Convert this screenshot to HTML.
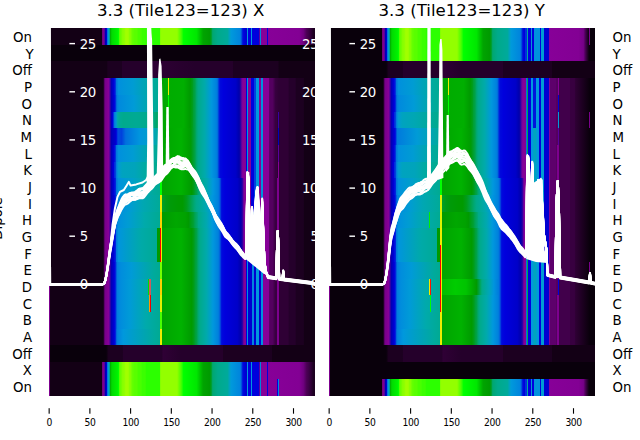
<!DOCTYPE html>
<html><head><meta charset="utf-8"><title>3.3 (Tile123=123)</title>
<style>html,body{margin:0;padding:0;background:#fff;overflow:hidden}svg{display:block}</style></head>
<body><svg width="640" height="440" viewBox="0 0 640 440">
<defs><linearGradient id="a0"><stop offset="0.00%" stop-color="#130015"/><stop offset="19.94%" stop-color="#130015"/><stop offset="19.94%" stop-color="#700080"/><stop offset="20.09%" stop-color="#700080"/><stop offset="20.40%" stop-color="#810092"/><stop offset="20.55%" stop-color="#810092"/><stop offset="20.55%" stop-color="#58009f"/><stop offset="20.86%" stop-color="#58009f"/><stop offset="20.86%" stop-color="#0000b1"/><stop offset="21.01%" stop-color="#0000b1"/><stop offset="21.63%" stop-color="#0000dd"/><stop offset="21.78%" stop-color="#0000dd"/><stop offset="21.78%" stop-color="#0078dd"/><stop offset="22.09%" stop-color="#0078dd"/><stop offset="22.09%" stop-color="#009ecf"/><stop offset="22.39%" stop-color="#009ecf"/><stop offset="22.39%" stop-color="#00aa90"/><stop offset="22.70%" stop-color="#00aa90"/><stop offset="22.70%" stop-color="#00ac00"/><stop offset="22.85%" stop-color="#00ac00"/><stop offset="23.47%" stop-color="#00da00"/><stop offset="25.61%" stop-color="#00f200"/><stop offset="25.92%" stop-color="#00ff00"/><stop offset="26.07%" stop-color="#00ff00"/><stop offset="26.07%" stop-color="#49ff00"/><stop offset="26.23%" stop-color="#49ff00"/><stop offset="26.53%" stop-color="#67ff00"/><stop offset="26.84%" stop-color="#67ff00"/><stop offset="27.45%" stop-color="#84ff00"/><stop offset="28.37%" stop-color="#93ff00"/><stop offset="28.68%" stop-color="#a1ff00"/><stop offset="29.60%" stop-color="#a1ff00"/><stop offset="30.21%" stop-color="#84ff00"/><stop offset="30.52%" stop-color="#84ff00"/><stop offset="31.13%" stop-color="#67ff00"/><stop offset="32.06%" stop-color="#58ff00"/><stop offset="32.98%" stop-color="#58ff00"/><stop offset="33.28%" stop-color="#49ff00"/><stop offset="34.51%" stop-color="#49ff00"/><stop offset="34.82%" stop-color="#3bff00"/><stop offset="36.04%" stop-color="#3bff00"/><stop offset="36.35%" stop-color="#2cff00"/><stop offset="41.72%" stop-color="#2cff00"/><stop offset="41.72%" stop-color="#84ff00"/><stop offset="41.87%" stop-color="#84ff00"/><stop offset="42.18%" stop-color="#93ff00"/><stop offset="48.01%" stop-color="#93ff00"/><stop offset="49.54%" stop-color="#49ff00"/><stop offset="50.46%" stop-color="#00ff00"/><stop offset="55.37%" stop-color="#00e700"/><stop offset="57.82%" stop-color="#00a400"/><stop offset="60.28%" stop-color="#009a00"/><stop offset="60.58%" stop-color="#009b13"/><stop offset="60.89%" stop-color="#009f33"/><stop offset="61.04%" stop-color="#009f33"/><stop offset="61.04%" stop-color="#00a55d"/><stop offset="61.20%" stop-color="#00a55d"/><stop offset="61.50%" stop-color="#00a773"/><stop offset="63.34%" stop-color="#00aa8b"/><stop offset="67.02%" stop-color="#00aa9b"/><stop offset="67.94%" stop-color="#00a0c7"/><stop offset="68.25%" stop-color="#009adb"/><stop offset="71.63%" stop-color="#0085dd"/><stop offset="71.93%" stop-color="#007add"/><stop offset="72.09%" stop-color="#007add"/><stop offset="72.09%" stop-color="#0054dd"/><stop offset="72.39%" stop-color="#0054dd"/><stop offset="72.39%" stop-color="#0025dd"/><stop offset="72.55%" stop-color="#0025dd"/><stop offset="72.85%" stop-color="#0009dd"/><stop offset="73.47%" stop-color="#0000d9"/><stop offset="74.08%" stop-color="#0000cd"/><stop offset="74.23%" stop-color="#0000cd"/><stop offset="74.23%" stop-color="#0098dd"/><stop offset="74.54%" stop-color="#0098dd"/><stop offset="74.54%" stop-color="#0000dd"/><stop offset="75.77%" stop-color="#0000dd"/><stop offset="75.77%" stop-color="#0098dd"/><stop offset="76.38%" stop-color="#0098dd"/><stop offset="76.38%" stop-color="#0000dd"/><stop offset="78.83%" stop-color="#0000dd"/><stop offset="78.83%" stop-color="#58009f"/><stop offset="79.14%" stop-color="#58009f"/><stop offset="79.14%" stop-color="#0085dd"/><stop offset="79.45%" stop-color="#0085dd"/><stop offset="79.45%" stop-color="#870098"/><stop offset="81.90%" stop-color="#870098"/><stop offset="81.90%" stop-color="#0000dd"/><stop offset="82.21%" stop-color="#0000dd"/><stop offset="82.21%" stop-color="#870098"/><stop offset="82.36%" stop-color="#870098"/><stop offset="94.02%" stop-color="#830094"/><stop offset="95.55%" stop-color="#700080"/><stop offset="96.78%" stop-color="#4b0055"/><stop offset="97.39%" stop-color="#41004b"/><stop offset="98.93%" stop-color="#25002b"/><stop offset="99.23%" stop-color="#1c0020"/><stop offset="100.00%" stop-color="#1c0020"/></linearGradient><linearGradient id="a1"><stop offset="0.00%" stop-color="#09000b"/><stop offset="100.00%" stop-color="#09000b"/></linearGradient><linearGradient id="a2"><stop offset="0.00%" stop-color="#130015"/><stop offset="21.63%" stop-color="#130015"/><stop offset="21.93%" stop-color="#1c0020"/><stop offset="27.15%" stop-color="#1c0020"/><stop offset="27.45%" stop-color="#25002b"/><stop offset="37.88%" stop-color="#25002b"/><stop offset="38.50%" stop-color="#2f0035"/><stop offset="54.45%" stop-color="#25002b"/><stop offset="68.87%" stop-color="#25002b"/><stop offset="69.17%" stop-color="#1c0020"/><stop offset="86.04%" stop-color="#1c0020"/><stop offset="86.35%" stop-color="#130015"/><stop offset="100.00%" stop-color="#130015"/></linearGradient><linearGradient id="a3"><stop offset="0.00%" stop-color="#130015"/><stop offset="20.09%" stop-color="#130015"/><stop offset="20.40%" stop-color="#25002b"/><stop offset="20.55%" stop-color="#25002b"/><stop offset="20.55%" stop-color="#5d006b"/><stop offset="20.71%" stop-color="#5d006b"/><stop offset="21.01%" stop-color="#7a008b"/><stop offset="22.24%" stop-color="#870098"/><stop offset="22.39%" stop-color="#870098"/><stop offset="22.39%" stop-color="#63009e"/><stop offset="22.70%" stop-color="#63009e"/><stop offset="22.70%" stop-color="#2d00a4"/><stop offset="23.01%" stop-color="#2d00a4"/><stop offset="23.01%" stop-color="#0000b1"/><stop offset="23.16%" stop-color="#0000b1"/><stop offset="24.08%" stop-color="#0000d5"/><stop offset="24.39%" stop-color="#0009dd"/><stop offset="25.00%" stop-color="#0041dd"/><stop offset="25.15%" stop-color="#0041dd"/><stop offset="25.15%" stop-color="#0078dd"/><stop offset="25.31%" stop-color="#0078dd"/><stop offset="25.92%" stop-color="#0090dd"/><stop offset="31.44%" stop-color="#009cd3"/><stop offset="39.11%" stop-color="#00aa9d"/><stop offset="41.56%" stop-color="#00aa93"/><stop offset="41.72%" stop-color="#00aa93"/><stop offset="41.72%" stop-color="#00bc00"/><stop offset="42.18%" stop-color="#00bc00"/><stop offset="42.48%" stop-color="#00a400"/><stop offset="44.33%" stop-color="#00ac00"/><stop offset="44.48%" stop-color="#00ac00"/><stop offset="44.48%" stop-color="#efed00"/><stop offset="44.79%" stop-color="#efed00"/><stop offset="44.79%" stop-color="#00ac00"/><stop offset="44.94%" stop-color="#00ac00"/><stop offset="50.46%" stop-color="#00af00"/><stop offset="52.91%" stop-color="#009a00"/><stop offset="53.83%" stop-color="#009d1d"/><stop offset="54.14%" stop-color="#009f33"/><stop offset="54.75%" stop-color="#00a248"/><stop offset="55.37%" stop-color="#00a773"/><stop offset="55.98%" stop-color="#00aa8b"/><stop offset="58.44%" stop-color="#00aaab"/><stop offset="60.89%" stop-color="#0098dd"/><stop offset="62.73%" stop-color="#0082dd"/><stop offset="63.04%" stop-color="#007add"/><stop offset="63.34%" stop-color="#0067dd"/><stop offset="63.50%" stop-color="#0067dd"/><stop offset="63.50%" stop-color="#0041dd"/><stop offset="63.80%" stop-color="#0041dd"/><stop offset="63.80%" stop-color="#001cdd"/><stop offset="63.96%" stop-color="#001cdd"/><stop offset="64.26%" stop-color="#0009dd"/><stop offset="65.49%" stop-color="#0000dd"/><stop offset="70.09%" stop-color="#0000c9"/><stop offset="71.32%" stop-color="#0000ad"/><stop offset="71.63%" stop-color="#0d00a8"/><stop offset="71.93%" stop-color="#2d00a4"/><stop offset="72.09%" stop-color="#2d00a4"/><stop offset="72.09%" stop-color="#58009f"/><stop offset="72.24%" stop-color="#58009f"/><stop offset="72.55%" stop-color="#78009b"/><stop offset="72.85%" stop-color="#870098"/><stop offset="73.77%" stop-color="#850096"/><stop offset="73.93%" stop-color="#850096"/><stop offset="73.93%" stop-color="#0000dd"/><stop offset="74.23%" stop-color="#0000dd"/><stop offset="74.23%" stop-color="#0098dd"/><stop offset="74.54%" stop-color="#0098dd"/><stop offset="74.54%" stop-color="#0000dd"/><stop offset="74.85%" stop-color="#0000dd"/><stop offset="74.85%" stop-color="#850096"/><stop offset="75.77%" stop-color="#850096"/><stop offset="75.77%" stop-color="#0000dd"/><stop offset="76.99%" stop-color="#0000dd"/><stop offset="76.99%" stop-color="#0041dd"/><stop offset="77.91%" stop-color="#0041dd"/><stop offset="77.91%" stop-color="#0098dd"/><stop offset="78.83%" stop-color="#0098dd"/><stop offset="78.83%" stop-color="#850096"/><stop offset="79.45%" stop-color="#850096"/><stop offset="79.45%" stop-color="#0092dd"/><stop offset="80.37%" stop-color="#0092dd"/><stop offset="80.37%" stop-color="#870098"/><stop offset="80.52%" stop-color="#870098"/><stop offset="82.36%" stop-color="#860097"/><stop offset="82.52%" stop-color="#860097"/><stop offset="82.52%" stop-color="#5d006b"/><stop offset="82.67%" stop-color="#5d006b"/><stop offset="82.98%" stop-color="#540060"/><stop offset="83.90%" stop-color="#540060"/><stop offset="84.20%" stop-color="#4b0055"/><stop offset="84.51%" stop-color="#4b0055"/><stop offset="84.82%" stop-color="#380040"/><stop offset="86.35%" stop-color="#2f0035"/><stop offset="89.72%" stop-color="#2f0035"/><stop offset="90.34%" stop-color="#25002b"/><stop offset="92.48%" stop-color="#25002b"/><stop offset="92.79%" stop-color="#1c0020"/><stop offset="95.55%" stop-color="#1c0020"/><stop offset="95.86%" stop-color="#130015"/><stop offset="100.00%" stop-color="#130015"/></linearGradient><linearGradient id="a4"><stop offset="0.00%" stop-color="#130015"/><stop offset="20.09%" stop-color="#130015"/><stop offset="20.40%" stop-color="#25002b"/><stop offset="20.55%" stop-color="#25002b"/><stop offset="20.55%" stop-color="#5d006b"/><stop offset="20.71%" stop-color="#5d006b"/><stop offset="21.01%" stop-color="#7a008b"/><stop offset="22.24%" stop-color="#870098"/><stop offset="22.39%" stop-color="#870098"/><stop offset="22.39%" stop-color="#63009e"/><stop offset="22.70%" stop-color="#63009e"/><stop offset="22.70%" stop-color="#2d00a4"/><stop offset="23.01%" stop-color="#2d00a4"/><stop offset="23.01%" stop-color="#0000b1"/><stop offset="23.16%" stop-color="#0000b1"/><stop offset="24.39%" stop-color="#0000dd"/><stop offset="25.00%" stop-color="#0038dd"/><stop offset="25.15%" stop-color="#0038dd"/><stop offset="25.15%" stop-color="#0067dd"/><stop offset="25.31%" stop-color="#0067dd"/><stop offset="25.61%" stop-color="#0082dd"/><stop offset="26.23%" stop-color="#008add"/><stop offset="31.75%" stop-color="#009bd7"/><stop offset="39.11%" stop-color="#00aa9d"/><stop offset="41.56%" stop-color="#00aa93"/><stop offset="41.72%" stop-color="#00aa93"/><stop offset="41.72%" stop-color="#00dc00"/><stop offset="42.33%" stop-color="#00dc00"/><stop offset="42.33%" stop-color="#00a400"/><stop offset="42.48%" stop-color="#00a400"/><stop offset="44.33%" stop-color="#00ac00"/><stop offset="44.48%" stop-color="#00ac00"/><stop offset="44.48%" stop-color="#00ff00"/><stop offset="44.79%" stop-color="#00ff00"/><stop offset="44.79%" stop-color="#00ac00"/><stop offset="44.94%" stop-color="#00ac00"/><stop offset="50.46%" stop-color="#00af00"/><stop offset="52.91%" stop-color="#009a00"/><stop offset="53.83%" stop-color="#009d1d"/><stop offset="54.14%" stop-color="#009f33"/><stop offset="54.75%" stop-color="#00a248"/><stop offset="55.37%" stop-color="#00a773"/><stop offset="55.98%" stop-color="#00aa8b"/><stop offset="58.44%" stop-color="#00aaab"/><stop offset="60.89%" stop-color="#0098dd"/><stop offset="62.73%" stop-color="#0082dd"/><stop offset="63.04%" stop-color="#007add"/><stop offset="63.34%" stop-color="#0067dd"/><stop offset="63.50%" stop-color="#0067dd"/><stop offset="63.50%" stop-color="#0041dd"/><stop offset="63.80%" stop-color="#0041dd"/><stop offset="63.80%" stop-color="#001cdd"/><stop offset="63.96%" stop-color="#001cdd"/><stop offset="64.26%" stop-color="#0009dd"/><stop offset="65.49%" stop-color="#0000dd"/><stop offset="70.09%" stop-color="#0000c9"/><stop offset="71.32%" stop-color="#0000ad"/><stop offset="71.63%" stop-color="#0d00a8"/><stop offset="71.93%" stop-color="#2d00a4"/><stop offset="72.09%" stop-color="#2d00a4"/><stop offset="72.09%" stop-color="#58009f"/><stop offset="72.24%" stop-color="#58009f"/><stop offset="72.55%" stop-color="#78009b"/><stop offset="72.85%" stop-color="#870098"/><stop offset="73.77%" stop-color="#850096"/><stop offset="73.93%" stop-color="#850096"/><stop offset="73.93%" stop-color="#0000dd"/><stop offset="74.23%" stop-color="#0000dd"/><stop offset="74.23%" stop-color="#0098dd"/><stop offset="74.54%" stop-color="#0098dd"/><stop offset="74.54%" stop-color="#0000dd"/><stop offset="74.85%" stop-color="#0000dd"/><stop offset="74.85%" stop-color="#850096"/><stop offset="75.77%" stop-color="#850096"/><stop offset="75.77%" stop-color="#0000dd"/><stop offset="76.99%" stop-color="#0000dd"/><stop offset="76.99%" stop-color="#0041dd"/><stop offset="77.91%" stop-color="#0041dd"/><stop offset="77.91%" stop-color="#0098dd"/><stop offset="78.83%" stop-color="#0098dd"/><stop offset="78.83%" stop-color="#850096"/><stop offset="79.45%" stop-color="#850096"/><stop offset="79.45%" stop-color="#0092dd"/><stop offset="80.37%" stop-color="#0092dd"/><stop offset="80.37%" stop-color="#870098"/><stop offset="80.52%" stop-color="#870098"/><stop offset="82.36%" stop-color="#860097"/><stop offset="82.52%" stop-color="#860097"/><stop offset="82.52%" stop-color="#5d006b"/><stop offset="82.67%" stop-color="#5d006b"/><stop offset="82.98%" stop-color="#540060"/><stop offset="83.90%" stop-color="#540060"/><stop offset="84.20%" stop-color="#4b0055"/><stop offset="84.51%" stop-color="#4b0055"/><stop offset="84.82%" stop-color="#380040"/><stop offset="86.35%" stop-color="#2f0035"/><stop offset="89.72%" stop-color="#2f0035"/><stop offset="90.34%" stop-color="#25002b"/><stop offset="92.48%" stop-color="#25002b"/><stop offset="92.79%" stop-color="#1c0020"/><stop offset="95.55%" stop-color="#1c0020"/><stop offset="95.86%" stop-color="#130015"/><stop offset="100.00%" stop-color="#130015"/></linearGradient><linearGradient id="a5"><stop offset="0.00%" stop-color="#130015"/><stop offset="20.09%" stop-color="#130015"/><stop offset="20.40%" stop-color="#25002b"/><stop offset="20.55%" stop-color="#25002b"/><stop offset="20.55%" stop-color="#5d006b"/><stop offset="20.71%" stop-color="#5d006b"/><stop offset="21.01%" stop-color="#7a008b"/><stop offset="22.24%" stop-color="#870098"/><stop offset="22.39%" stop-color="#870098"/><stop offset="22.39%" stop-color="#63009e"/><stop offset="22.70%" stop-color="#63009e"/><stop offset="22.70%" stop-color="#2d00a4"/><stop offset="23.01%" stop-color="#2d00a4"/><stop offset="23.01%" stop-color="#0000b1"/><stop offset="23.16%" stop-color="#0000b1"/><stop offset="23.77%" stop-color="#0000dd"/><stop offset="23.93%" stop-color="#0000dd"/><stop offset="23.93%" stop-color="#0038dd"/><stop offset="24.23%" stop-color="#0038dd"/><stop offset="24.23%" stop-color="#0078dd"/><stop offset="24.39%" stop-color="#0078dd"/><stop offset="25.00%" stop-color="#0092dd"/><stop offset="25.61%" stop-color="#00aaa8"/><stop offset="26.23%" stop-color="#00aa98"/><stop offset="27.76%" stop-color="#00aa8d"/><stop offset="32.67%" stop-color="#00aa93"/><stop offset="38.80%" stop-color="#00aa88"/><stop offset="40.95%" stop-color="#00a55d"/><stop offset="41.72%" stop-color="#00a55d"/><stop offset="41.72%" stop-color="#00dc00"/><stop offset="42.33%" stop-color="#00dc00"/><stop offset="42.33%" stop-color="#00a400"/><stop offset="42.48%" stop-color="#00a400"/><stop offset="44.33%" stop-color="#00ac00"/><stop offset="44.48%" stop-color="#00ac00"/><stop offset="44.48%" stop-color="#00ea00"/><stop offset="44.79%" stop-color="#00ea00"/><stop offset="44.79%" stop-color="#00ac00"/><stop offset="44.94%" stop-color="#00ac00"/><stop offset="50.46%" stop-color="#00af00"/><stop offset="52.91%" stop-color="#009a00"/><stop offset="53.83%" stop-color="#009d1d"/><stop offset="54.14%" stop-color="#009f33"/><stop offset="54.75%" stop-color="#00a248"/><stop offset="55.37%" stop-color="#00a773"/><stop offset="55.98%" stop-color="#00aa8b"/><stop offset="58.44%" stop-color="#00aaab"/><stop offset="60.89%" stop-color="#0098dd"/><stop offset="62.73%" stop-color="#0082dd"/><stop offset="63.04%" stop-color="#007add"/><stop offset="63.34%" stop-color="#0067dd"/><stop offset="63.50%" stop-color="#0067dd"/><stop offset="63.50%" stop-color="#0041dd"/><stop offset="63.80%" stop-color="#0041dd"/><stop offset="63.80%" stop-color="#001cdd"/><stop offset="63.96%" stop-color="#001cdd"/><stop offset="64.26%" stop-color="#0009dd"/><stop offset="65.49%" stop-color="#0000dd"/><stop offset="70.09%" stop-color="#0000c9"/><stop offset="71.32%" stop-color="#0000ad"/><stop offset="71.63%" stop-color="#0d00a8"/><stop offset="71.93%" stop-color="#2d00a4"/><stop offset="72.09%" stop-color="#2d00a4"/><stop offset="72.09%" stop-color="#58009f"/><stop offset="72.24%" stop-color="#58009f"/><stop offset="72.55%" stop-color="#78009b"/><stop offset="72.85%" stop-color="#870098"/><stop offset="73.77%" stop-color="#850096"/><stop offset="73.93%" stop-color="#850096"/><stop offset="73.93%" stop-color="#0000dd"/><stop offset="74.23%" stop-color="#0000dd"/><stop offset="74.23%" stop-color="#0098dd"/><stop offset="74.54%" stop-color="#0098dd"/><stop offset="74.54%" stop-color="#0000dd"/><stop offset="74.85%" stop-color="#0000dd"/><stop offset="74.85%" stop-color="#850096"/><stop offset="75.77%" stop-color="#850096"/><stop offset="75.77%" stop-color="#0000dd"/><stop offset="76.99%" stop-color="#0000dd"/><stop offset="76.99%" stop-color="#0041dd"/><stop offset="77.91%" stop-color="#0041dd"/><stop offset="77.91%" stop-color="#0098dd"/><stop offset="78.83%" stop-color="#0098dd"/><stop offset="78.83%" stop-color="#850096"/><stop offset="79.45%" stop-color="#850096"/><stop offset="79.45%" stop-color="#0092dd"/><stop offset="80.37%" stop-color="#0092dd"/><stop offset="80.37%" stop-color="#870098"/><stop offset="80.52%" stop-color="#870098"/><stop offset="82.36%" stop-color="#860097"/><stop offset="82.52%" stop-color="#860097"/><stop offset="82.52%" stop-color="#5d006b"/><stop offset="82.67%" stop-color="#5d006b"/><stop offset="82.98%" stop-color="#540060"/><stop offset="83.90%" stop-color="#540060"/><stop offset="84.20%" stop-color="#4b0055"/><stop offset="84.51%" stop-color="#4b0055"/><stop offset="84.82%" stop-color="#380040"/><stop offset="85.43%" stop-color="#380040"/><stop offset="85.74%" stop-color="#2f0035"/><stop offset="85.89%" stop-color="#2f0035"/><stop offset="85.89%" stop-color="#3800a3"/><stop offset="86.20%" stop-color="#3800a3"/><stop offset="86.20%" stop-color="#2f0035"/><stop offset="89.72%" stop-color="#2f0035"/><stop offset="90.34%" stop-color="#25002b"/><stop offset="92.48%" stop-color="#25002b"/><stop offset="92.79%" stop-color="#1c0020"/><stop offset="95.55%" stop-color="#1c0020"/><stop offset="95.86%" stop-color="#130015"/><stop offset="100.00%" stop-color="#130015"/></linearGradient><linearGradient id="a6"><stop offset="0.00%" stop-color="#130015"/><stop offset="20.09%" stop-color="#130015"/><stop offset="20.40%" stop-color="#25002b"/><stop offset="20.55%" stop-color="#25002b"/><stop offset="20.55%" stop-color="#5d006b"/><stop offset="20.71%" stop-color="#5d006b"/><stop offset="21.01%" stop-color="#7a008b"/><stop offset="22.24%" stop-color="#870098"/><stop offset="22.39%" stop-color="#870098"/><stop offset="22.39%" stop-color="#63009e"/><stop offset="22.70%" stop-color="#63009e"/><stop offset="22.70%" stop-color="#2d00a4"/><stop offset="23.01%" stop-color="#2d00a4"/><stop offset="23.01%" stop-color="#0000b1"/><stop offset="23.16%" stop-color="#0000b1"/><stop offset="23.77%" stop-color="#0000c1"/><stop offset="24.69%" stop-color="#0000cd"/><stop offset="25.00%" stop-color="#0000d5"/><stop offset="25.31%" stop-color="#0013dd"/><stop offset="25.46%" stop-color="#0013dd"/><stop offset="25.46%" stop-color="#0038dd"/><stop offset="25.61%" stop-color="#0038dd"/><stop offset="25.92%" stop-color="#004bdd"/><stop offset="27.15%" stop-color="#0041dd"/><stop offset="28.68%" stop-color="#0070dd"/><stop offset="33.90%" stop-color="#0095dd"/><stop offset="37.88%" stop-color="#009fcb"/><stop offset="40.64%" stop-color="#00aaa5"/><stop offset="41.56%" stop-color="#00aaa0"/><stop offset="41.72%" stop-color="#00aaa0"/><stop offset="41.72%" stop-color="#00dc00"/><stop offset="42.33%" stop-color="#00dc00"/><stop offset="42.33%" stop-color="#00a400"/><stop offset="42.48%" stop-color="#00a400"/><stop offset="49.54%" stop-color="#00b200"/><stop offset="52.61%" stop-color="#009f00"/><stop offset="53.22%" stop-color="#009a08"/><stop offset="54.75%" stop-color="#00a248"/><stop offset="55.37%" stop-color="#00a773"/><stop offset="55.98%" stop-color="#00aa8b"/><stop offset="58.44%" stop-color="#00aaab"/><stop offset="60.89%" stop-color="#0098dd"/><stop offset="62.73%" stop-color="#0082dd"/><stop offset="63.04%" stop-color="#007add"/><stop offset="63.34%" stop-color="#0067dd"/><stop offset="63.50%" stop-color="#0067dd"/><stop offset="63.50%" stop-color="#0041dd"/><stop offset="63.80%" stop-color="#0041dd"/><stop offset="63.80%" stop-color="#001cdd"/><stop offset="63.96%" stop-color="#001cdd"/><stop offset="64.26%" stop-color="#0009dd"/><stop offset="65.49%" stop-color="#0000dd"/><stop offset="70.09%" stop-color="#0000c9"/><stop offset="71.32%" stop-color="#0000ad"/><stop offset="71.63%" stop-color="#0d00a8"/><stop offset="71.93%" stop-color="#2d00a4"/><stop offset="72.09%" stop-color="#2d00a4"/><stop offset="72.09%" stop-color="#58009f"/><stop offset="72.24%" stop-color="#58009f"/><stop offset="72.55%" stop-color="#78009b"/><stop offset="72.85%" stop-color="#870098"/><stop offset="73.77%" stop-color="#850096"/><stop offset="73.93%" stop-color="#850096"/><stop offset="73.93%" stop-color="#0000dd"/><stop offset="74.23%" stop-color="#0000dd"/><stop offset="74.23%" stop-color="#0098dd"/><stop offset="74.54%" stop-color="#0098dd"/><stop offset="74.54%" stop-color="#0000dd"/><stop offset="74.85%" stop-color="#0000dd"/><stop offset="74.85%" stop-color="#850096"/><stop offset="75.77%" stop-color="#850096"/><stop offset="75.77%" stop-color="#0000dd"/><stop offset="76.99%" stop-color="#0000dd"/><stop offset="76.99%" stop-color="#0041dd"/><stop offset="77.91%" stop-color="#0041dd"/><stop offset="77.91%" stop-color="#0098dd"/><stop offset="78.83%" stop-color="#0098dd"/><stop offset="78.83%" stop-color="#850096"/><stop offset="79.45%" stop-color="#850096"/><stop offset="79.45%" stop-color="#0092dd"/><stop offset="80.37%" stop-color="#0092dd"/><stop offset="80.37%" stop-color="#870098"/><stop offset="80.52%" stop-color="#870098"/><stop offset="82.36%" stop-color="#860097"/><stop offset="82.52%" stop-color="#860097"/><stop offset="82.52%" stop-color="#5d006b"/><stop offset="82.67%" stop-color="#5d006b"/><stop offset="82.98%" stop-color="#540060"/><stop offset="83.90%" stop-color="#540060"/><stop offset="84.20%" stop-color="#4b0055"/><stop offset="84.51%" stop-color="#4b0055"/><stop offset="84.82%" stop-color="#380040"/><stop offset="85.43%" stop-color="#380040"/><stop offset="85.74%" stop-color="#2f0035"/><stop offset="85.89%" stop-color="#2f0035"/><stop offset="85.89%" stop-color="#0000bd"/><stop offset="86.20%" stop-color="#0000bd"/><stop offset="86.20%" stop-color="#2f0035"/><stop offset="89.72%" stop-color="#2f0035"/><stop offset="90.34%" stop-color="#25002b"/><stop offset="92.48%" stop-color="#25002b"/><stop offset="92.79%" stop-color="#1c0020"/><stop offset="95.55%" stop-color="#1c0020"/><stop offset="95.86%" stop-color="#130015"/><stop offset="100.00%" stop-color="#130015"/></linearGradient><linearGradient id="a7"><stop offset="0.00%" stop-color="#130015"/><stop offset="20.09%" stop-color="#130015"/><stop offset="20.40%" stop-color="#25002b"/><stop offset="20.55%" stop-color="#25002b"/><stop offset="20.55%" stop-color="#5d006b"/><stop offset="20.71%" stop-color="#5d006b"/><stop offset="21.01%" stop-color="#7a008b"/><stop offset="22.24%" stop-color="#870098"/><stop offset="22.39%" stop-color="#870098"/><stop offset="22.39%" stop-color="#63009e"/><stop offset="22.70%" stop-color="#63009e"/><stop offset="22.70%" stop-color="#2d00a4"/><stop offset="23.01%" stop-color="#2d00a4"/><stop offset="23.01%" stop-color="#0000b1"/><stop offset="23.16%" stop-color="#0000b1"/><stop offset="24.08%" stop-color="#0000d5"/><stop offset="24.39%" stop-color="#0009dd"/><stop offset="25.00%" stop-color="#0041dd"/><stop offset="25.15%" stop-color="#0041dd"/><stop offset="25.15%" stop-color="#0078dd"/><stop offset="25.31%" stop-color="#0078dd"/><stop offset="25.92%" stop-color="#0090dd"/><stop offset="31.44%" stop-color="#009cd3"/><stop offset="39.11%" stop-color="#00aa9d"/><stop offset="41.56%" stop-color="#00aa93"/><stop offset="41.72%" stop-color="#00aa93"/><stop offset="41.72%" stop-color="#00dc00"/><stop offset="42.33%" stop-color="#00dc00"/><stop offset="42.33%" stop-color="#00a400"/><stop offset="42.48%" stop-color="#00a400"/><stop offset="49.54%" stop-color="#00b200"/><stop offset="52.61%" stop-color="#009f00"/><stop offset="53.22%" stop-color="#009a08"/><stop offset="54.75%" stop-color="#00a248"/><stop offset="55.37%" stop-color="#00a773"/><stop offset="55.98%" stop-color="#00aa8b"/><stop offset="58.44%" stop-color="#00aaab"/><stop offset="60.89%" stop-color="#0098dd"/><stop offset="62.73%" stop-color="#0082dd"/><stop offset="63.04%" stop-color="#007add"/><stop offset="63.34%" stop-color="#0067dd"/><stop offset="63.50%" stop-color="#0067dd"/><stop offset="63.50%" stop-color="#0041dd"/><stop offset="63.80%" stop-color="#0041dd"/><stop offset="63.80%" stop-color="#001cdd"/><stop offset="63.96%" stop-color="#001cdd"/><stop offset="64.26%" stop-color="#0009dd"/><stop offset="65.49%" stop-color="#0000dd"/><stop offset="70.09%" stop-color="#0000c9"/><stop offset="71.32%" stop-color="#0000ad"/><stop offset="71.63%" stop-color="#0d00a8"/><stop offset="71.93%" stop-color="#2d00a4"/><stop offset="72.09%" stop-color="#2d00a4"/><stop offset="72.09%" stop-color="#58009f"/><stop offset="72.24%" stop-color="#58009f"/><stop offset="72.55%" stop-color="#78009b"/><stop offset="72.85%" stop-color="#870098"/><stop offset="73.77%" stop-color="#850096"/><stop offset="73.93%" stop-color="#850096"/><stop offset="73.93%" stop-color="#0000dd"/><stop offset="74.23%" stop-color="#0000dd"/><stop offset="74.23%" stop-color="#0098dd"/><stop offset="74.54%" stop-color="#0098dd"/><stop offset="74.54%" stop-color="#0000dd"/><stop offset="74.85%" stop-color="#0000dd"/><stop offset="74.85%" stop-color="#850096"/><stop offset="75.77%" stop-color="#850096"/><stop offset="75.77%" stop-color="#0000dd"/><stop offset="76.99%" stop-color="#0000dd"/><stop offset="76.99%" stop-color="#0041dd"/><stop offset="77.91%" stop-color="#0041dd"/><stop offset="77.91%" stop-color="#0098dd"/><stop offset="78.83%" stop-color="#0098dd"/><stop offset="78.83%" stop-color="#850096"/><stop offset="79.45%" stop-color="#850096"/><stop offset="79.45%" stop-color="#0092dd"/><stop offset="80.37%" stop-color="#0092dd"/><stop offset="80.37%" stop-color="#870098"/><stop offset="80.52%" stop-color="#870098"/><stop offset="82.36%" stop-color="#860097"/><stop offset="82.52%" stop-color="#860097"/><stop offset="82.52%" stop-color="#5d006b"/><stop offset="82.67%" stop-color="#5d006b"/><stop offset="82.98%" stop-color="#540060"/><stop offset="83.90%" stop-color="#540060"/><stop offset="84.20%" stop-color="#4b0055"/><stop offset="84.51%" stop-color="#4b0055"/><stop offset="84.82%" stop-color="#380040"/><stop offset="85.43%" stop-color="#380040"/><stop offset="85.74%" stop-color="#2f0035"/><stop offset="85.89%" stop-color="#2f0035"/><stop offset="85.89%" stop-color="#58009f"/><stop offset="86.20%" stop-color="#58009f"/><stop offset="86.20%" stop-color="#2f0035"/><stop offset="89.72%" stop-color="#2f0035"/><stop offset="90.34%" stop-color="#25002b"/><stop offset="92.48%" stop-color="#25002b"/><stop offset="92.79%" stop-color="#1c0020"/><stop offset="95.55%" stop-color="#1c0020"/><stop offset="95.86%" stop-color="#130015"/><stop offset="100.00%" stop-color="#130015"/></linearGradient><linearGradient id="a8"><stop offset="0.00%" stop-color="#130015"/><stop offset="20.09%" stop-color="#130015"/><stop offset="20.40%" stop-color="#25002b"/><stop offset="20.55%" stop-color="#25002b"/><stop offset="20.55%" stop-color="#5d006b"/><stop offset="20.71%" stop-color="#5d006b"/><stop offset="21.01%" stop-color="#7a008b"/><stop offset="22.24%" stop-color="#870098"/><stop offset="22.39%" stop-color="#870098"/><stop offset="22.39%" stop-color="#63009e"/><stop offset="22.70%" stop-color="#63009e"/><stop offset="22.70%" stop-color="#2d00a4"/><stop offset="23.01%" stop-color="#2d00a4"/><stop offset="23.01%" stop-color="#0000b1"/><stop offset="23.16%" stop-color="#0000b1"/><stop offset="24.08%" stop-color="#0000dd"/><stop offset="24.23%" stop-color="#0000dd"/><stop offset="24.23%" stop-color="#0025dd"/><stop offset="24.39%" stop-color="#0025dd"/><stop offset="24.69%" stop-color="#0041dd"/><stop offset="24.85%" stop-color="#0041dd"/><stop offset="24.85%" stop-color="#0067dd"/><stop offset="25.00%" stop-color="#0067dd"/><stop offset="25.31%" stop-color="#0085dd"/><stop offset="25.92%" stop-color="#009cd3"/><stop offset="27.45%" stop-color="#00a3bf"/><stop offset="32.06%" stop-color="#00a4bb"/><stop offset="35.74%" stop-color="#00aaa3"/><stop offset="41.56%" stop-color="#00aa8b"/><stop offset="41.72%" stop-color="#00aa8b"/><stop offset="41.72%" stop-color="#00f200"/><stop offset="42.33%" stop-color="#00f200"/><stop offset="42.33%" stop-color="#00a400"/><stop offset="42.48%" stop-color="#00a400"/><stop offset="49.54%" stop-color="#00b200"/><stop offset="52.61%" stop-color="#009f00"/><stop offset="53.22%" stop-color="#009a08"/><stop offset="54.75%" stop-color="#00a248"/><stop offset="55.37%" stop-color="#00a773"/><stop offset="55.98%" stop-color="#00aa8b"/><stop offset="58.44%" stop-color="#00aaab"/><stop offset="60.89%" stop-color="#0098dd"/><stop offset="62.73%" stop-color="#0082dd"/><stop offset="63.04%" stop-color="#007add"/><stop offset="63.34%" stop-color="#0067dd"/><stop offset="63.50%" stop-color="#0067dd"/><stop offset="63.50%" stop-color="#0041dd"/><stop offset="63.80%" stop-color="#0041dd"/><stop offset="63.80%" stop-color="#001cdd"/><stop offset="63.96%" stop-color="#001cdd"/><stop offset="64.26%" stop-color="#0009dd"/><stop offset="65.49%" stop-color="#0000dd"/><stop offset="70.09%" stop-color="#0000c9"/><stop offset="71.32%" stop-color="#0000ad"/><stop offset="71.63%" stop-color="#0d00a8"/><stop offset="71.93%" stop-color="#2d00a4"/><stop offset="72.09%" stop-color="#2d00a4"/><stop offset="72.09%" stop-color="#58009f"/><stop offset="72.24%" stop-color="#58009f"/><stop offset="72.55%" stop-color="#78009b"/><stop offset="72.85%" stop-color="#870098"/><stop offset="73.77%" stop-color="#850096"/><stop offset="73.93%" stop-color="#850096"/><stop offset="73.93%" stop-color="#0000dd"/><stop offset="74.23%" stop-color="#0000dd"/><stop offset="74.23%" stop-color="#0098dd"/><stop offset="74.54%" stop-color="#0098dd"/><stop offset="74.54%" stop-color="#0000dd"/><stop offset="74.85%" stop-color="#0000dd"/><stop offset="74.85%" stop-color="#850096"/><stop offset="75.77%" stop-color="#850096"/><stop offset="75.77%" stop-color="#0000dd"/><stop offset="76.99%" stop-color="#0000dd"/><stop offset="76.99%" stop-color="#0041dd"/><stop offset="77.91%" stop-color="#0041dd"/><stop offset="77.91%" stop-color="#0098dd"/><stop offset="78.83%" stop-color="#0098dd"/><stop offset="78.83%" stop-color="#850096"/><stop offset="79.45%" stop-color="#850096"/><stop offset="79.45%" stop-color="#0092dd"/><stop offset="80.37%" stop-color="#0092dd"/><stop offset="80.37%" stop-color="#870098"/><stop offset="80.52%" stop-color="#870098"/><stop offset="82.36%" stop-color="#860097"/><stop offset="82.52%" stop-color="#860097"/><stop offset="82.52%" stop-color="#5d006b"/><stop offset="82.67%" stop-color="#5d006b"/><stop offset="82.98%" stop-color="#540060"/><stop offset="83.90%" stop-color="#540060"/><stop offset="84.20%" stop-color="#4b0055"/><stop offset="84.51%" stop-color="#4b0055"/><stop offset="84.82%" stop-color="#380040"/><stop offset="85.43%" stop-color="#380040"/><stop offset="85.74%" stop-color="#2f0035"/><stop offset="85.89%" stop-color="#2f0035"/><stop offset="85.89%" stop-color="#870098"/><stop offset="86.20%" stop-color="#870098"/><stop offset="86.20%" stop-color="#2f0035"/><stop offset="89.72%" stop-color="#2f0035"/><stop offset="90.34%" stop-color="#25002b"/><stop offset="92.48%" stop-color="#25002b"/><stop offset="92.79%" stop-color="#1c0020"/><stop offset="95.55%" stop-color="#1c0020"/><stop offset="95.86%" stop-color="#130015"/><stop offset="100.00%" stop-color="#130015"/></linearGradient><linearGradient id="a9"><stop offset="0.00%" stop-color="#130015"/><stop offset="20.09%" stop-color="#130015"/><stop offset="20.40%" stop-color="#25002b"/><stop offset="20.55%" stop-color="#25002b"/><stop offset="20.55%" stop-color="#5d006b"/><stop offset="20.71%" stop-color="#5d006b"/><stop offset="21.01%" stop-color="#7a008b"/><stop offset="22.24%" stop-color="#870098"/><stop offset="22.39%" stop-color="#870098"/><stop offset="22.39%" stop-color="#63009e"/><stop offset="22.70%" stop-color="#63009e"/><stop offset="22.70%" stop-color="#2d00a4"/><stop offset="23.01%" stop-color="#2d00a4"/><stop offset="23.01%" stop-color="#0000b1"/><stop offset="23.16%" stop-color="#0000b1"/><stop offset="24.08%" stop-color="#0000d5"/><stop offset="24.39%" stop-color="#0009dd"/><stop offset="24.69%" stop-color="#0025dd"/><stop offset="24.85%" stop-color="#0025dd"/><stop offset="24.85%" stop-color="#004bdd"/><stop offset="25.15%" stop-color="#004bdd"/><stop offset="25.15%" stop-color="#0078dd"/><stop offset="25.31%" stop-color="#0078dd"/><stop offset="25.92%" stop-color="#0092dd"/><stop offset="30.83%" stop-color="#009fcb"/><stop offset="36.04%" stop-color="#00aaab"/><stop offset="41.56%" stop-color="#00aa93"/><stop offset="41.72%" stop-color="#00aa93"/><stop offset="41.72%" stop-color="#00ff00"/><stop offset="42.33%" stop-color="#00ff00"/><stop offset="42.33%" stop-color="#00a400"/><stop offset="42.48%" stop-color="#00a400"/><stop offset="49.54%" stop-color="#00b200"/><stop offset="53.53%" stop-color="#009a00"/><stop offset="54.45%" stop-color="#009d1d"/><stop offset="54.75%" stop-color="#009f33"/><stop offset="55.37%" stop-color="#00a248"/><stop offset="55.98%" stop-color="#00a773"/><stop offset="56.60%" stop-color="#00aa8b"/><stop offset="59.05%" stop-color="#00aaab"/><stop offset="61.50%" stop-color="#0098dd"/><stop offset="63.34%" stop-color="#0082dd"/><stop offset="63.65%" stop-color="#007add"/><stop offset="63.96%" stop-color="#0067dd"/><stop offset="64.11%" stop-color="#0067dd"/><stop offset="64.11%" stop-color="#0041dd"/><stop offset="64.42%" stop-color="#0041dd"/><stop offset="64.42%" stop-color="#001cdd"/><stop offset="64.57%" stop-color="#001cdd"/><stop offset="64.88%" stop-color="#0009dd"/><stop offset="66.10%" stop-color="#0000dd"/><stop offset="70.71%" stop-color="#0000c9"/><stop offset="71.93%" stop-color="#0000ad"/><stop offset="72.24%" stop-color="#0d00a8"/><stop offset="72.55%" stop-color="#2d00a4"/><stop offset="72.70%" stop-color="#2d00a4"/><stop offset="72.70%" stop-color="#58009f"/><stop offset="72.85%" stop-color="#58009f"/><stop offset="73.16%" stop-color="#78009b"/><stop offset="73.47%" stop-color="#870098"/><stop offset="73.77%" stop-color="#860097"/><stop offset="73.93%" stop-color="#860097"/><stop offset="73.93%" stop-color="#0000dd"/><stop offset="74.23%" stop-color="#0000dd"/><stop offset="74.23%" stop-color="#0098dd"/><stop offset="74.54%" stop-color="#0098dd"/><stop offset="74.54%" stop-color="#0000dd"/><stop offset="74.85%" stop-color="#0000dd"/><stop offset="74.85%" stop-color="#850096"/><stop offset="75.77%" stop-color="#850096"/><stop offset="75.77%" stop-color="#0000dd"/><stop offset="76.99%" stop-color="#0000dd"/><stop offset="76.99%" stop-color="#0041dd"/><stop offset="77.91%" stop-color="#0041dd"/><stop offset="77.91%" stop-color="#0098dd"/><stop offset="78.83%" stop-color="#0098dd"/><stop offset="78.83%" stop-color="#850096"/><stop offset="79.45%" stop-color="#850096"/><stop offset="79.45%" stop-color="#0092dd"/><stop offset="80.37%" stop-color="#0092dd"/><stop offset="80.37%" stop-color="#870098"/><stop offset="80.52%" stop-color="#870098"/><stop offset="82.36%" stop-color="#860097"/><stop offset="82.52%" stop-color="#860097"/><stop offset="82.52%" stop-color="#5d006b"/><stop offset="82.67%" stop-color="#5d006b"/><stop offset="82.98%" stop-color="#540060"/><stop offset="83.90%" stop-color="#540060"/><stop offset="84.20%" stop-color="#4b0055"/><stop offset="84.51%" stop-color="#4b0055"/><stop offset="84.82%" stop-color="#380040"/><stop offset="85.58%" stop-color="#380040"/><stop offset="85.58%" stop-color="#7d008e"/><stop offset="86.50%" stop-color="#7d008e"/><stop offset="86.50%" stop-color="#2f0035"/><stop offset="89.72%" stop-color="#2f0035"/><stop offset="90.34%" stop-color="#25002b"/><stop offset="92.48%" stop-color="#25002b"/><stop offset="92.79%" stop-color="#1c0020"/><stop offset="95.55%" stop-color="#1c0020"/><stop offset="95.86%" stop-color="#130015"/><stop offset="100.00%" stop-color="#130015"/></linearGradient><linearGradient id="a10"><stop offset="0.00%" stop-color="#130015"/><stop offset="20.09%" stop-color="#130015"/><stop offset="20.40%" stop-color="#25002b"/><stop offset="20.55%" stop-color="#25002b"/><stop offset="20.55%" stop-color="#5d006b"/><stop offset="20.71%" stop-color="#5d006b"/><stop offset="21.01%" stop-color="#7a008b"/><stop offset="22.24%" stop-color="#870098"/><stop offset="22.39%" stop-color="#870098"/><stop offset="22.39%" stop-color="#63009e"/><stop offset="22.70%" stop-color="#63009e"/><stop offset="22.70%" stop-color="#2d00a4"/><stop offset="23.01%" stop-color="#2d00a4"/><stop offset="23.01%" stop-color="#0000b1"/><stop offset="23.16%" stop-color="#0000b1"/><stop offset="24.39%" stop-color="#0000d9"/><stop offset="25.00%" stop-color="#002fdd"/><stop offset="25.15%" stop-color="#002fdd"/><stop offset="25.15%" stop-color="#005ddd"/><stop offset="25.46%" stop-color="#005ddd"/><stop offset="25.46%" stop-color="#0080dd"/><stop offset="25.61%" stop-color="#0080dd"/><stop offset="27.15%" stop-color="#0090dd"/><stop offset="30.21%" stop-color="#009cd3"/><stop offset="35.12%" stop-color="#00a7b3"/><stop offset="41.56%" stop-color="#00aa98"/><stop offset="41.72%" stop-color="#00aa98"/><stop offset="41.72%" stop-color="#efed00"/><stop offset="42.33%" stop-color="#efed00"/><stop offset="42.33%" stop-color="#009e28"/><stop offset="42.48%" stop-color="#009e28"/><stop offset="44.02%" stop-color="#009b13"/><stop offset="45.55%" stop-color="#009a08"/><stop offset="48.62%" stop-color="#009a00"/><stop offset="50.15%" stop-color="#009a00"/><stop offset="51.69%" stop-color="#009d1d"/><stop offset="54.75%" stop-color="#00a97d"/><stop offset="55.37%" stop-color="#00aa8b"/><stop offset="58.74%" stop-color="#00a8af"/><stop offset="61.20%" stop-color="#0098dd"/><stop offset="63.34%" stop-color="#0082dd"/><stop offset="63.65%" stop-color="#007add"/><stop offset="63.96%" stop-color="#0067dd"/><stop offset="64.11%" stop-color="#0067dd"/><stop offset="64.11%" stop-color="#0041dd"/><stop offset="64.42%" stop-color="#0041dd"/><stop offset="64.42%" stop-color="#001cdd"/><stop offset="64.57%" stop-color="#001cdd"/><stop offset="64.88%" stop-color="#0009dd"/><stop offset="66.10%" stop-color="#0000dd"/><stop offset="70.71%" stop-color="#0000c9"/><stop offset="71.93%" stop-color="#0000ad"/><stop offset="72.24%" stop-color="#0d00a8"/><stop offset="72.55%" stop-color="#2d00a4"/><stop offset="72.70%" stop-color="#2d00a4"/><stop offset="72.70%" stop-color="#58009f"/><stop offset="72.85%" stop-color="#58009f"/><stop offset="73.16%" stop-color="#78009b"/><stop offset="73.47%" stop-color="#870098"/><stop offset="73.77%" stop-color="#860097"/><stop offset="73.93%" stop-color="#860097"/><stop offset="73.93%" stop-color="#0000dd"/><stop offset="74.23%" stop-color="#0000dd"/><stop offset="74.23%" stop-color="#0098dd"/><stop offset="74.54%" stop-color="#0098dd"/><stop offset="74.54%" stop-color="#0000dd"/><stop offset="74.85%" stop-color="#0000dd"/><stop offset="74.85%" stop-color="#850096"/><stop offset="75.77%" stop-color="#850096"/><stop offset="75.77%" stop-color="#0000dd"/><stop offset="76.99%" stop-color="#0000dd"/><stop offset="76.99%" stop-color="#0041dd"/><stop offset="77.91%" stop-color="#0041dd"/><stop offset="77.91%" stop-color="#0098dd"/><stop offset="78.83%" stop-color="#0098dd"/><stop offset="78.83%" stop-color="#850096"/><stop offset="79.45%" stop-color="#850096"/><stop offset="79.45%" stop-color="#0092dd"/><stop offset="80.37%" stop-color="#0092dd"/><stop offset="80.37%" stop-color="#870098"/><stop offset="80.52%" stop-color="#870098"/><stop offset="82.36%" stop-color="#860097"/><stop offset="82.52%" stop-color="#860097"/><stop offset="82.52%" stop-color="#5d006b"/><stop offset="82.67%" stop-color="#5d006b"/><stop offset="82.98%" stop-color="#540060"/><stop offset="83.90%" stop-color="#540060"/><stop offset="84.20%" stop-color="#4b0055"/><stop offset="84.51%" stop-color="#4b0055"/><stop offset="84.82%" stop-color="#380040"/><stop offset="85.58%" stop-color="#380040"/><stop offset="85.58%" stop-color="#7d008e"/><stop offset="86.50%" stop-color="#7d008e"/><stop offset="86.50%" stop-color="#2f0035"/><stop offset="89.72%" stop-color="#2f0035"/><stop offset="90.34%" stop-color="#25002b"/><stop offset="92.48%" stop-color="#25002b"/><stop offset="92.79%" stop-color="#1c0020"/><stop offset="95.55%" stop-color="#1c0020"/><stop offset="95.86%" stop-color="#130015"/><stop offset="100.00%" stop-color="#130015"/></linearGradient><linearGradient id="a11"><stop offset="0.00%" stop-color="#130015"/><stop offset="20.09%" stop-color="#130015"/><stop offset="20.40%" stop-color="#25002b"/><stop offset="20.55%" stop-color="#25002b"/><stop offset="20.55%" stop-color="#5d006b"/><stop offset="20.71%" stop-color="#5d006b"/><stop offset="21.01%" stop-color="#7a008b"/><stop offset="22.24%" stop-color="#870098"/><stop offset="22.39%" stop-color="#870098"/><stop offset="22.39%" stop-color="#63009e"/><stop offset="22.70%" stop-color="#63009e"/><stop offset="22.70%" stop-color="#2d00a4"/><stop offset="23.01%" stop-color="#2d00a4"/><stop offset="23.01%" stop-color="#0000b1"/><stop offset="23.16%" stop-color="#0000b1"/><stop offset="24.08%" stop-color="#0000d5"/><stop offset="24.39%" stop-color="#0009dd"/><stop offset="25.00%" stop-color="#0041dd"/><stop offset="25.15%" stop-color="#0041dd"/><stop offset="25.15%" stop-color="#0078dd"/><stop offset="25.31%" stop-color="#0078dd"/><stop offset="25.92%" stop-color="#0090dd"/><stop offset="29.60%" stop-color="#009cd3"/><stop offset="35.74%" stop-color="#00aaab"/><stop offset="41.56%" stop-color="#00aa93"/><stop offset="41.72%" stop-color="#00aa93"/><stop offset="41.72%" stop-color="#fcd200"/><stop offset="42.33%" stop-color="#fcd200"/><stop offset="42.33%" stop-color="#009a00"/><stop offset="42.48%" stop-color="#009a00"/><stop offset="47.70%" stop-color="#00a700"/><stop offset="51.07%" stop-color="#00a200"/><stop offset="52.30%" stop-color="#009a00"/><stop offset="54.14%" stop-color="#009f33"/><stop offset="54.75%" stop-color="#00a353"/><stop offset="55.67%" stop-color="#00a773"/><stop offset="55.98%" stop-color="#00aa88"/><stop offset="59.05%" stop-color="#00a8af"/><stop offset="61.20%" stop-color="#009adb"/><stop offset="63.34%" stop-color="#0082dd"/><stop offset="63.65%" stop-color="#007add"/><stop offset="63.96%" stop-color="#0067dd"/><stop offset="64.11%" stop-color="#0067dd"/><stop offset="64.11%" stop-color="#0041dd"/><stop offset="64.42%" stop-color="#0041dd"/><stop offset="64.42%" stop-color="#001cdd"/><stop offset="64.57%" stop-color="#001cdd"/><stop offset="64.88%" stop-color="#0009dd"/><stop offset="66.10%" stop-color="#0000dd"/><stop offset="70.71%" stop-color="#0000c9"/><stop offset="71.93%" stop-color="#0000ad"/><stop offset="72.24%" stop-color="#0d00a8"/><stop offset="72.55%" stop-color="#2d00a4"/><stop offset="72.70%" stop-color="#2d00a4"/><stop offset="72.70%" stop-color="#58009f"/><stop offset="72.85%" stop-color="#58009f"/><stop offset="73.16%" stop-color="#78009b"/><stop offset="73.47%" stop-color="#870098"/><stop offset="73.77%" stop-color="#860097"/><stop offset="73.93%" stop-color="#860097"/><stop offset="73.93%" stop-color="#0000dd"/><stop offset="74.23%" stop-color="#0000dd"/><stop offset="74.23%" stop-color="#0098dd"/><stop offset="74.39%" stop-color="#0098dd"/><stop offset="74.69%" stop-color="#0085dd"/><stop offset="74.85%" stop-color="#0085dd"/><stop offset="74.85%" stop-color="#0000d1"/><stop offset="76.38%" stop-color="#0000d1"/><stop offset="76.38%" stop-color="#0085dd"/><stop offset="76.99%" stop-color="#0085dd"/><stop offset="76.99%" stop-color="#0000d1"/><stop offset="77.91%" stop-color="#0000d1"/><stop offset="77.91%" stop-color="#0098dd"/><stop offset="78.83%" stop-color="#0098dd"/><stop offset="78.83%" stop-color="#0000d1"/><stop offset="79.45%" stop-color="#0000d1"/><stop offset="79.45%" stop-color="#0092dd"/><stop offset="80.37%" stop-color="#0092dd"/><stop offset="80.37%" stop-color="#870098"/><stop offset="80.52%" stop-color="#870098"/><stop offset="82.36%" stop-color="#860097"/><stop offset="82.52%" stop-color="#860097"/><stop offset="82.52%" stop-color="#5d006b"/><stop offset="82.67%" stop-color="#5d006b"/><stop offset="82.98%" stop-color="#540060"/><stop offset="83.90%" stop-color="#540060"/><stop offset="84.20%" stop-color="#4b0055"/><stop offset="84.51%" stop-color="#4b0055"/><stop offset="84.82%" stop-color="#380040"/><stop offset="85.58%" stop-color="#380040"/><stop offset="85.58%" stop-color="#7d008e"/><stop offset="86.50%" stop-color="#7d008e"/><stop offset="86.50%" stop-color="#2f0035"/><stop offset="89.72%" stop-color="#2f0035"/><stop offset="90.34%" stop-color="#25002b"/><stop offset="92.48%" stop-color="#25002b"/><stop offset="92.79%" stop-color="#1c0020"/><stop offset="95.55%" stop-color="#1c0020"/><stop offset="95.86%" stop-color="#130015"/><stop offset="100.00%" stop-color="#130015"/></linearGradient><linearGradient id="a12"><stop offset="0.00%" stop-color="#130015"/><stop offset="20.09%" stop-color="#130015"/><stop offset="20.40%" stop-color="#25002b"/><stop offset="20.55%" stop-color="#25002b"/><stop offset="20.55%" stop-color="#5d006b"/><stop offset="20.71%" stop-color="#5d006b"/><stop offset="21.01%" stop-color="#7a008b"/><stop offset="22.24%" stop-color="#870098"/><stop offset="22.39%" stop-color="#870098"/><stop offset="22.39%" stop-color="#63009e"/><stop offset="22.70%" stop-color="#63009e"/><stop offset="22.70%" stop-color="#2d00a4"/><stop offset="23.01%" stop-color="#2d00a4"/><stop offset="23.01%" stop-color="#0000b1"/><stop offset="23.16%" stop-color="#0000b1"/><stop offset="24.08%" stop-color="#0000d5"/><stop offset="24.39%" stop-color="#0009dd"/><stop offset="24.69%" stop-color="#0025dd"/><stop offset="24.85%" stop-color="#0025dd"/><stop offset="24.85%" stop-color="#004bdd"/><stop offset="25.15%" stop-color="#004bdd"/><stop offset="25.15%" stop-color="#007add"/><stop offset="25.31%" stop-color="#007add"/><stop offset="25.92%" stop-color="#0095dd"/><stop offset="34.51%" stop-color="#00aaa8"/><stop offset="40.34%" stop-color="#00aa95"/><stop offset="40.49%" stop-color="#00aa95"/><stop offset="40.49%" stop-color="#009a00"/><stop offset="41.41%" stop-color="#009a00"/><stop offset="41.41%" stop-color="#00aa93"/><stop offset="41.72%" stop-color="#00aa93"/><stop offset="41.72%" stop-color="#f60000"/><stop offset="42.02%" stop-color="#f60000"/><stop offset="42.02%" stop-color="#efed00"/><stop offset="42.33%" stop-color="#efed00"/><stop offset="42.33%" stop-color="#00a400"/><stop offset="42.48%" stop-color="#00a400"/><stop offset="49.54%" stop-color="#00b200"/><stop offset="53.53%" stop-color="#009a00"/><stop offset="54.45%" stop-color="#009d1d"/><stop offset="54.75%" stop-color="#009f33"/><stop offset="55.37%" stop-color="#00a248"/><stop offset="55.98%" stop-color="#00a773"/><stop offset="56.60%" stop-color="#00aa8b"/><stop offset="59.05%" stop-color="#00aaab"/><stop offset="61.50%" stop-color="#0098dd"/><stop offset="63.34%" stop-color="#0082dd"/><stop offset="63.65%" stop-color="#007add"/><stop offset="63.96%" stop-color="#0067dd"/><stop offset="64.11%" stop-color="#0067dd"/><stop offset="64.11%" stop-color="#0041dd"/><stop offset="64.42%" stop-color="#0041dd"/><stop offset="64.42%" stop-color="#001cdd"/><stop offset="64.57%" stop-color="#001cdd"/><stop offset="64.88%" stop-color="#0009dd"/><stop offset="66.10%" stop-color="#0000dd"/><stop offset="70.71%" stop-color="#0000c9"/><stop offset="71.93%" stop-color="#0000ad"/><stop offset="72.24%" stop-color="#0d00a8"/><stop offset="72.55%" stop-color="#2d00a4"/><stop offset="72.70%" stop-color="#2d00a4"/><stop offset="72.70%" stop-color="#58009f"/><stop offset="72.85%" stop-color="#58009f"/><stop offset="73.16%" stop-color="#78009b"/><stop offset="73.47%" stop-color="#870098"/><stop offset="73.77%" stop-color="#860097"/><stop offset="73.93%" stop-color="#860097"/><stop offset="73.93%" stop-color="#0000dd"/><stop offset="74.23%" stop-color="#0000dd"/><stop offset="74.23%" stop-color="#0098dd"/><stop offset="74.39%" stop-color="#0098dd"/><stop offset="74.69%" stop-color="#0085dd"/><stop offset="74.85%" stop-color="#0085dd"/><stop offset="74.85%" stop-color="#0000d1"/><stop offset="76.38%" stop-color="#0000d1"/><stop offset="76.38%" stop-color="#0085dd"/><stop offset="76.99%" stop-color="#0085dd"/><stop offset="76.99%" stop-color="#0000d1"/><stop offset="77.91%" stop-color="#0000d1"/><stop offset="77.91%" stop-color="#0098dd"/><stop offset="78.83%" stop-color="#0098dd"/><stop offset="78.83%" stop-color="#0000d1"/><stop offset="79.45%" stop-color="#0000d1"/><stop offset="79.45%" stop-color="#0092dd"/><stop offset="80.37%" stop-color="#0092dd"/><stop offset="80.37%" stop-color="#870098"/><stop offset="80.52%" stop-color="#870098"/><stop offset="82.36%" stop-color="#860097"/><stop offset="82.52%" stop-color="#860097"/><stop offset="82.52%" stop-color="#5d006b"/><stop offset="82.67%" stop-color="#5d006b"/><stop offset="82.98%" stop-color="#540060"/><stop offset="83.90%" stop-color="#540060"/><stop offset="84.20%" stop-color="#4b0055"/><stop offset="84.51%" stop-color="#4b0055"/><stop offset="84.82%" stop-color="#380040"/><stop offset="85.58%" stop-color="#380040"/><stop offset="85.58%" stop-color="#7d008e"/><stop offset="86.50%" stop-color="#7d008e"/><stop offset="86.50%" stop-color="#2f0035"/><stop offset="89.72%" stop-color="#2f0035"/><stop offset="90.34%" stop-color="#25002b"/><stop offset="92.48%" stop-color="#25002b"/><stop offset="92.79%" stop-color="#1c0020"/><stop offset="95.55%" stop-color="#1c0020"/><stop offset="95.86%" stop-color="#130015"/><stop offset="100.00%" stop-color="#130015"/></linearGradient><linearGradient id="a13"><stop offset="0.00%" stop-color="#130015"/><stop offset="20.09%" stop-color="#130015"/><stop offset="20.40%" stop-color="#25002b"/><stop offset="20.55%" stop-color="#25002b"/><stop offset="20.55%" stop-color="#5d006b"/><stop offset="20.71%" stop-color="#5d006b"/><stop offset="21.01%" stop-color="#7a008b"/><stop offset="22.24%" stop-color="#870098"/><stop offset="22.39%" stop-color="#870098"/><stop offset="22.39%" stop-color="#63009e"/><stop offset="22.70%" stop-color="#63009e"/><stop offset="22.70%" stop-color="#2d00a4"/><stop offset="23.01%" stop-color="#2d00a4"/><stop offset="23.01%" stop-color="#0000b1"/><stop offset="23.16%" stop-color="#0000b1"/><stop offset="24.08%" stop-color="#0000d5"/><stop offset="24.39%" stop-color="#0009dd"/><stop offset="24.69%" stop-color="#0025dd"/><stop offset="24.85%" stop-color="#0025dd"/><stop offset="24.85%" stop-color="#004bdd"/><stop offset="25.15%" stop-color="#004bdd"/><stop offset="25.15%" stop-color="#007add"/><stop offset="25.31%" stop-color="#007add"/><stop offset="25.92%" stop-color="#0095dd"/><stop offset="34.51%" stop-color="#00aaa8"/><stop offset="40.34%" stop-color="#00aa95"/><stop offset="40.49%" stop-color="#00aa95"/><stop offset="40.49%" stop-color="#009a00"/><stop offset="41.41%" stop-color="#009a00"/><stop offset="41.41%" stop-color="#00aa93"/><stop offset="41.72%" stop-color="#00aa93"/><stop offset="41.72%" stop-color="#f60000"/><stop offset="42.02%" stop-color="#f60000"/><stop offset="42.02%" stop-color="#efed00"/><stop offset="42.33%" stop-color="#efed00"/><stop offset="42.33%" stop-color="#00a400"/><stop offset="42.48%" stop-color="#00a400"/><stop offset="49.54%" stop-color="#00b200"/><stop offset="53.53%" stop-color="#009a00"/><stop offset="54.45%" stop-color="#009d1d"/><stop offset="54.75%" stop-color="#009f33"/><stop offset="55.37%" stop-color="#00a248"/><stop offset="55.98%" stop-color="#00a773"/><stop offset="56.60%" stop-color="#00aa8b"/><stop offset="59.05%" stop-color="#00aaab"/><stop offset="61.50%" stop-color="#0098dd"/><stop offset="63.34%" stop-color="#0082dd"/><stop offset="63.65%" stop-color="#007add"/><stop offset="63.96%" stop-color="#0067dd"/><stop offset="64.11%" stop-color="#0067dd"/><stop offset="64.11%" stop-color="#0041dd"/><stop offset="64.42%" stop-color="#0041dd"/><stop offset="64.42%" stop-color="#001cdd"/><stop offset="64.57%" stop-color="#001cdd"/><stop offset="64.88%" stop-color="#0009dd"/><stop offset="66.10%" stop-color="#0000dd"/><stop offset="70.71%" stop-color="#0000c9"/><stop offset="71.93%" stop-color="#0000ad"/><stop offset="72.24%" stop-color="#0d00a8"/><stop offset="72.55%" stop-color="#2d00a4"/><stop offset="72.70%" stop-color="#2d00a4"/><stop offset="72.70%" stop-color="#58009f"/><stop offset="72.85%" stop-color="#58009f"/><stop offset="73.16%" stop-color="#78009b"/><stop offset="73.47%" stop-color="#870098"/><stop offset="73.77%" stop-color="#860097"/><stop offset="73.93%" stop-color="#860097"/><stop offset="73.93%" stop-color="#0000dd"/><stop offset="74.23%" stop-color="#0000dd"/><stop offset="74.23%" stop-color="#0098dd"/><stop offset="74.39%" stop-color="#0098dd"/><stop offset="74.69%" stop-color="#0085dd"/><stop offset="74.85%" stop-color="#0085dd"/><stop offset="74.85%" stop-color="#0000d1"/><stop offset="76.38%" stop-color="#0000d1"/><stop offset="76.38%" stop-color="#0085dd"/><stop offset="76.99%" stop-color="#0085dd"/><stop offset="76.99%" stop-color="#0000d1"/><stop offset="77.91%" stop-color="#0000d1"/><stop offset="77.91%" stop-color="#0098dd"/><stop offset="78.83%" stop-color="#0098dd"/><stop offset="78.83%" stop-color="#0000d1"/><stop offset="79.45%" stop-color="#0000d1"/><stop offset="79.45%" stop-color="#0092dd"/><stop offset="80.37%" stop-color="#0092dd"/><stop offset="80.37%" stop-color="#870098"/><stop offset="80.52%" stop-color="#870098"/><stop offset="82.36%" stop-color="#860097"/><stop offset="82.52%" stop-color="#860097"/><stop offset="82.52%" stop-color="#5d006b"/><stop offset="82.67%" stop-color="#5d006b"/><stop offset="82.98%" stop-color="#540060"/><stop offset="83.90%" stop-color="#540060"/><stop offset="84.20%" stop-color="#4b0055"/><stop offset="84.51%" stop-color="#4b0055"/><stop offset="84.82%" stop-color="#380040"/><stop offset="85.58%" stop-color="#380040"/><stop offset="85.58%" stop-color="#7d008e"/><stop offset="86.50%" stop-color="#7d008e"/><stop offset="86.50%" stop-color="#2f0035"/><stop offset="89.72%" stop-color="#2f0035"/><stop offset="90.34%" stop-color="#25002b"/><stop offset="92.48%" stop-color="#25002b"/><stop offset="92.79%" stop-color="#1c0020"/><stop offset="95.55%" stop-color="#1c0020"/><stop offset="95.86%" stop-color="#130015"/><stop offset="100.00%" stop-color="#130015"/></linearGradient><linearGradient id="a14"><stop offset="0.00%" stop-color="#130015"/><stop offset="20.09%" stop-color="#130015"/><stop offset="20.40%" stop-color="#25002b"/><stop offset="20.55%" stop-color="#25002b"/><stop offset="20.55%" stop-color="#5d006b"/><stop offset="20.71%" stop-color="#5d006b"/><stop offset="21.01%" stop-color="#7a008b"/><stop offset="22.24%" stop-color="#870098"/><stop offset="22.39%" stop-color="#870098"/><stop offset="22.39%" stop-color="#63009e"/><stop offset="22.70%" stop-color="#63009e"/><stop offset="22.70%" stop-color="#2d00a4"/><stop offset="23.01%" stop-color="#2d00a4"/><stop offset="23.01%" stop-color="#0000b1"/><stop offset="23.16%" stop-color="#0000b1"/><stop offset="24.39%" stop-color="#0000d9"/><stop offset="25.00%" stop-color="#002fdd"/><stop offset="25.15%" stop-color="#002fdd"/><stop offset="25.15%" stop-color="#005ddd"/><stop offset="25.46%" stop-color="#005ddd"/><stop offset="25.46%" stop-color="#0080dd"/><stop offset="25.61%" stop-color="#0080dd"/><stop offset="26.84%" stop-color="#008ddd"/><stop offset="30.83%" stop-color="#009bd7"/><stop offset="39.11%" stop-color="#00aa9d"/><stop offset="41.56%" stop-color="#00aa93"/><stop offset="41.72%" stop-color="#00aa93"/><stop offset="41.72%" stop-color="#75ff00"/><stop offset="42.33%" stop-color="#75ff00"/><stop offset="42.33%" stop-color="#00a400"/><stop offset="42.48%" stop-color="#00a400"/><stop offset="49.54%" stop-color="#00b200"/><stop offset="53.53%" stop-color="#009a00"/><stop offset="54.45%" stop-color="#009d1d"/><stop offset="54.75%" stop-color="#009f33"/><stop offset="55.37%" stop-color="#00a248"/><stop offset="55.98%" stop-color="#00a773"/><stop offset="56.60%" stop-color="#00aa8b"/><stop offset="59.05%" stop-color="#00aaab"/><stop offset="61.50%" stop-color="#0098dd"/><stop offset="63.34%" stop-color="#0082dd"/><stop offset="63.65%" stop-color="#007add"/><stop offset="63.96%" stop-color="#0067dd"/><stop offset="64.11%" stop-color="#0067dd"/><stop offset="64.11%" stop-color="#0041dd"/><stop offset="64.42%" stop-color="#0041dd"/><stop offset="64.42%" stop-color="#001cdd"/><stop offset="64.57%" stop-color="#001cdd"/><stop offset="64.88%" stop-color="#0009dd"/><stop offset="66.10%" stop-color="#0000dd"/><stop offset="70.71%" stop-color="#0000c9"/><stop offset="71.93%" stop-color="#0000ad"/><stop offset="72.24%" stop-color="#0d00a8"/><stop offset="72.55%" stop-color="#2d00a4"/><stop offset="72.70%" stop-color="#2d00a4"/><stop offset="72.70%" stop-color="#58009f"/><stop offset="72.85%" stop-color="#58009f"/><stop offset="73.16%" stop-color="#78009b"/><stop offset="73.47%" stop-color="#870098"/><stop offset="73.77%" stop-color="#860097"/><stop offset="73.93%" stop-color="#860097"/><stop offset="73.93%" stop-color="#0000dd"/><stop offset="74.23%" stop-color="#0000dd"/><stop offset="74.23%" stop-color="#0098dd"/><stop offset="74.39%" stop-color="#0098dd"/><stop offset="74.69%" stop-color="#0085dd"/><stop offset="74.85%" stop-color="#0085dd"/><stop offset="74.85%" stop-color="#0000d1"/><stop offset="76.38%" stop-color="#0000d1"/><stop offset="76.38%" stop-color="#0085dd"/><stop offset="76.99%" stop-color="#0085dd"/><stop offset="76.99%" stop-color="#0000d1"/><stop offset="77.91%" stop-color="#0000d1"/><stop offset="77.91%" stop-color="#0098dd"/><stop offset="78.83%" stop-color="#0098dd"/><stop offset="78.83%" stop-color="#0000d1"/><stop offset="79.45%" stop-color="#0000d1"/><stop offset="79.45%" stop-color="#0092dd"/><stop offset="80.37%" stop-color="#0092dd"/><stop offset="80.37%" stop-color="#870098"/><stop offset="80.52%" stop-color="#870098"/><stop offset="82.36%" stop-color="#860097"/><stop offset="82.52%" stop-color="#860097"/><stop offset="82.52%" stop-color="#5d006b"/><stop offset="82.67%" stop-color="#5d006b"/><stop offset="82.98%" stop-color="#540060"/><stop offset="83.90%" stop-color="#540060"/><stop offset="84.20%" stop-color="#4b0055"/><stop offset="84.51%" stop-color="#4b0055"/><stop offset="84.82%" stop-color="#380040"/><stop offset="85.58%" stop-color="#380040"/><stop offset="85.58%" stop-color="#7d008e"/><stop offset="86.50%" stop-color="#7d008e"/><stop offset="86.50%" stop-color="#2f0035"/><stop offset="89.72%" stop-color="#2f0035"/><stop offset="90.34%" stop-color="#25002b"/><stop offset="92.48%" stop-color="#25002b"/><stop offset="92.79%" stop-color="#1c0020"/><stop offset="95.55%" stop-color="#1c0020"/><stop offset="95.86%" stop-color="#130015"/><stop offset="100.00%" stop-color="#130015"/></linearGradient><linearGradient id="a15"><stop offset="0.00%" stop-color="#130015"/><stop offset="20.09%" stop-color="#130015"/><stop offset="20.40%" stop-color="#25002b"/><stop offset="20.55%" stop-color="#25002b"/><stop offset="20.55%" stop-color="#5d006b"/><stop offset="20.71%" stop-color="#5d006b"/><stop offset="21.01%" stop-color="#7a008b"/><stop offset="22.24%" stop-color="#870098"/><stop offset="22.39%" stop-color="#870098"/><stop offset="22.39%" stop-color="#63009e"/><stop offset="22.70%" stop-color="#63009e"/><stop offset="22.70%" stop-color="#2d00a4"/><stop offset="23.01%" stop-color="#2d00a4"/><stop offset="23.01%" stop-color="#0000b1"/><stop offset="23.16%" stop-color="#0000b1"/><stop offset="24.39%" stop-color="#0000d9"/><stop offset="25.00%" stop-color="#002fdd"/><stop offset="25.15%" stop-color="#002fdd"/><stop offset="25.15%" stop-color="#005ddd"/><stop offset="25.46%" stop-color="#005ddd"/><stop offset="25.46%" stop-color="#0080dd"/><stop offset="25.61%" stop-color="#0080dd"/><stop offset="26.84%" stop-color="#008ddd"/><stop offset="30.21%" stop-color="#009bd7"/><stop offset="36.35%" stop-color="#00aaab"/><stop offset="36.96%" stop-color="#00aaa8"/><stop offset="37.12%" stop-color="#00aaa8"/><stop offset="37.12%" stop-color="#00dc00"/><stop offset="37.42%" stop-color="#00dc00"/><stop offset="37.42%" stop-color="#cc5c5c"/><stop offset="38.04%" stop-color="#cc5c5c"/><stop offset="38.04%" stop-color="#00aaa5"/><stop offset="38.19%" stop-color="#00aaa5"/><stop offset="41.56%" stop-color="#00aa93"/><stop offset="41.72%" stop-color="#00aa93"/><stop offset="41.72%" stop-color="#fcd200"/><stop offset="42.33%" stop-color="#fcd200"/><stop offset="42.33%" stop-color="#00a400"/><stop offset="42.48%" stop-color="#00a400"/><stop offset="49.54%" stop-color="#00b200"/><stop offset="53.53%" stop-color="#009a00"/><stop offset="54.45%" stop-color="#009d1d"/><stop offset="54.75%" stop-color="#009f33"/><stop offset="55.37%" stop-color="#00a248"/><stop offset="55.98%" stop-color="#00a773"/><stop offset="56.60%" stop-color="#00aa8b"/><stop offset="59.05%" stop-color="#00aaab"/><stop offset="61.50%" stop-color="#0098dd"/><stop offset="63.34%" stop-color="#0082dd"/><stop offset="63.65%" stop-color="#007add"/><stop offset="63.96%" stop-color="#0067dd"/><stop offset="64.11%" stop-color="#0067dd"/><stop offset="64.11%" stop-color="#0041dd"/><stop offset="64.42%" stop-color="#0041dd"/><stop offset="64.42%" stop-color="#001cdd"/><stop offset="64.57%" stop-color="#001cdd"/><stop offset="64.88%" stop-color="#0009dd"/><stop offset="66.10%" stop-color="#0000dd"/><stop offset="70.71%" stop-color="#0000c9"/><stop offset="71.93%" stop-color="#0000ad"/><stop offset="72.24%" stop-color="#0d00a8"/><stop offset="72.55%" stop-color="#2d00a4"/><stop offset="72.70%" stop-color="#2d00a4"/><stop offset="72.70%" stop-color="#58009f"/><stop offset="72.85%" stop-color="#58009f"/><stop offset="73.16%" stop-color="#78009b"/><stop offset="73.47%" stop-color="#870098"/><stop offset="73.77%" stop-color="#860097"/><stop offset="73.93%" stop-color="#860097"/><stop offset="73.93%" stop-color="#0000dd"/><stop offset="74.23%" stop-color="#0000dd"/><stop offset="74.23%" stop-color="#0098dd"/><stop offset="74.39%" stop-color="#0098dd"/><stop offset="74.69%" stop-color="#0085dd"/><stop offset="74.85%" stop-color="#0085dd"/><stop offset="74.85%" stop-color="#0000d1"/><stop offset="76.38%" stop-color="#0000d1"/><stop offset="76.38%" stop-color="#0085dd"/><stop offset="76.99%" stop-color="#0085dd"/><stop offset="76.99%" stop-color="#0000d1"/><stop offset="77.91%" stop-color="#0000d1"/><stop offset="77.91%" stop-color="#0098dd"/><stop offset="78.83%" stop-color="#0098dd"/><stop offset="78.83%" stop-color="#0000d1"/><stop offset="79.45%" stop-color="#0000d1"/><stop offset="79.45%" stop-color="#0092dd"/><stop offset="80.37%" stop-color="#0092dd"/><stop offset="80.37%" stop-color="#870098"/><stop offset="80.52%" stop-color="#870098"/><stop offset="82.36%" stop-color="#860097"/><stop offset="82.52%" stop-color="#860097"/><stop offset="82.52%" stop-color="#5d006b"/><stop offset="82.67%" stop-color="#5d006b"/><stop offset="82.98%" stop-color="#540060"/><stop offset="83.90%" stop-color="#540060"/><stop offset="84.20%" stop-color="#4b0055"/><stop offset="84.51%" stop-color="#4b0055"/><stop offset="84.82%" stop-color="#380040"/><stop offset="85.58%" stop-color="#380040"/><stop offset="85.58%" stop-color="#7d008e"/><stop offset="86.50%" stop-color="#7d008e"/><stop offset="86.50%" stop-color="#2f0035"/><stop offset="89.72%" stop-color="#2f0035"/><stop offset="90.34%" stop-color="#25002b"/><stop offset="92.48%" stop-color="#25002b"/><stop offset="92.79%" stop-color="#1c0020"/><stop offset="95.55%" stop-color="#1c0020"/><stop offset="95.86%" stop-color="#130015"/><stop offset="100.00%" stop-color="#130015"/></linearGradient><linearGradient id="a16"><stop offset="0.00%" stop-color="#130015"/><stop offset="20.09%" stop-color="#130015"/><stop offset="20.40%" stop-color="#25002b"/><stop offset="20.55%" stop-color="#25002b"/><stop offset="20.55%" stop-color="#5d006b"/><stop offset="20.71%" stop-color="#5d006b"/><stop offset="21.01%" stop-color="#7a008b"/><stop offset="22.24%" stop-color="#870098"/><stop offset="22.39%" stop-color="#870098"/><stop offset="22.39%" stop-color="#63009e"/><stop offset="22.70%" stop-color="#63009e"/><stop offset="22.70%" stop-color="#2d00a4"/><stop offset="23.01%" stop-color="#2d00a4"/><stop offset="23.01%" stop-color="#0000b1"/><stop offset="23.16%" stop-color="#0000b1"/><stop offset="24.39%" stop-color="#0000d9"/><stop offset="25.00%" stop-color="#002fdd"/><stop offset="25.15%" stop-color="#002fdd"/><stop offset="25.15%" stop-color="#005ddd"/><stop offset="25.46%" stop-color="#005ddd"/><stop offset="25.46%" stop-color="#0080dd"/><stop offset="25.61%" stop-color="#0080dd"/><stop offset="26.84%" stop-color="#008ddd"/><stop offset="30.21%" stop-color="#009bd7"/><stop offset="36.35%" stop-color="#00aaab"/><stop offset="37.27%" stop-color="#00aaa8"/><stop offset="37.42%" stop-color="#00aaa8"/><stop offset="37.42%" stop-color="#ff9900"/><stop offset="37.73%" stop-color="#ff9900"/><stop offset="37.73%" stop-color="#f10000"/><stop offset="38.04%" stop-color="#f10000"/><stop offset="38.04%" stop-color="#00aaa5"/><stop offset="38.19%" stop-color="#00aaa5"/><stop offset="41.56%" stop-color="#00aa93"/><stop offset="41.72%" stop-color="#00aa93"/><stop offset="41.72%" stop-color="#e4f100"/><stop offset="42.33%" stop-color="#e4f100"/><stop offset="42.33%" stop-color="#00a400"/><stop offset="42.48%" stop-color="#00a400"/><stop offset="49.54%" stop-color="#00b200"/><stop offset="53.53%" stop-color="#009a00"/><stop offset="54.45%" stop-color="#009d1d"/><stop offset="54.75%" stop-color="#009f33"/><stop offset="55.37%" stop-color="#00a248"/><stop offset="55.98%" stop-color="#00a773"/><stop offset="56.60%" stop-color="#00aa8b"/><stop offset="59.05%" stop-color="#00aaab"/><stop offset="61.50%" stop-color="#0098dd"/><stop offset="63.34%" stop-color="#0082dd"/><stop offset="63.65%" stop-color="#007add"/><stop offset="63.96%" stop-color="#0067dd"/><stop offset="64.11%" stop-color="#0067dd"/><stop offset="64.11%" stop-color="#0041dd"/><stop offset="64.42%" stop-color="#0041dd"/><stop offset="64.42%" stop-color="#001cdd"/><stop offset="64.57%" stop-color="#001cdd"/><stop offset="64.88%" stop-color="#0009dd"/><stop offset="66.10%" stop-color="#0000dd"/><stop offset="70.71%" stop-color="#0000c9"/><stop offset="71.93%" stop-color="#0000ad"/><stop offset="72.24%" stop-color="#0d00a8"/><stop offset="72.55%" stop-color="#2d00a4"/><stop offset="72.70%" stop-color="#2d00a4"/><stop offset="72.70%" stop-color="#58009f"/><stop offset="72.85%" stop-color="#58009f"/><stop offset="73.16%" stop-color="#78009b"/><stop offset="73.47%" stop-color="#870098"/><stop offset="73.77%" stop-color="#860097"/><stop offset="73.93%" stop-color="#860097"/><stop offset="73.93%" stop-color="#0000dd"/><stop offset="74.23%" stop-color="#0000dd"/><stop offset="74.23%" stop-color="#0098dd"/><stop offset="74.39%" stop-color="#0098dd"/><stop offset="74.69%" stop-color="#0085dd"/><stop offset="74.85%" stop-color="#0085dd"/><stop offset="74.85%" stop-color="#0000d1"/><stop offset="76.38%" stop-color="#0000d1"/><stop offset="76.38%" stop-color="#0085dd"/><stop offset="76.99%" stop-color="#0085dd"/><stop offset="76.99%" stop-color="#0000d1"/><stop offset="77.91%" stop-color="#0000d1"/><stop offset="77.91%" stop-color="#0098dd"/><stop offset="78.83%" stop-color="#0098dd"/><stop offset="78.83%" stop-color="#0000d1"/><stop offset="79.45%" stop-color="#0000d1"/><stop offset="79.45%" stop-color="#0092dd"/><stop offset="80.37%" stop-color="#0092dd"/><stop offset="80.37%" stop-color="#870098"/><stop offset="80.52%" stop-color="#870098"/><stop offset="82.36%" stop-color="#860097"/><stop offset="82.52%" stop-color="#860097"/><stop offset="82.52%" stop-color="#5d006b"/><stop offset="82.67%" stop-color="#5d006b"/><stop offset="82.98%" stop-color="#540060"/><stop offset="83.90%" stop-color="#540060"/><stop offset="84.20%" stop-color="#4b0055"/><stop offset="84.51%" stop-color="#4b0055"/><stop offset="84.82%" stop-color="#380040"/><stop offset="85.58%" stop-color="#380040"/><stop offset="85.58%" stop-color="#7d008e"/><stop offset="86.50%" stop-color="#7d008e"/><stop offset="86.50%" stop-color="#2f0035"/><stop offset="89.72%" stop-color="#2f0035"/><stop offset="90.34%" stop-color="#25002b"/><stop offset="92.48%" stop-color="#25002b"/><stop offset="92.79%" stop-color="#1c0020"/><stop offset="95.55%" stop-color="#1c0020"/><stop offset="95.86%" stop-color="#130015"/><stop offset="100.00%" stop-color="#130015"/></linearGradient><linearGradient id="a17"><stop offset="0.00%" stop-color="#130015"/><stop offset="20.09%" stop-color="#130015"/><stop offset="20.40%" stop-color="#25002b"/><stop offset="20.55%" stop-color="#25002b"/><stop offset="20.55%" stop-color="#5d006b"/><stop offset="20.71%" stop-color="#5d006b"/><stop offset="21.01%" stop-color="#7a008b"/><stop offset="22.24%" stop-color="#870098"/><stop offset="22.39%" stop-color="#870098"/><stop offset="22.39%" stop-color="#63009e"/><stop offset="22.70%" stop-color="#63009e"/><stop offset="22.70%" stop-color="#2d00a4"/><stop offset="23.01%" stop-color="#2d00a4"/><stop offset="23.01%" stop-color="#0000b1"/><stop offset="23.16%" stop-color="#0000b1"/><stop offset="24.39%" stop-color="#0000d9"/><stop offset="25.00%" stop-color="#002fdd"/><stop offset="25.15%" stop-color="#002fdd"/><stop offset="25.15%" stop-color="#005ddd"/><stop offset="25.46%" stop-color="#005ddd"/><stop offset="25.46%" stop-color="#0080dd"/><stop offset="25.61%" stop-color="#0080dd"/><stop offset="26.84%" stop-color="#008ddd"/><stop offset="30.21%" stop-color="#009bd7"/><stop offset="36.35%" stop-color="#00aaab"/><stop offset="41.56%" stop-color="#00aa93"/><stop offset="41.72%" stop-color="#00aa93"/><stop offset="41.72%" stop-color="#49ff00"/><stop offset="42.33%" stop-color="#49ff00"/><stop offset="42.33%" stop-color="#00a400"/><stop offset="42.48%" stop-color="#00a400"/><stop offset="49.54%" stop-color="#00b200"/><stop offset="53.53%" stop-color="#009a00"/><stop offset="54.45%" stop-color="#009d1d"/><stop offset="54.75%" stop-color="#009f33"/><stop offset="55.37%" stop-color="#00a248"/><stop offset="55.98%" stop-color="#00a773"/><stop offset="56.60%" stop-color="#00aa8b"/><stop offset="59.05%" stop-color="#00aaab"/><stop offset="61.50%" stop-color="#0098dd"/><stop offset="63.34%" stop-color="#0082dd"/><stop offset="63.65%" stop-color="#007add"/><stop offset="63.96%" stop-color="#0067dd"/><stop offset="64.11%" stop-color="#0067dd"/><stop offset="64.11%" stop-color="#0041dd"/><stop offset="64.42%" stop-color="#0041dd"/><stop offset="64.42%" stop-color="#001cdd"/><stop offset="64.57%" stop-color="#001cdd"/><stop offset="64.88%" stop-color="#0009dd"/><stop offset="66.10%" stop-color="#0000dd"/><stop offset="70.71%" stop-color="#0000c9"/><stop offset="71.93%" stop-color="#0000ad"/><stop offset="72.24%" stop-color="#0d00a8"/><stop offset="72.55%" stop-color="#2d00a4"/><stop offset="72.70%" stop-color="#2d00a4"/><stop offset="72.70%" stop-color="#58009f"/><stop offset="72.85%" stop-color="#58009f"/><stop offset="73.16%" stop-color="#78009b"/><stop offset="73.47%" stop-color="#870098"/><stop offset="73.77%" stop-color="#860097"/><stop offset="73.93%" stop-color="#860097"/><stop offset="73.93%" stop-color="#0000dd"/><stop offset="74.23%" stop-color="#0000dd"/><stop offset="74.23%" stop-color="#0098dd"/><stop offset="74.39%" stop-color="#0098dd"/><stop offset="74.69%" stop-color="#0085dd"/><stop offset="74.85%" stop-color="#0085dd"/><stop offset="74.85%" stop-color="#0000d1"/><stop offset="76.38%" stop-color="#0000d1"/><stop offset="76.38%" stop-color="#0085dd"/><stop offset="76.99%" stop-color="#0085dd"/><stop offset="76.99%" stop-color="#0000d1"/><stop offset="77.91%" stop-color="#0000d1"/><stop offset="77.91%" stop-color="#0098dd"/><stop offset="78.83%" stop-color="#0098dd"/><stop offset="78.83%" stop-color="#0000d1"/><stop offset="79.45%" stop-color="#0000d1"/><stop offset="79.45%" stop-color="#0092dd"/><stop offset="80.37%" stop-color="#0092dd"/><stop offset="80.37%" stop-color="#870098"/><stop offset="80.52%" stop-color="#870098"/><stop offset="82.36%" stop-color="#860097"/><stop offset="82.52%" stop-color="#860097"/><stop offset="82.52%" stop-color="#5d006b"/><stop offset="82.67%" stop-color="#5d006b"/><stop offset="82.98%" stop-color="#540060"/><stop offset="83.90%" stop-color="#540060"/><stop offset="84.20%" stop-color="#4b0055"/><stop offset="84.51%" stop-color="#4b0055"/><stop offset="84.82%" stop-color="#380040"/><stop offset="85.58%" stop-color="#380040"/><stop offset="85.58%" stop-color="#7d008e"/><stop offset="86.50%" stop-color="#7d008e"/><stop offset="86.50%" stop-color="#2f0035"/><stop offset="89.72%" stop-color="#2f0035"/><stop offset="90.34%" stop-color="#25002b"/><stop offset="92.48%" stop-color="#25002b"/><stop offset="92.79%" stop-color="#1c0020"/><stop offset="95.55%" stop-color="#1c0020"/><stop offset="95.86%" stop-color="#130015"/><stop offset="100.00%" stop-color="#130015"/></linearGradient><linearGradient id="a18"><stop offset="0.00%" stop-color="#130015"/><stop offset="20.09%" stop-color="#130015"/><stop offset="20.40%" stop-color="#25002b"/><stop offset="20.55%" stop-color="#25002b"/><stop offset="20.55%" stop-color="#5d006b"/><stop offset="20.71%" stop-color="#5d006b"/><stop offset="21.01%" stop-color="#7a008b"/><stop offset="22.24%" stop-color="#870098"/><stop offset="22.39%" stop-color="#870098"/><stop offset="22.39%" stop-color="#63009e"/><stop offset="22.70%" stop-color="#63009e"/><stop offset="22.70%" stop-color="#2d00a4"/><stop offset="23.01%" stop-color="#2d00a4"/><stop offset="23.01%" stop-color="#0000b1"/><stop offset="23.16%" stop-color="#0000b1"/><stop offset="24.39%" stop-color="#0000d9"/><stop offset="25.00%" stop-color="#002fdd"/><stop offset="25.15%" stop-color="#002fdd"/><stop offset="25.15%" stop-color="#0067dd"/><stop offset="25.31%" stop-color="#0067dd"/><stop offset="25.61%" stop-color="#0082dd"/><stop offset="27.76%" stop-color="#0098dd"/><stop offset="39.42%" stop-color="#00aa9d"/><stop offset="41.56%" stop-color="#00aa93"/><stop offset="41.72%" stop-color="#00aa93"/><stop offset="41.72%" stop-color="#efed00"/><stop offset="42.33%" stop-color="#efed00"/><stop offset="42.33%" stop-color="#00a400"/><stop offset="42.48%" stop-color="#00a400"/><stop offset="49.54%" stop-color="#00b200"/><stop offset="53.53%" stop-color="#009a00"/><stop offset="54.45%" stop-color="#009d1d"/><stop offset="54.75%" stop-color="#009f33"/><stop offset="55.37%" stop-color="#00a248"/><stop offset="55.98%" stop-color="#00a773"/><stop offset="56.60%" stop-color="#00aa8b"/><stop offset="59.05%" stop-color="#00aaab"/><stop offset="61.50%" stop-color="#0098dd"/><stop offset="63.34%" stop-color="#0082dd"/><stop offset="63.65%" stop-color="#007add"/><stop offset="63.96%" stop-color="#0067dd"/><stop offset="64.11%" stop-color="#0067dd"/><stop offset="64.11%" stop-color="#0041dd"/><stop offset="64.42%" stop-color="#0041dd"/><stop offset="64.42%" stop-color="#001cdd"/><stop offset="64.57%" stop-color="#001cdd"/><stop offset="64.88%" stop-color="#0009dd"/><stop offset="66.10%" stop-color="#0000dd"/><stop offset="70.71%" stop-color="#0000c9"/><stop offset="71.93%" stop-color="#0000ad"/><stop offset="72.24%" stop-color="#0d00a8"/><stop offset="72.55%" stop-color="#2d00a4"/><stop offset="72.70%" stop-color="#2d00a4"/><stop offset="72.70%" stop-color="#58009f"/><stop offset="72.85%" stop-color="#58009f"/><stop offset="73.16%" stop-color="#78009b"/><stop offset="73.47%" stop-color="#870098"/><stop offset="73.77%" stop-color="#860097"/><stop offset="73.93%" stop-color="#860097"/><stop offset="73.93%" stop-color="#0000dd"/><stop offset="74.23%" stop-color="#0000dd"/><stop offset="74.23%" stop-color="#0098dd"/><stop offset="74.39%" stop-color="#0098dd"/><stop offset="74.69%" stop-color="#0085dd"/><stop offset="74.85%" stop-color="#0085dd"/><stop offset="74.85%" stop-color="#0000d1"/><stop offset="76.38%" stop-color="#0000d1"/><stop offset="76.38%" stop-color="#0085dd"/><stop offset="76.99%" stop-color="#0085dd"/><stop offset="76.99%" stop-color="#0000d1"/><stop offset="77.91%" stop-color="#0000d1"/><stop offset="77.91%" stop-color="#0098dd"/><stop offset="78.83%" stop-color="#0098dd"/><stop offset="78.83%" stop-color="#0000d1"/><stop offset="79.45%" stop-color="#0000d1"/><stop offset="79.45%" stop-color="#0092dd"/><stop offset="80.37%" stop-color="#0092dd"/><stop offset="80.37%" stop-color="#870098"/><stop offset="80.52%" stop-color="#870098"/><stop offset="82.36%" stop-color="#860097"/><stop offset="82.52%" stop-color="#860097"/><stop offset="82.52%" stop-color="#5d006b"/><stop offset="82.67%" stop-color="#5d006b"/><stop offset="82.98%" stop-color="#540060"/><stop offset="83.90%" stop-color="#540060"/><stop offset="84.20%" stop-color="#4b0055"/><stop offset="84.51%" stop-color="#4b0055"/><stop offset="84.82%" stop-color="#380040"/><stop offset="85.58%" stop-color="#380040"/><stop offset="85.58%" stop-color="#7d008e"/><stop offset="86.50%" stop-color="#7d008e"/><stop offset="86.50%" stop-color="#2f0035"/><stop offset="89.72%" stop-color="#2f0035"/><stop offset="90.34%" stop-color="#25002b"/><stop offset="92.48%" stop-color="#25002b"/><stop offset="92.79%" stop-color="#1c0020"/><stop offset="95.55%" stop-color="#1c0020"/><stop offset="95.86%" stop-color="#130015"/><stop offset="100.00%" stop-color="#130015"/></linearGradient><linearGradient id="a19"><stop offset="0.00%" stop-color="#09000b"/><stop offset="21.32%" stop-color="#09000b"/><stop offset="22.24%" stop-color="#1c0020"/><stop offset="27.45%" stop-color="#1c0020"/><stop offset="27.76%" stop-color="#25002b"/><stop offset="42.18%" stop-color="#25002b"/><stop offset="42.79%" stop-color="#2f0035"/><stop offset="49.54%" stop-color="#25002b"/><stop offset="65.18%" stop-color="#25002b"/><stop offset="65.49%" stop-color="#1c0020"/><stop offset="83.59%" stop-color="#1c0020"/><stop offset="83.90%" stop-color="#130015"/><stop offset="100.00%" stop-color="#130015"/></linearGradient><linearGradient id="a20"><stop offset="0.00%" stop-color="#130015"/><stop offset="19.94%" stop-color="#130015"/><stop offset="19.94%" stop-color="#700080"/><stop offset="20.09%" stop-color="#700080"/><stop offset="20.40%" stop-color="#810092"/><stop offset="20.55%" stop-color="#810092"/><stop offset="20.55%" stop-color="#58009f"/><stop offset="20.86%" stop-color="#58009f"/><stop offset="20.86%" stop-color="#0000b1"/><stop offset="21.01%" stop-color="#0000b1"/><stop offset="21.63%" stop-color="#0000dd"/><stop offset="21.78%" stop-color="#0000dd"/><stop offset="21.78%" stop-color="#0078dd"/><stop offset="22.09%" stop-color="#0078dd"/><stop offset="22.09%" stop-color="#009ecf"/><stop offset="22.39%" stop-color="#009ecf"/><stop offset="22.39%" stop-color="#00aa90"/><stop offset="22.70%" stop-color="#00aa90"/><stop offset="22.70%" stop-color="#00ac00"/><stop offset="22.85%" stop-color="#00ac00"/><stop offset="23.47%" stop-color="#00da00"/><stop offset="25.61%" stop-color="#00f200"/><stop offset="25.92%" stop-color="#00ff00"/><stop offset="26.07%" stop-color="#00ff00"/><stop offset="26.07%" stop-color="#49ff00"/><stop offset="26.23%" stop-color="#49ff00"/><stop offset="26.53%" stop-color="#67ff00"/><stop offset="26.84%" stop-color="#67ff00"/><stop offset="27.45%" stop-color="#84ff00"/><stop offset="28.37%" stop-color="#93ff00"/><stop offset="28.68%" stop-color="#a1ff00"/><stop offset="29.60%" stop-color="#a1ff00"/><stop offset="30.21%" stop-color="#84ff00"/><stop offset="30.52%" stop-color="#84ff00"/><stop offset="31.13%" stop-color="#67ff00"/><stop offset="32.06%" stop-color="#58ff00"/><stop offset="32.98%" stop-color="#58ff00"/><stop offset="33.28%" stop-color="#49ff00"/><stop offset="34.51%" stop-color="#49ff00"/><stop offset="34.82%" stop-color="#3bff00"/><stop offset="36.04%" stop-color="#3bff00"/><stop offset="36.35%" stop-color="#2cff00"/><stop offset="41.72%" stop-color="#2cff00"/><stop offset="41.72%" stop-color="#84ff00"/><stop offset="41.87%" stop-color="#84ff00"/><stop offset="42.18%" stop-color="#93ff00"/><stop offset="48.01%" stop-color="#93ff00"/><stop offset="49.54%" stop-color="#49ff00"/><stop offset="50.46%" stop-color="#00ff00"/><stop offset="55.37%" stop-color="#00e700"/><stop offset="57.82%" stop-color="#00a400"/><stop offset="60.28%" stop-color="#009a00"/><stop offset="60.58%" stop-color="#009b13"/><stop offset="60.89%" stop-color="#009f33"/><stop offset="61.04%" stop-color="#009f33"/><stop offset="61.04%" stop-color="#00a55d"/><stop offset="61.20%" stop-color="#00a55d"/><stop offset="61.50%" stop-color="#00a773"/><stop offset="63.34%" stop-color="#00aa8b"/><stop offset="67.02%" stop-color="#00aa9b"/><stop offset="67.94%" stop-color="#00a0c7"/><stop offset="68.25%" stop-color="#009adb"/><stop offset="71.63%" stop-color="#0085dd"/><stop offset="71.93%" stop-color="#007add"/><stop offset="72.09%" stop-color="#007add"/><stop offset="72.09%" stop-color="#0054dd"/><stop offset="72.39%" stop-color="#0054dd"/><stop offset="72.39%" stop-color="#0025dd"/><stop offset="72.55%" stop-color="#0025dd"/><stop offset="72.85%" stop-color="#0009dd"/><stop offset="73.47%" stop-color="#0000d9"/><stop offset="74.08%" stop-color="#0000cd"/><stop offset="74.23%" stop-color="#0000cd"/><stop offset="74.23%" stop-color="#0098dd"/><stop offset="74.54%" stop-color="#0098dd"/><stop offset="74.54%" stop-color="#0000dd"/><stop offset="75.77%" stop-color="#0000dd"/><stop offset="75.77%" stop-color="#0098dd"/><stop offset="76.38%" stop-color="#0098dd"/><stop offset="76.38%" stop-color="#0000dd"/><stop offset="78.83%" stop-color="#0000dd"/><stop offset="78.83%" stop-color="#58009f"/><stop offset="79.14%" stop-color="#58009f"/><stop offset="79.14%" stop-color="#0085dd"/><stop offset="79.45%" stop-color="#0085dd"/><stop offset="79.45%" stop-color="#870098"/><stop offset="81.90%" stop-color="#870098"/><stop offset="81.90%" stop-color="#0000dd"/><stop offset="82.21%" stop-color="#0000dd"/><stop offset="82.21%" stop-color="#870098"/><stop offset="82.36%" stop-color="#870098"/><stop offset="94.02%" stop-color="#830094"/><stop offset="95.55%" stop-color="#700080"/><stop offset="96.78%" stop-color="#4b0055"/><stop offset="97.39%" stop-color="#41004b"/><stop offset="98.93%" stop-color="#25002b"/><stop offset="99.23%" stop-color="#1c0020"/><stop offset="100.00%" stop-color="#1c0020"/></linearGradient><linearGradient id="a21"><stop offset="0.00%" stop-color="#130015"/><stop offset="19.94%" stop-color="#130015"/><stop offset="19.94%" stop-color="#700080"/><stop offset="20.09%" stop-color="#700080"/><stop offset="20.40%" stop-color="#810092"/><stop offset="20.55%" stop-color="#810092"/><stop offset="20.55%" stop-color="#58009f"/><stop offset="20.86%" stop-color="#58009f"/><stop offset="20.86%" stop-color="#0000b1"/><stop offset="21.01%" stop-color="#0000b1"/><stop offset="21.63%" stop-color="#0000dd"/><stop offset="21.78%" stop-color="#0000dd"/><stop offset="21.78%" stop-color="#0078dd"/><stop offset="22.09%" stop-color="#0078dd"/><stop offset="22.09%" stop-color="#009ecf"/><stop offset="22.39%" stop-color="#009ecf"/><stop offset="22.39%" stop-color="#00aa90"/><stop offset="22.70%" stop-color="#00aa90"/><stop offset="22.70%" stop-color="#00ac00"/><stop offset="22.85%" stop-color="#00ac00"/><stop offset="23.47%" stop-color="#00da00"/><stop offset="25.61%" stop-color="#00f200"/><stop offset="25.92%" stop-color="#00ff00"/><stop offset="26.07%" stop-color="#00ff00"/><stop offset="26.07%" stop-color="#49ff00"/><stop offset="26.23%" stop-color="#49ff00"/><stop offset="26.53%" stop-color="#67ff00"/><stop offset="26.84%" stop-color="#67ff00"/><stop offset="27.45%" stop-color="#84ff00"/><stop offset="28.37%" stop-color="#93ff00"/><stop offset="28.68%" stop-color="#a1ff00"/><stop offset="29.60%" stop-color="#a1ff00"/><stop offset="30.21%" stop-color="#84ff00"/><stop offset="30.52%" stop-color="#84ff00"/><stop offset="31.13%" stop-color="#67ff00"/><stop offset="32.06%" stop-color="#58ff00"/><stop offset="32.98%" stop-color="#58ff00"/><stop offset="33.28%" stop-color="#49ff00"/><stop offset="34.51%" stop-color="#49ff00"/><stop offset="34.82%" stop-color="#3bff00"/><stop offset="36.04%" stop-color="#3bff00"/><stop offset="36.35%" stop-color="#2cff00"/><stop offset="41.72%" stop-color="#2cff00"/><stop offset="41.72%" stop-color="#84ff00"/><stop offset="41.87%" stop-color="#84ff00"/><stop offset="42.18%" stop-color="#93ff00"/><stop offset="48.01%" stop-color="#93ff00"/><stop offset="49.54%" stop-color="#49ff00"/><stop offset="50.46%" stop-color="#00ff00"/><stop offset="55.37%" stop-color="#00e700"/><stop offset="57.82%" stop-color="#00a400"/><stop offset="60.28%" stop-color="#009a00"/><stop offset="60.58%" stop-color="#009b13"/><stop offset="60.89%" stop-color="#009f33"/><stop offset="61.04%" stop-color="#009f33"/><stop offset="61.04%" stop-color="#00a55d"/><stop offset="61.20%" stop-color="#00a55d"/><stop offset="61.50%" stop-color="#00a773"/><stop offset="63.34%" stop-color="#00aa8b"/><stop offset="67.02%" stop-color="#00aa9b"/><stop offset="67.94%" stop-color="#00a0c7"/><stop offset="68.25%" stop-color="#009adb"/><stop offset="71.63%" stop-color="#0085dd"/><stop offset="71.93%" stop-color="#007add"/><stop offset="72.09%" stop-color="#007add"/><stop offset="72.09%" stop-color="#0054dd"/><stop offset="72.39%" stop-color="#0054dd"/><stop offset="72.39%" stop-color="#0025dd"/><stop offset="72.55%" stop-color="#0025dd"/><stop offset="72.85%" stop-color="#0009dd"/><stop offset="73.47%" stop-color="#0000d9"/><stop offset="74.08%" stop-color="#0000cd"/><stop offset="74.23%" stop-color="#0000cd"/><stop offset="74.23%" stop-color="#0098dd"/><stop offset="74.54%" stop-color="#0098dd"/><stop offset="74.54%" stop-color="#0000dd"/><stop offset="75.77%" stop-color="#0000dd"/><stop offset="75.77%" stop-color="#0098dd"/><stop offset="76.38%" stop-color="#0098dd"/><stop offset="76.38%" stop-color="#0000dd"/><stop offset="78.83%" stop-color="#0000dd"/><stop offset="78.83%" stop-color="#58009f"/><stop offset="79.14%" stop-color="#58009f"/><stop offset="79.14%" stop-color="#0085dd"/><stop offset="79.45%" stop-color="#0085dd"/><stop offset="79.45%" stop-color="#870098"/><stop offset="81.90%" stop-color="#870098"/><stop offset="81.90%" stop-color="#0000dd"/><stop offset="82.21%" stop-color="#0000dd"/><stop offset="82.21%" stop-color="#870098"/><stop offset="82.36%" stop-color="#870098"/><stop offset="85.43%" stop-color="#860097"/><stop offset="85.58%" stop-color="#860097"/><stop offset="85.58%" stop-color="#0000dd"/><stop offset="85.89%" stop-color="#0000dd"/><stop offset="85.89%" stop-color="#008add"/><stop offset="86.20%" stop-color="#008add"/><stop offset="86.20%" stop-color="#0000dd"/><stop offset="86.50%" stop-color="#0000dd"/><stop offset="86.50%" stop-color="#860097"/><stop offset="86.66%" stop-color="#860097"/><stop offset="94.02%" stop-color="#830094"/><stop offset="95.55%" stop-color="#700080"/><stop offset="96.78%" stop-color="#4b0055"/><stop offset="97.39%" stop-color="#41004b"/><stop offset="98.93%" stop-color="#25002b"/><stop offset="99.23%" stop-color="#1c0020"/><stop offset="100.00%" stop-color="#1c0020"/></linearGradient><linearGradient id="b0"><stop offset="0.00%" stop-color="#09000b"/><stop offset="19.94%" stop-color="#09000b"/><stop offset="19.94%" stop-color="#700080"/><stop offset="20.09%" stop-color="#700080"/><stop offset="20.40%" stop-color="#810092"/><stop offset="20.55%" stop-color="#810092"/><stop offset="20.55%" stop-color="#58009f"/><stop offset="20.86%" stop-color="#58009f"/><stop offset="20.86%" stop-color="#0000b1"/><stop offset="21.01%" stop-color="#0000b1"/><stop offset="21.63%" stop-color="#0000dd"/><stop offset="21.78%" stop-color="#0000dd"/><stop offset="21.78%" stop-color="#0078dd"/><stop offset="22.09%" stop-color="#0078dd"/><stop offset="22.09%" stop-color="#009ecf"/><stop offset="22.39%" stop-color="#009ecf"/><stop offset="22.39%" stop-color="#00aa90"/><stop offset="22.70%" stop-color="#00aa90"/><stop offset="22.70%" stop-color="#00ac00"/><stop offset="22.85%" stop-color="#00ac00"/><stop offset="23.47%" stop-color="#00da00"/><stop offset="25.61%" stop-color="#00f200"/><stop offset="25.92%" stop-color="#00ff00"/><stop offset="26.07%" stop-color="#00ff00"/><stop offset="26.07%" stop-color="#49ff00"/><stop offset="26.23%" stop-color="#49ff00"/><stop offset="26.53%" stop-color="#67ff00"/><stop offset="26.84%" stop-color="#67ff00"/><stop offset="27.45%" stop-color="#84ff00"/><stop offset="28.37%" stop-color="#93ff00"/><stop offset="28.68%" stop-color="#a1ff00"/><stop offset="29.60%" stop-color="#a1ff00"/><stop offset="30.21%" stop-color="#84ff00"/><stop offset="30.52%" stop-color="#84ff00"/><stop offset="31.13%" stop-color="#67ff00"/><stop offset="32.06%" stop-color="#58ff00"/><stop offset="32.98%" stop-color="#58ff00"/><stop offset="33.28%" stop-color="#49ff00"/><stop offset="34.51%" stop-color="#49ff00"/><stop offset="34.82%" stop-color="#3bff00"/><stop offset="36.04%" stop-color="#3bff00"/><stop offset="36.35%" stop-color="#2cff00"/><stop offset="41.72%" stop-color="#2cff00"/><stop offset="41.72%" stop-color="#84ff00"/><stop offset="41.87%" stop-color="#84ff00"/><stop offset="42.18%" stop-color="#93ff00"/><stop offset="48.01%" stop-color="#93ff00"/><stop offset="49.54%" stop-color="#49ff00"/><stop offset="50.46%" stop-color="#00ff00"/><stop offset="55.37%" stop-color="#00e700"/><stop offset="57.82%" stop-color="#00a400"/><stop offset="60.28%" stop-color="#009a00"/><stop offset="60.58%" stop-color="#009b13"/><stop offset="60.89%" stop-color="#009f33"/><stop offset="61.04%" stop-color="#009f33"/><stop offset="61.04%" stop-color="#00a55d"/><stop offset="61.20%" stop-color="#00a55d"/><stop offset="61.50%" stop-color="#00a773"/><stop offset="63.34%" stop-color="#00aa8b"/><stop offset="67.02%" stop-color="#00aa9b"/><stop offset="67.94%" stop-color="#00a0c7"/><stop offset="68.25%" stop-color="#009adb"/><stop offset="71.63%" stop-color="#0085dd"/><stop offset="71.93%" stop-color="#007add"/><stop offset="72.09%" stop-color="#007add"/><stop offset="72.09%" stop-color="#0054dd"/><stop offset="72.39%" stop-color="#0054dd"/><stop offset="72.39%" stop-color="#0025dd"/><stop offset="72.55%" stop-color="#0025dd"/><stop offset="72.85%" stop-color="#0009dd"/><stop offset="73.47%" stop-color="#0000d9"/><stop offset="73.62%" stop-color="#0000d9"/><stop offset="73.62%" stop-color="#002fdd"/><stop offset="74.23%" stop-color="#002fdd"/><stop offset="74.23%" stop-color="#00aa9d"/><stop offset="74.85%" stop-color="#00aa9d"/><stop offset="74.85%" stop-color="#0000dd"/><stop offset="75.77%" stop-color="#0000dd"/><stop offset="75.77%" stop-color="#009cd3"/><stop offset="76.38%" stop-color="#009cd3"/><stop offset="76.38%" stop-color="#0000dd"/><stop offset="76.99%" stop-color="#0000dd"/><stop offset="76.99%" stop-color="#0092dd"/><stop offset="79.14%" stop-color="#0092dd"/><stop offset="79.14%" stop-color="#0000dd"/><stop offset="79.75%" stop-color="#0000dd"/><stop offset="79.75%" stop-color="#009cd3"/><stop offset="80.67%" stop-color="#009cd3"/><stop offset="80.67%" stop-color="#0000d1"/><stop offset="82.52%" stop-color="#0000d1"/><stop offset="82.52%" stop-color="#870098"/><stop offset="82.67%" stop-color="#870098"/><stop offset="93.71%" stop-color="#830094"/><stop offset="95.55%" stop-color="#770088"/><stop offset="96.47%" stop-color="#41004b"/><stop offset="97.70%" stop-color="#09000b"/><stop offset="97.85%" stop-color="#09000b"/><stop offset="97.85%" stop-color="#7a008b"/><stop offset="98.16%" stop-color="#7a008b"/><stop offset="98.16%" stop-color="#09000b"/><stop offset="100.00%" stop-color="#09000b"/></linearGradient><linearGradient id="b1"><stop offset="0.00%" stop-color="#09000b"/><stop offset="19.94%" stop-color="#09000b"/><stop offset="19.94%" stop-color="#700080"/><stop offset="20.09%" stop-color="#700080"/><stop offset="20.40%" stop-color="#810092"/><stop offset="20.55%" stop-color="#810092"/><stop offset="20.55%" stop-color="#58009f"/><stop offset="20.86%" stop-color="#58009f"/><stop offset="20.86%" stop-color="#0000b1"/><stop offset="21.01%" stop-color="#0000b1"/><stop offset="21.63%" stop-color="#0000dd"/><stop offset="21.78%" stop-color="#0000dd"/><stop offset="21.78%" stop-color="#0078dd"/><stop offset="22.09%" stop-color="#0078dd"/><stop offset="22.09%" stop-color="#009ecf"/><stop offset="22.39%" stop-color="#009ecf"/><stop offset="22.39%" stop-color="#00aa90"/><stop offset="22.70%" stop-color="#00aa90"/><stop offset="22.70%" stop-color="#00ac00"/><stop offset="22.85%" stop-color="#00ac00"/><stop offset="23.47%" stop-color="#00da00"/><stop offset="25.61%" stop-color="#00f200"/><stop offset="25.92%" stop-color="#00ff00"/><stop offset="26.07%" stop-color="#00ff00"/><stop offset="26.07%" stop-color="#49ff00"/><stop offset="26.23%" stop-color="#49ff00"/><stop offset="26.53%" stop-color="#67ff00"/><stop offset="26.84%" stop-color="#67ff00"/><stop offset="27.45%" stop-color="#84ff00"/><stop offset="28.37%" stop-color="#93ff00"/><stop offset="28.68%" stop-color="#a1ff00"/><stop offset="29.60%" stop-color="#a1ff00"/><stop offset="30.21%" stop-color="#84ff00"/><stop offset="30.52%" stop-color="#84ff00"/><stop offset="31.13%" stop-color="#67ff00"/><stop offset="32.06%" stop-color="#58ff00"/><stop offset="32.98%" stop-color="#58ff00"/><stop offset="33.28%" stop-color="#49ff00"/><stop offset="34.51%" stop-color="#49ff00"/><stop offset="34.82%" stop-color="#3bff00"/><stop offset="36.04%" stop-color="#3bff00"/><stop offset="36.35%" stop-color="#2cff00"/><stop offset="41.72%" stop-color="#2cff00"/><stop offset="41.72%" stop-color="#84ff00"/><stop offset="41.87%" stop-color="#84ff00"/><stop offset="42.18%" stop-color="#93ff00"/><stop offset="48.01%" stop-color="#93ff00"/><stop offset="49.54%" stop-color="#49ff00"/><stop offset="50.46%" stop-color="#00ff00"/><stop offset="55.37%" stop-color="#00e700"/><stop offset="57.82%" stop-color="#00a400"/><stop offset="60.28%" stop-color="#009a00"/><stop offset="60.58%" stop-color="#009b13"/><stop offset="60.89%" stop-color="#009f33"/><stop offset="61.04%" stop-color="#009f33"/><stop offset="61.04%" stop-color="#00a55d"/><stop offset="61.20%" stop-color="#00a55d"/><stop offset="61.50%" stop-color="#00a773"/><stop offset="63.34%" stop-color="#00aa8b"/><stop offset="67.02%" stop-color="#00aa9b"/><stop offset="67.94%" stop-color="#00a0c7"/><stop offset="68.25%" stop-color="#009adb"/><stop offset="71.63%" stop-color="#0085dd"/><stop offset="71.93%" stop-color="#007add"/><stop offset="72.09%" stop-color="#007add"/><stop offset="72.09%" stop-color="#0054dd"/><stop offset="72.39%" stop-color="#0054dd"/><stop offset="72.39%" stop-color="#0025dd"/><stop offset="72.55%" stop-color="#0025dd"/><stop offset="72.85%" stop-color="#0009dd"/><stop offset="73.47%" stop-color="#0000d9"/><stop offset="73.62%" stop-color="#0000d9"/><stop offset="73.62%" stop-color="#002fdd"/><stop offset="74.23%" stop-color="#002fdd"/><stop offset="74.23%" stop-color="#00aa9d"/><stop offset="74.85%" stop-color="#00aa9d"/><stop offset="74.85%" stop-color="#0000dd"/><stop offset="75.77%" stop-color="#0000dd"/><stop offset="75.77%" stop-color="#009cd3"/><stop offset="76.38%" stop-color="#009cd3"/><stop offset="76.38%" stop-color="#0000dd"/><stop offset="76.99%" stop-color="#0000dd"/><stop offset="76.99%" stop-color="#0092dd"/><stop offset="79.14%" stop-color="#0092dd"/><stop offset="79.14%" stop-color="#0000dd"/><stop offset="79.75%" stop-color="#0000dd"/><stop offset="79.75%" stop-color="#009cd3"/><stop offset="80.67%" stop-color="#009cd3"/><stop offset="80.67%" stop-color="#0000d1"/><stop offset="82.52%" stop-color="#0000d1"/><stop offset="82.52%" stop-color="#870098"/><stop offset="82.67%" stop-color="#870098"/><stop offset="93.71%" stop-color="#830094"/><stop offset="95.55%" stop-color="#770088"/><stop offset="96.47%" stop-color="#41004b"/><stop offset="97.70%" stop-color="#09000b"/><stop offset="100.00%" stop-color="#09000b"/></linearGradient><linearGradient id="b2"><stop offset="0.00%" stop-color="#09000b"/><stop offset="21.32%" stop-color="#09000b"/><stop offset="22.24%" stop-color="#1c0020"/><stop offset="27.45%" stop-color="#1c0020"/><stop offset="27.76%" stop-color="#25002b"/><stop offset="42.18%" stop-color="#25002b"/><stop offset="42.79%" stop-color="#2f0035"/><stop offset="49.54%" stop-color="#25002b"/><stop offset="65.18%" stop-color="#25002b"/><stop offset="65.49%" stop-color="#1c0020"/><stop offset="83.59%" stop-color="#1c0020"/><stop offset="83.90%" stop-color="#130015"/><stop offset="100.00%" stop-color="#130015"/></linearGradient><linearGradient id="b3"><stop offset="0.00%" stop-color="#09000b"/><stop offset="20.09%" stop-color="#09000b"/><stop offset="20.40%" stop-color="#25002b"/><stop offset="20.55%" stop-color="#25002b"/><stop offset="20.55%" stop-color="#5d006b"/><stop offset="20.71%" stop-color="#5d006b"/><stop offset="21.01%" stop-color="#7a008b"/><stop offset="22.24%" stop-color="#870098"/><stop offset="22.39%" stop-color="#870098"/><stop offset="22.39%" stop-color="#63009e"/><stop offset="22.70%" stop-color="#63009e"/><stop offset="22.70%" stop-color="#2d00a4"/><stop offset="23.01%" stop-color="#2d00a4"/><stop offset="23.01%" stop-color="#0000b1"/><stop offset="23.16%" stop-color="#0000b1"/><stop offset="24.08%" stop-color="#0000d5"/><stop offset="24.39%" stop-color="#0009dd"/><stop offset="25.00%" stop-color="#0041dd"/><stop offset="25.15%" stop-color="#0041dd"/><stop offset="25.15%" stop-color="#0078dd"/><stop offset="25.31%" stop-color="#0078dd"/><stop offset="25.92%" stop-color="#0090dd"/><stop offset="31.44%" stop-color="#009cd3"/><stop offset="39.11%" stop-color="#00aa9d"/><stop offset="41.56%" stop-color="#00aa93"/><stop offset="41.72%" stop-color="#00aa93"/><stop offset="41.72%" stop-color="#00bc00"/><stop offset="42.18%" stop-color="#00bc00"/><stop offset="42.48%" stop-color="#00a400"/><stop offset="44.33%" stop-color="#00ac00"/><stop offset="44.48%" stop-color="#00ac00"/><stop offset="44.48%" stop-color="#efed00"/><stop offset="44.79%" stop-color="#efed00"/><stop offset="44.79%" stop-color="#00ac00"/><stop offset="44.94%" stop-color="#00ac00"/><stop offset="50.46%" stop-color="#00af00"/><stop offset="52.91%" stop-color="#009a00"/><stop offset="53.83%" stop-color="#009d1d"/><stop offset="54.14%" stop-color="#009f33"/><stop offset="54.75%" stop-color="#00a248"/><stop offset="55.37%" stop-color="#00a773"/><stop offset="55.98%" stop-color="#00aa8b"/><stop offset="58.44%" stop-color="#00aaab"/><stop offset="60.89%" stop-color="#0098dd"/><stop offset="62.73%" stop-color="#0082dd"/><stop offset="63.04%" stop-color="#007add"/><stop offset="63.34%" stop-color="#0067dd"/><stop offset="63.50%" stop-color="#0067dd"/><stop offset="63.50%" stop-color="#0041dd"/><stop offset="63.80%" stop-color="#0041dd"/><stop offset="63.80%" stop-color="#001cdd"/><stop offset="63.96%" stop-color="#001cdd"/><stop offset="64.26%" stop-color="#0009dd"/><stop offset="65.49%" stop-color="#0000dd"/><stop offset="70.09%" stop-color="#0000c9"/><stop offset="71.32%" stop-color="#0000ad"/><stop offset="71.63%" stop-color="#0d00a8"/><stop offset="71.93%" stop-color="#2d00a4"/><stop offset="72.09%" stop-color="#2d00a4"/><stop offset="72.09%" stop-color="#58009f"/><stop offset="72.24%" stop-color="#58009f"/><stop offset="72.55%" stop-color="#78009b"/><stop offset="72.85%" stop-color="#870098"/><stop offset="73.77%" stop-color="#850096"/><stop offset="73.93%" stop-color="#850096"/><stop offset="73.93%" stop-color="#0078dd"/><stop offset="74.23%" stop-color="#0078dd"/><stop offset="74.23%" stop-color="#00a353"/><stop offset="74.54%" stop-color="#00a353"/><stop offset="74.54%" stop-color="#0098dd"/><stop offset="74.85%" stop-color="#0098dd"/><stop offset="74.85%" stop-color="#0000dd"/><stop offset="75.77%" stop-color="#0000dd"/><stop offset="75.77%" stop-color="#0098dd"/><stop offset="76.69%" stop-color="#0098dd"/><stop offset="76.69%" stop-color="#0013dd"/><stop offset="77.91%" stop-color="#0013dd"/><stop offset="77.91%" stop-color="#0098dd"/><stop offset="78.83%" stop-color="#0098dd"/><stop offset="78.83%" stop-color="#0000dd"/><stop offset="79.45%" stop-color="#0000dd"/><stop offset="79.45%" stop-color="#009cd3"/><stop offset="80.67%" stop-color="#009cd3"/><stop offset="80.67%" stop-color="#0000d1"/><stop offset="82.52%" stop-color="#0000d1"/><stop offset="82.52%" stop-color="#850096"/><stop offset="83.13%" stop-color="#850096"/><stop offset="83.13%" stop-color="#5d006b"/><stop offset="85.12%" stop-color="#5d006b"/><stop offset="85.43%" stop-color="#540060"/><stop offset="85.89%" stop-color="#540060"/><stop offset="85.89%" stop-color="#850096"/><stop offset="86.50%" stop-color="#850096"/><stop offset="86.50%" stop-color="#41004b"/><stop offset="90.34%" stop-color="#41004b"/><stop offset="90.64%" stop-color="#380040"/><stop offset="92.18%" stop-color="#380040"/><stop offset="92.48%" stop-color="#2f0035"/><stop offset="98.01%" stop-color="#09000b"/><stop offset="100.00%" stop-color="#09000b"/></linearGradient><linearGradient id="b4"><stop offset="0.00%" stop-color="#09000b"/><stop offset="20.09%" stop-color="#09000b"/><stop offset="20.40%" stop-color="#25002b"/><stop offset="20.55%" stop-color="#25002b"/><stop offset="20.55%" stop-color="#5d006b"/><stop offset="20.71%" stop-color="#5d006b"/><stop offset="21.01%" stop-color="#7a008b"/><stop offset="22.24%" stop-color="#870098"/><stop offset="22.39%" stop-color="#870098"/><stop offset="22.39%" stop-color="#63009e"/><stop offset="22.70%" stop-color="#63009e"/><stop offset="22.70%" stop-color="#2d00a4"/><stop offset="23.01%" stop-color="#2d00a4"/><stop offset="23.01%" stop-color="#0000b1"/><stop offset="23.16%" stop-color="#0000b1"/><stop offset="24.39%" stop-color="#0000dd"/><stop offset="25.00%" stop-color="#0038dd"/><stop offset="25.15%" stop-color="#0038dd"/><stop offset="25.15%" stop-color="#0067dd"/><stop offset="25.31%" stop-color="#0067dd"/><stop offset="25.61%" stop-color="#0082dd"/><stop offset="26.23%" stop-color="#008add"/><stop offset="31.75%" stop-color="#009bd7"/><stop offset="39.11%" stop-color="#00aa9d"/><stop offset="41.56%" stop-color="#00aa93"/><stop offset="41.72%" stop-color="#00aa93"/><stop offset="41.72%" stop-color="#00ca00"/><stop offset="42.33%" stop-color="#00ca00"/><stop offset="42.33%" stop-color="#00a400"/><stop offset="42.48%" stop-color="#00a400"/><stop offset="44.33%" stop-color="#00ac00"/><stop offset="44.48%" stop-color="#00ac00"/><stop offset="44.48%" stop-color="#00ff00"/><stop offset="44.79%" stop-color="#00ff00"/><stop offset="44.79%" stop-color="#00ac00"/><stop offset="44.94%" stop-color="#00ac00"/><stop offset="50.46%" stop-color="#00af00"/><stop offset="52.91%" stop-color="#009a00"/><stop offset="53.83%" stop-color="#009d1d"/><stop offset="54.14%" stop-color="#009f33"/><stop offset="54.75%" stop-color="#00a248"/><stop offset="55.37%" stop-color="#00a773"/><stop offset="55.98%" stop-color="#00aa8b"/><stop offset="58.44%" stop-color="#00aaab"/><stop offset="60.89%" stop-color="#0098dd"/><stop offset="62.73%" stop-color="#0082dd"/><stop offset="63.04%" stop-color="#007add"/><stop offset="63.34%" stop-color="#0067dd"/><stop offset="63.50%" stop-color="#0067dd"/><stop offset="63.50%" stop-color="#0041dd"/><stop offset="63.80%" stop-color="#0041dd"/><stop offset="63.80%" stop-color="#001cdd"/><stop offset="63.96%" stop-color="#001cdd"/><stop offset="64.26%" stop-color="#0009dd"/><stop offset="65.49%" stop-color="#0000dd"/><stop offset="70.09%" stop-color="#0000c9"/><stop offset="71.32%" stop-color="#0000ad"/><stop offset="71.63%" stop-color="#0d00a8"/><stop offset="71.93%" stop-color="#2d00a4"/><stop offset="72.09%" stop-color="#2d00a4"/><stop offset="72.09%" stop-color="#58009f"/><stop offset="72.24%" stop-color="#58009f"/><stop offset="72.55%" stop-color="#78009b"/><stop offset="72.85%" stop-color="#870098"/><stop offset="73.77%" stop-color="#850096"/><stop offset="73.93%" stop-color="#850096"/><stop offset="73.93%" stop-color="#0078dd"/><stop offset="74.23%" stop-color="#0078dd"/><stop offset="74.23%" stop-color="#00a353"/><stop offset="74.54%" stop-color="#00a353"/><stop offset="74.54%" stop-color="#0098dd"/><stop offset="74.85%" stop-color="#0098dd"/><stop offset="74.85%" stop-color="#0000dd"/><stop offset="75.77%" stop-color="#0000dd"/><stop offset="75.77%" stop-color="#0098dd"/><stop offset="76.69%" stop-color="#0098dd"/><stop offset="76.69%" stop-color="#0013dd"/><stop offset="77.91%" stop-color="#0013dd"/><stop offset="77.91%" stop-color="#0098dd"/><stop offset="78.83%" stop-color="#0098dd"/><stop offset="78.83%" stop-color="#0000dd"/><stop offset="79.45%" stop-color="#0000dd"/><stop offset="79.45%" stop-color="#009cd3"/><stop offset="80.67%" stop-color="#009cd3"/><stop offset="80.67%" stop-color="#0000d1"/><stop offset="82.52%" stop-color="#0000d1"/><stop offset="82.52%" stop-color="#850096"/><stop offset="83.13%" stop-color="#850096"/><stop offset="83.13%" stop-color="#5d006b"/><stop offset="85.12%" stop-color="#5d006b"/><stop offset="85.43%" stop-color="#540060"/><stop offset="85.89%" stop-color="#540060"/><stop offset="85.89%" stop-color="#0000d1"/><stop offset="86.50%" stop-color="#0000d1"/><stop offset="86.50%" stop-color="#41004b"/><stop offset="90.34%" stop-color="#41004b"/><stop offset="90.64%" stop-color="#380040"/><stop offset="92.18%" stop-color="#380040"/><stop offset="92.48%" stop-color="#2f0035"/><stop offset="98.01%" stop-color="#09000b"/><stop offset="100.00%" stop-color="#09000b"/></linearGradient><linearGradient id="b5"><stop offset="0.00%" stop-color="#09000b"/><stop offset="20.09%" stop-color="#09000b"/><stop offset="20.40%" stop-color="#25002b"/><stop offset="20.55%" stop-color="#25002b"/><stop offset="20.55%" stop-color="#5d006b"/><stop offset="20.71%" stop-color="#5d006b"/><stop offset="21.01%" stop-color="#7a008b"/><stop offset="22.24%" stop-color="#870098"/><stop offset="22.39%" stop-color="#870098"/><stop offset="22.39%" stop-color="#63009e"/><stop offset="22.70%" stop-color="#63009e"/><stop offset="22.70%" stop-color="#2d00a4"/><stop offset="23.01%" stop-color="#2d00a4"/><stop offset="23.01%" stop-color="#0000b1"/><stop offset="23.16%" stop-color="#0000b1"/><stop offset="24.08%" stop-color="#0000dd"/><stop offset="24.23%" stop-color="#0000dd"/><stop offset="24.23%" stop-color="#0025dd"/><stop offset="24.39%" stop-color="#0025dd"/><stop offset="24.69%" stop-color="#0041dd"/><stop offset="24.85%" stop-color="#0041dd"/><stop offset="24.85%" stop-color="#0067dd"/><stop offset="25.00%" stop-color="#0067dd"/><stop offset="25.31%" stop-color="#0085dd"/><stop offset="25.92%" stop-color="#009cd3"/><stop offset="27.45%" stop-color="#00a3bf"/><stop offset="32.06%" stop-color="#00a7b3"/><stop offset="41.56%" stop-color="#00aa8b"/><stop offset="41.72%" stop-color="#00aa8b"/><stop offset="41.72%" stop-color="#00ca00"/><stop offset="42.33%" stop-color="#00ca00"/><stop offset="42.33%" stop-color="#00a400"/><stop offset="42.48%" stop-color="#00a400"/><stop offset="44.33%" stop-color="#00ac00"/><stop offset="44.48%" stop-color="#00ac00"/><stop offset="44.48%" stop-color="#00ea00"/><stop offset="44.79%" stop-color="#00ea00"/><stop offset="44.79%" stop-color="#00ac00"/><stop offset="44.94%" stop-color="#00ac00"/><stop offset="50.46%" stop-color="#00af00"/><stop offset="52.91%" stop-color="#009a00"/><stop offset="53.83%" stop-color="#009d1d"/><stop offset="54.14%" stop-color="#009f33"/><stop offset="54.75%" stop-color="#00a248"/><stop offset="55.37%" stop-color="#00a773"/><stop offset="55.98%" stop-color="#00aa8b"/><stop offset="58.44%" stop-color="#00aaab"/><stop offset="60.89%" stop-color="#0098dd"/><stop offset="62.73%" stop-color="#0082dd"/><stop offset="63.04%" stop-color="#007add"/><stop offset="63.34%" stop-color="#0067dd"/><stop offset="63.50%" stop-color="#0067dd"/><stop offset="63.50%" stop-color="#0041dd"/><stop offset="63.80%" stop-color="#0041dd"/><stop offset="63.80%" stop-color="#001cdd"/><stop offset="63.96%" stop-color="#001cdd"/><stop offset="64.26%" stop-color="#0009dd"/><stop offset="65.49%" stop-color="#0000dd"/><stop offset="70.09%" stop-color="#0000c9"/><stop offset="71.32%" stop-color="#0000ad"/><stop offset="71.63%" stop-color="#0d00a8"/><stop offset="71.93%" stop-color="#2d00a4"/><stop offset="72.09%" stop-color="#2d00a4"/><stop offset="72.09%" stop-color="#58009f"/><stop offset="72.24%" stop-color="#58009f"/><stop offset="72.55%" stop-color="#78009b"/><stop offset="72.85%" stop-color="#870098"/><stop offset="73.77%" stop-color="#850096"/><stop offset="73.93%" stop-color="#850096"/><stop offset="73.93%" stop-color="#0078dd"/><stop offset="74.23%" stop-color="#0078dd"/><stop offset="74.23%" stop-color="#00a353"/><stop offset="74.54%" stop-color="#00a353"/><stop offset="74.54%" stop-color="#0098dd"/><stop offset="74.85%" stop-color="#0098dd"/><stop offset="74.85%" stop-color="#0000dd"/><stop offset="75.77%" stop-color="#0000dd"/><stop offset="75.77%" stop-color="#0098dd"/><stop offset="76.69%" stop-color="#0098dd"/><stop offset="76.69%" stop-color="#0013dd"/><stop offset="77.91%" stop-color="#0013dd"/><stop offset="77.91%" stop-color="#0098dd"/><stop offset="78.83%" stop-color="#0098dd"/><stop offset="78.83%" stop-color="#0000dd"/><stop offset="79.45%" stop-color="#0000dd"/><stop offset="79.45%" stop-color="#009cd3"/><stop offset="80.67%" stop-color="#009cd3"/><stop offset="80.67%" stop-color="#0000d1"/><stop offset="82.52%" stop-color="#0000d1"/><stop offset="82.52%" stop-color="#850096"/><stop offset="83.13%" stop-color="#850096"/><stop offset="83.13%" stop-color="#5d006b"/><stop offset="85.12%" stop-color="#5d006b"/><stop offset="85.43%" stop-color="#540060"/><stop offset="85.89%" stop-color="#540060"/><stop offset="85.89%" stop-color="#0098dd"/><stop offset="86.50%" stop-color="#0098dd"/><stop offset="86.50%" stop-color="#41004b"/><stop offset="90.34%" stop-color="#41004b"/><stop offset="90.64%" stop-color="#380040"/><stop offset="92.18%" stop-color="#380040"/><stop offset="92.48%" stop-color="#2f0035"/><stop offset="96.78%" stop-color="#130015"/><stop offset="97.70%" stop-color="#09000b"/><stop offset="97.85%" stop-color="#09000b"/><stop offset="97.85%" stop-color="#7a008b"/><stop offset="98.16%" stop-color="#7a008b"/><stop offset="98.16%" stop-color="#09000b"/><stop offset="100.00%" stop-color="#09000b"/></linearGradient><linearGradient id="b6"><stop offset="0.00%" stop-color="#09000b"/><stop offset="20.09%" stop-color="#09000b"/><stop offset="20.40%" stop-color="#25002b"/><stop offset="20.55%" stop-color="#25002b"/><stop offset="20.55%" stop-color="#5d006b"/><stop offset="20.71%" stop-color="#5d006b"/><stop offset="21.01%" stop-color="#7a008b"/><stop offset="22.24%" stop-color="#870098"/><stop offset="22.39%" stop-color="#870098"/><stop offset="22.39%" stop-color="#63009e"/><stop offset="22.70%" stop-color="#63009e"/><stop offset="22.70%" stop-color="#2d00a4"/><stop offset="23.01%" stop-color="#2d00a4"/><stop offset="23.01%" stop-color="#0000b1"/><stop offset="23.16%" stop-color="#0000b1"/><stop offset="24.39%" stop-color="#0000d9"/><stop offset="24.69%" stop-color="#0009dd"/><stop offset="25.00%" stop-color="#0025dd"/><stop offset="25.15%" stop-color="#0025dd"/><stop offset="25.15%" stop-color="#0054dd"/><stop offset="25.46%" stop-color="#0054dd"/><stop offset="25.46%" stop-color="#007add"/><stop offset="25.61%" stop-color="#007add"/><stop offset="32.98%" stop-color="#009bd7"/><stop offset="41.56%" stop-color="#00aa9b"/><stop offset="41.72%" stop-color="#00aa9b"/><stop offset="41.72%" stop-color="#00dc00"/><stop offset="42.33%" stop-color="#00dc00"/><stop offset="42.33%" stop-color="#00a400"/><stop offset="42.48%" stop-color="#00a400"/><stop offset="49.54%" stop-color="#00b200"/><stop offset="52.61%" stop-color="#009f00"/><stop offset="53.22%" stop-color="#009a08"/><stop offset="54.75%" stop-color="#00a248"/><stop offset="55.37%" stop-color="#00a773"/><stop offset="55.98%" stop-color="#00aa8b"/><stop offset="58.44%" stop-color="#00aaab"/><stop offset="60.89%" stop-color="#0098dd"/><stop offset="62.73%" stop-color="#0082dd"/><stop offset="63.04%" stop-color="#007add"/><stop offset="63.34%" stop-color="#0067dd"/><stop offset="63.50%" stop-color="#0067dd"/><stop offset="63.50%" stop-color="#0041dd"/><stop offset="63.80%" stop-color="#0041dd"/><stop offset="63.80%" stop-color="#001cdd"/><stop offset="63.96%" stop-color="#001cdd"/><stop offset="64.26%" stop-color="#0009dd"/><stop offset="65.49%" stop-color="#0000dd"/><stop offset="70.09%" stop-color="#0000c9"/><stop offset="71.32%" stop-color="#0000ad"/><stop offset="71.63%" stop-color="#0d00a8"/><stop offset="71.93%" stop-color="#2d00a4"/><stop offset="72.09%" stop-color="#2d00a4"/><stop offset="72.09%" stop-color="#58009f"/><stop offset="72.24%" stop-color="#58009f"/><stop offset="72.55%" stop-color="#78009b"/><stop offset="72.85%" stop-color="#870098"/><stop offset="73.77%" stop-color="#850096"/><stop offset="73.93%" stop-color="#850096"/><stop offset="73.93%" stop-color="#0078dd"/><stop offset="74.23%" stop-color="#0078dd"/><stop offset="74.23%" stop-color="#00a353"/><stop offset="74.54%" stop-color="#00a353"/><stop offset="74.54%" stop-color="#0098dd"/><stop offset="74.85%" stop-color="#0098dd"/><stop offset="74.85%" stop-color="#0000dd"/><stop offset="75.77%" stop-color="#0000dd"/><stop offset="75.77%" stop-color="#0098dd"/><stop offset="76.53%" stop-color="#0098dd"/><stop offset="76.84%" stop-color="#00a3bf"/><stop offset="77.76%" stop-color="#00a3bf"/><stop offset="78.07%" stop-color="#0098dd"/><stop offset="78.83%" stop-color="#0098dd"/><stop offset="78.83%" stop-color="#0000dd"/><stop offset="79.45%" stop-color="#0000dd"/><stop offset="79.45%" stop-color="#009cd3"/><stop offset="80.67%" stop-color="#009cd3"/><stop offset="80.67%" stop-color="#0000d1"/><stop offset="82.52%" stop-color="#0000d1"/><stop offset="82.52%" stop-color="#850096"/><stop offset="83.13%" stop-color="#850096"/><stop offset="83.13%" stop-color="#5d006b"/><stop offset="85.12%" stop-color="#5d006b"/><stop offset="85.43%" stop-color="#540060"/><stop offset="85.89%" stop-color="#540060"/><stop offset="85.89%" stop-color="#58009f"/><stop offset="86.50%" stop-color="#58009f"/><stop offset="86.50%" stop-color="#41004b"/><stop offset="90.34%" stop-color="#41004b"/><stop offset="90.64%" stop-color="#380040"/><stop offset="92.18%" stop-color="#380040"/><stop offset="92.48%" stop-color="#2f0035"/><stop offset="98.01%" stop-color="#09000b"/><stop offset="100.00%" stop-color="#09000b"/></linearGradient><linearGradient id="b7"><stop offset="0.00%" stop-color="#09000b"/><stop offset="20.09%" stop-color="#09000b"/><stop offset="20.40%" stop-color="#25002b"/><stop offset="20.55%" stop-color="#25002b"/><stop offset="20.55%" stop-color="#5d006b"/><stop offset="20.71%" stop-color="#5d006b"/><stop offset="21.01%" stop-color="#7a008b"/><stop offset="22.24%" stop-color="#870098"/><stop offset="22.39%" stop-color="#870098"/><stop offset="22.39%" stop-color="#63009e"/><stop offset="22.70%" stop-color="#63009e"/><stop offset="22.70%" stop-color="#2d00a4"/><stop offset="23.01%" stop-color="#2d00a4"/><stop offset="23.01%" stop-color="#0000b1"/><stop offset="23.16%" stop-color="#0000b1"/><stop offset="24.08%" stop-color="#0000d5"/><stop offset="24.39%" stop-color="#0009dd"/><stop offset="25.00%" stop-color="#0041dd"/><stop offset="25.15%" stop-color="#0041dd"/><stop offset="25.15%" stop-color="#0078dd"/><stop offset="25.31%" stop-color="#0078dd"/><stop offset="25.92%" stop-color="#0090dd"/><stop offset="31.44%" stop-color="#009cd3"/><stop offset="39.11%" stop-color="#00aa9d"/><stop offset="41.56%" stop-color="#00aa93"/><stop offset="41.72%" stop-color="#00aa93"/><stop offset="41.72%" stop-color="#00dc00"/><stop offset="42.33%" stop-color="#00dc00"/><stop offset="42.33%" stop-color="#00a400"/><stop offset="42.48%" stop-color="#00a400"/><stop offset="49.54%" stop-color="#00b200"/><stop offset="52.61%" stop-color="#009f00"/><stop offset="53.22%" stop-color="#009a08"/><stop offset="54.75%" stop-color="#00a248"/><stop offset="55.37%" stop-color="#00a773"/><stop offset="55.98%" stop-color="#00aa8b"/><stop offset="58.44%" stop-color="#00aaab"/><stop offset="60.89%" stop-color="#0098dd"/><stop offset="62.73%" stop-color="#0082dd"/><stop offset="63.04%" stop-color="#007add"/><stop offset="63.34%" stop-color="#0067dd"/><stop offset="63.50%" stop-color="#0067dd"/><stop offset="63.50%" stop-color="#0041dd"/><stop offset="63.80%" stop-color="#0041dd"/><stop offset="63.80%" stop-color="#001cdd"/><stop offset="63.96%" stop-color="#001cdd"/><stop offset="64.26%" stop-color="#0009dd"/><stop offset="65.49%" stop-color="#0000dd"/><stop offset="70.09%" stop-color="#0000c9"/><stop offset="71.32%" stop-color="#0000ad"/><stop offset="71.63%" stop-color="#0d00a8"/><stop offset="71.93%" stop-color="#2d00a4"/><stop offset="72.09%" stop-color="#2d00a4"/><stop offset="72.09%" stop-color="#58009f"/><stop offset="72.24%" stop-color="#58009f"/><stop offset="72.55%" stop-color="#78009b"/><stop offset="72.85%" stop-color="#870098"/><stop offset="73.77%" stop-color="#850096"/><stop offset="73.93%" stop-color="#850096"/><stop offset="73.93%" stop-color="#0078dd"/><stop offset="74.23%" stop-color="#0078dd"/><stop offset="74.23%" stop-color="#00a353"/><stop offset="74.54%" stop-color="#00a353"/><stop offset="74.54%" stop-color="#0098dd"/><stop offset="74.85%" stop-color="#0098dd"/><stop offset="74.85%" stop-color="#0000dd"/><stop offset="75.77%" stop-color="#0000dd"/><stop offset="75.77%" stop-color="#0098dd"/><stop offset="76.53%" stop-color="#0098dd"/><stop offset="76.84%" stop-color="#00a3bf"/><stop offset="77.76%" stop-color="#00a3bf"/><stop offset="78.07%" stop-color="#0098dd"/><stop offset="78.83%" stop-color="#0098dd"/><stop offset="78.83%" stop-color="#0000dd"/><stop offset="79.45%" stop-color="#0000dd"/><stop offset="79.45%" stop-color="#009cd3"/><stop offset="80.67%" stop-color="#009cd3"/><stop offset="80.67%" stop-color="#0000d1"/><stop offset="82.52%" stop-color="#0000d1"/><stop offset="82.52%" stop-color="#850096"/><stop offset="83.13%" stop-color="#850096"/><stop offset="83.13%" stop-color="#5d006b"/><stop offset="85.12%" stop-color="#5d006b"/><stop offset="85.43%" stop-color="#540060"/><stop offset="85.58%" stop-color="#540060"/><stop offset="85.58%" stop-color="#7d008e"/><stop offset="86.50%" stop-color="#7d008e"/><stop offset="86.50%" stop-color="#41004b"/><stop offset="90.34%" stop-color="#41004b"/><stop offset="90.64%" stop-color="#380040"/><stop offset="92.18%" stop-color="#380040"/><stop offset="92.48%" stop-color="#2f0035"/><stop offset="98.01%" stop-color="#09000b"/><stop offset="100.00%" stop-color="#09000b"/></linearGradient><linearGradient id="b8"><stop offset="0.00%" stop-color="#09000b"/><stop offset="20.09%" stop-color="#09000b"/><stop offset="20.40%" stop-color="#25002b"/><stop offset="20.55%" stop-color="#25002b"/><stop offset="20.55%" stop-color="#5d006b"/><stop offset="20.71%" stop-color="#5d006b"/><stop offset="21.01%" stop-color="#7a008b"/><stop offset="22.24%" stop-color="#870098"/><stop offset="22.39%" stop-color="#870098"/><stop offset="22.39%" stop-color="#63009e"/><stop offset="22.70%" stop-color="#63009e"/><stop offset="22.70%" stop-color="#2d00a4"/><stop offset="23.01%" stop-color="#2d00a4"/><stop offset="23.01%" stop-color="#0000b1"/><stop offset="23.16%" stop-color="#0000b1"/><stop offset="24.08%" stop-color="#0000dd"/><stop offset="24.23%" stop-color="#0000dd"/><stop offset="24.23%" stop-color="#0025dd"/><stop offset="24.39%" stop-color="#0025dd"/><stop offset="24.69%" stop-color="#0041dd"/><stop offset="24.85%" stop-color="#0041dd"/><stop offset="24.85%" stop-color="#0067dd"/><stop offset="25.00%" stop-color="#0067dd"/><stop offset="25.31%" stop-color="#0085dd"/><stop offset="25.92%" stop-color="#009cd3"/><stop offset="27.45%" stop-color="#00a3bf"/><stop offset="32.06%" stop-color="#00a4bb"/><stop offset="35.74%" stop-color="#00aaa3"/><stop offset="41.56%" stop-color="#00aa8b"/><stop offset="41.72%" stop-color="#00aa8b"/><stop offset="41.72%" stop-color="#00f200"/><stop offset="42.33%" stop-color="#00f200"/><stop offset="42.33%" stop-color="#00a400"/><stop offset="42.48%" stop-color="#00a400"/><stop offset="49.54%" stop-color="#00b200"/><stop offset="52.61%" stop-color="#009f00"/><stop offset="53.22%" stop-color="#009a08"/><stop offset="54.75%" stop-color="#00a248"/><stop offset="55.37%" stop-color="#00a773"/><stop offset="55.98%" stop-color="#00aa8b"/><stop offset="58.44%" stop-color="#00aaab"/><stop offset="60.89%" stop-color="#0098dd"/><stop offset="62.73%" stop-color="#0082dd"/><stop offset="63.04%" stop-color="#007add"/><stop offset="63.34%" stop-color="#0067dd"/><stop offset="63.50%" stop-color="#0067dd"/><stop offset="63.50%" stop-color="#0041dd"/><stop offset="63.80%" stop-color="#0041dd"/><stop offset="63.80%" stop-color="#001cdd"/><stop offset="63.96%" stop-color="#001cdd"/><stop offset="64.26%" stop-color="#0009dd"/><stop offset="65.49%" stop-color="#0000dd"/><stop offset="70.09%" stop-color="#0000c9"/><stop offset="71.32%" stop-color="#0000ad"/><stop offset="71.63%" stop-color="#0d00a8"/><stop offset="71.93%" stop-color="#2d00a4"/><stop offset="72.09%" stop-color="#2d00a4"/><stop offset="72.09%" stop-color="#58009f"/><stop offset="72.24%" stop-color="#58009f"/><stop offset="72.55%" stop-color="#78009b"/><stop offset="72.85%" stop-color="#870098"/><stop offset="73.77%" stop-color="#850096"/><stop offset="73.93%" stop-color="#850096"/><stop offset="73.93%" stop-color="#0078dd"/><stop offset="74.23%" stop-color="#0078dd"/><stop offset="74.23%" stop-color="#00a353"/><stop offset="74.54%" stop-color="#00a353"/><stop offset="74.54%" stop-color="#0098dd"/><stop offset="74.85%" stop-color="#0098dd"/><stop offset="74.85%" stop-color="#0000dd"/><stop offset="75.77%" stop-color="#0000dd"/><stop offset="75.77%" stop-color="#0098dd"/><stop offset="76.53%" stop-color="#0098dd"/><stop offset="76.84%" stop-color="#00a3bf"/><stop offset="77.76%" stop-color="#00a3bf"/><stop offset="78.07%" stop-color="#0098dd"/><stop offset="78.83%" stop-color="#0098dd"/><stop offset="78.83%" stop-color="#0000dd"/><stop offset="79.45%" stop-color="#0000dd"/><stop offset="79.45%" stop-color="#009cd3"/><stop offset="80.67%" stop-color="#009cd3"/><stop offset="80.67%" stop-color="#0000d1"/><stop offset="82.52%" stop-color="#0000d1"/><stop offset="82.52%" stop-color="#850096"/><stop offset="83.13%" stop-color="#850096"/><stop offset="83.13%" stop-color="#5d006b"/><stop offset="85.12%" stop-color="#5d006b"/><stop offset="85.43%" stop-color="#540060"/><stop offset="85.58%" stop-color="#540060"/><stop offset="85.58%" stop-color="#7d008e"/><stop offset="86.50%" stop-color="#7d008e"/><stop offset="86.50%" stop-color="#41004b"/><stop offset="90.34%" stop-color="#41004b"/><stop offset="90.64%" stop-color="#380040"/><stop offset="92.18%" stop-color="#380040"/><stop offset="92.48%" stop-color="#2f0035"/><stop offset="98.01%" stop-color="#09000b"/><stop offset="100.00%" stop-color="#09000b"/></linearGradient><linearGradient id="b9"><stop offset="0.00%" stop-color="#09000b"/><stop offset="20.09%" stop-color="#09000b"/><stop offset="20.40%" stop-color="#25002b"/><stop offset="20.55%" stop-color="#25002b"/><stop offset="20.55%" stop-color="#5d006b"/><stop offset="20.71%" stop-color="#5d006b"/><stop offset="21.01%" stop-color="#7a008b"/><stop offset="22.24%" stop-color="#870098"/><stop offset="22.39%" stop-color="#870098"/><stop offset="22.39%" stop-color="#63009e"/><stop offset="22.70%" stop-color="#63009e"/><stop offset="22.70%" stop-color="#2d00a4"/><stop offset="23.01%" stop-color="#2d00a4"/><stop offset="23.01%" stop-color="#0000b1"/><stop offset="23.16%" stop-color="#0000b1"/><stop offset="24.08%" stop-color="#0000d5"/><stop offset="24.39%" stop-color="#0009dd"/><stop offset="24.69%" stop-color="#0025dd"/><stop offset="24.85%" stop-color="#0025dd"/><stop offset="24.85%" stop-color="#004bdd"/><stop offset="25.15%" stop-color="#004bdd"/><stop offset="25.15%" stop-color="#0078dd"/><stop offset="25.31%" stop-color="#0078dd"/><stop offset="25.92%" stop-color="#0092dd"/><stop offset="30.83%" stop-color="#009fcb"/><stop offset="36.04%" stop-color="#00aaab"/><stop offset="41.56%" stop-color="#00aa93"/><stop offset="41.72%" stop-color="#00aa93"/><stop offset="41.72%" stop-color="#00ff00"/><stop offset="42.33%" stop-color="#00ff00"/><stop offset="42.33%" stop-color="#00a400"/><stop offset="42.48%" stop-color="#00a400"/><stop offset="49.54%" stop-color="#00b200"/><stop offset="53.53%" stop-color="#009a00"/><stop offset="54.45%" stop-color="#009d1d"/><stop offset="54.75%" stop-color="#009f33"/><stop offset="55.37%" stop-color="#00a248"/><stop offset="55.98%" stop-color="#00a773"/><stop offset="56.60%" stop-color="#00aa8b"/><stop offset="59.05%" stop-color="#00aaab"/><stop offset="61.50%" stop-color="#0098dd"/><stop offset="63.34%" stop-color="#0082dd"/><stop offset="63.65%" stop-color="#007add"/><stop offset="63.96%" stop-color="#0067dd"/><stop offset="64.11%" stop-color="#0067dd"/><stop offset="64.11%" stop-color="#0041dd"/><stop offset="64.42%" stop-color="#0041dd"/><stop offset="64.42%" stop-color="#001cdd"/><stop offset="64.57%" stop-color="#001cdd"/><stop offset="64.88%" stop-color="#0009dd"/><stop offset="66.10%" stop-color="#0000dd"/><stop offset="70.71%" stop-color="#0000c9"/><stop offset="71.93%" stop-color="#0000ad"/><stop offset="72.24%" stop-color="#0d00a8"/><stop offset="72.55%" stop-color="#2d00a4"/><stop offset="72.70%" stop-color="#2d00a4"/><stop offset="72.70%" stop-color="#58009f"/><stop offset="72.85%" stop-color="#58009f"/><stop offset="73.16%" stop-color="#78009b"/><stop offset="73.47%" stop-color="#870098"/><stop offset="73.77%" stop-color="#860097"/><stop offset="73.93%" stop-color="#860097"/><stop offset="73.93%" stop-color="#0078dd"/><stop offset="74.23%" stop-color="#0078dd"/><stop offset="74.23%" stop-color="#00a353"/><stop offset="74.54%" stop-color="#00a353"/><stop offset="74.54%" stop-color="#0098dd"/><stop offset="74.85%" stop-color="#0098dd"/><stop offset="74.85%" stop-color="#0000dd"/><stop offset="75.77%" stop-color="#0000dd"/><stop offset="75.77%" stop-color="#0098dd"/><stop offset="76.53%" stop-color="#0098dd"/><stop offset="76.84%" stop-color="#00a3bf"/><stop offset="77.76%" stop-color="#00a3bf"/><stop offset="78.07%" stop-color="#0098dd"/><stop offset="78.83%" stop-color="#0098dd"/><stop offset="78.83%" stop-color="#0000dd"/><stop offset="79.45%" stop-color="#0000dd"/><stop offset="79.45%" stop-color="#009cd3"/><stop offset="80.67%" stop-color="#009cd3"/><stop offset="80.67%" stop-color="#0000d1"/><stop offset="82.52%" stop-color="#0000d1"/><stop offset="82.52%" stop-color="#850096"/><stop offset="83.13%" stop-color="#850096"/><stop offset="83.13%" stop-color="#5d006b"/><stop offset="85.12%" stop-color="#5d006b"/><stop offset="85.43%" stop-color="#540060"/><stop offset="85.58%" stop-color="#540060"/><stop offset="85.58%" stop-color="#7d008e"/><stop offset="86.50%" stop-color="#7d008e"/><stop offset="86.50%" stop-color="#41004b"/><stop offset="90.34%" stop-color="#41004b"/><stop offset="90.64%" stop-color="#380040"/><stop offset="92.18%" stop-color="#380040"/><stop offset="92.48%" stop-color="#2f0035"/><stop offset="98.01%" stop-color="#09000b"/><stop offset="100.00%" stop-color="#09000b"/></linearGradient><linearGradient id="b10"><stop offset="0.00%" stop-color="#09000b"/><stop offset="20.09%" stop-color="#09000b"/><stop offset="20.40%" stop-color="#25002b"/><stop offset="20.55%" stop-color="#25002b"/><stop offset="20.55%" stop-color="#5d006b"/><stop offset="20.71%" stop-color="#5d006b"/><stop offset="21.01%" stop-color="#7a008b"/><stop offset="22.24%" stop-color="#870098"/><stop offset="22.39%" stop-color="#870098"/><stop offset="22.39%" stop-color="#63009e"/><stop offset="22.70%" stop-color="#63009e"/><stop offset="22.70%" stop-color="#2d00a4"/><stop offset="23.01%" stop-color="#2d00a4"/><stop offset="23.01%" stop-color="#0000b1"/><stop offset="23.16%" stop-color="#0000b1"/><stop offset="24.39%" stop-color="#0000d9"/><stop offset="25.00%" stop-color="#002fdd"/><stop offset="25.15%" stop-color="#002fdd"/><stop offset="25.15%" stop-color="#005ddd"/><stop offset="25.46%" stop-color="#005ddd"/><stop offset="25.46%" stop-color="#0080dd"/><stop offset="25.61%" stop-color="#0080dd"/><stop offset="27.15%" stop-color="#0090dd"/><stop offset="30.21%" stop-color="#009cd3"/><stop offset="35.12%" stop-color="#00a7b3"/><stop offset="41.56%" stop-color="#00aa98"/><stop offset="41.72%" stop-color="#00aa98"/><stop offset="41.72%" stop-color="#dcf400"/><stop offset="42.33%" stop-color="#dcf400"/><stop offset="42.33%" stop-color="#009e28"/><stop offset="42.48%" stop-color="#009e28"/><stop offset="44.02%" stop-color="#009b13"/><stop offset="45.55%" stop-color="#009a08"/><stop offset="48.62%" stop-color="#009a00"/><stop offset="50.15%" stop-color="#009a00"/><stop offset="51.69%" stop-color="#009d1d"/><stop offset="54.75%" stop-color="#00a97d"/><stop offset="55.37%" stop-color="#00aa8b"/><stop offset="58.74%" stop-color="#00a8af"/><stop offset="61.20%" stop-color="#0098dd"/><stop offset="63.34%" stop-color="#0082dd"/><stop offset="63.65%" stop-color="#007add"/><stop offset="63.96%" stop-color="#0067dd"/><stop offset="64.11%" stop-color="#0067dd"/><stop offset="64.11%" stop-color="#0041dd"/><stop offset="64.42%" stop-color="#0041dd"/><stop offset="64.42%" stop-color="#001cdd"/><stop offset="64.57%" stop-color="#001cdd"/><stop offset="64.88%" stop-color="#0009dd"/><stop offset="66.10%" stop-color="#0000dd"/><stop offset="70.71%" stop-color="#0000c9"/><stop offset="71.93%" stop-color="#0000ad"/><stop offset="72.24%" stop-color="#0d00a8"/><stop offset="72.55%" stop-color="#2d00a4"/><stop offset="72.70%" stop-color="#2d00a4"/><stop offset="72.70%" stop-color="#58009f"/><stop offset="72.85%" stop-color="#58009f"/><stop offset="73.16%" stop-color="#78009b"/><stop offset="73.47%" stop-color="#870098"/><stop offset="73.77%" stop-color="#860097"/><stop offset="73.93%" stop-color="#860097"/><stop offset="73.93%" stop-color="#0078dd"/><stop offset="74.23%" stop-color="#0078dd"/><stop offset="74.23%" stop-color="#00a353"/><stop offset="74.54%" stop-color="#00a353"/><stop offset="74.54%" stop-color="#0098dd"/><stop offset="74.85%" stop-color="#0098dd"/><stop offset="74.85%" stop-color="#0000dd"/><stop offset="75.77%" stop-color="#0000dd"/><stop offset="75.77%" stop-color="#0098dd"/><stop offset="76.53%" stop-color="#0098dd"/><stop offset="76.84%" stop-color="#00a3bf"/><stop offset="77.76%" stop-color="#00a3bf"/><stop offset="78.07%" stop-color="#0098dd"/><stop offset="78.83%" stop-color="#0098dd"/><stop offset="78.83%" stop-color="#0000dd"/><stop offset="79.45%" stop-color="#0000dd"/><stop offset="79.45%" stop-color="#009cd3"/><stop offset="80.67%" stop-color="#009cd3"/><stop offset="80.67%" stop-color="#0000d1"/><stop offset="82.52%" stop-color="#0000d1"/><stop offset="82.52%" stop-color="#850096"/><stop offset="83.13%" stop-color="#850096"/><stop offset="83.13%" stop-color="#5d006b"/><stop offset="85.12%" stop-color="#5d006b"/><stop offset="85.43%" stop-color="#540060"/><stop offset="85.58%" stop-color="#540060"/><stop offset="85.58%" stop-color="#7d008e"/><stop offset="86.50%" stop-color="#7d008e"/><stop offset="86.50%" stop-color="#41004b"/><stop offset="90.34%" stop-color="#41004b"/><stop offset="90.64%" stop-color="#380040"/><stop offset="92.18%" stop-color="#380040"/><stop offset="92.48%" stop-color="#2f0035"/><stop offset="98.01%" stop-color="#09000b"/><stop offset="100.00%" stop-color="#09000b"/></linearGradient><linearGradient id="b11"><stop offset="0.00%" stop-color="#09000b"/><stop offset="20.09%" stop-color="#09000b"/><stop offset="20.40%" stop-color="#25002b"/><stop offset="20.55%" stop-color="#25002b"/><stop offset="20.55%" stop-color="#5d006b"/><stop offset="20.71%" stop-color="#5d006b"/><stop offset="21.01%" stop-color="#7a008b"/><stop offset="22.24%" stop-color="#870098"/><stop offset="22.39%" stop-color="#870098"/><stop offset="22.39%" stop-color="#63009e"/><stop offset="22.70%" stop-color="#63009e"/><stop offset="22.70%" stop-color="#2d00a4"/><stop offset="23.01%" stop-color="#2d00a4"/><stop offset="23.01%" stop-color="#0000b1"/><stop offset="23.16%" stop-color="#0000b1"/><stop offset="24.08%" stop-color="#0000d5"/><stop offset="24.39%" stop-color="#0009dd"/><stop offset="25.00%" stop-color="#0041dd"/><stop offset="25.15%" stop-color="#0041dd"/><stop offset="25.15%" stop-color="#0078dd"/><stop offset="25.31%" stop-color="#0078dd"/><stop offset="25.92%" stop-color="#0090dd"/><stop offset="29.60%" stop-color="#009cd3"/><stop offset="35.74%" stop-color="#00aaab"/><stop offset="37.27%" stop-color="#00aaa8"/><stop offset="37.42%" stop-color="#00aaa8"/><stop offset="37.42%" stop-color="#00f200"/><stop offset="37.73%" stop-color="#00f200"/><stop offset="37.73%" stop-color="#00aaa5"/><stop offset="37.88%" stop-color="#00aaa5"/><stop offset="41.56%" stop-color="#00aa93"/><stop offset="41.72%" stop-color="#00aa93"/><stop offset="41.72%" stop-color="#dcf400"/><stop offset="42.33%" stop-color="#dcf400"/><stop offset="42.33%" stop-color="#009a00"/><stop offset="42.48%" stop-color="#009a00"/><stop offset="47.70%" stop-color="#00a700"/><stop offset="51.07%" stop-color="#00a200"/><stop offset="52.30%" stop-color="#009a00"/><stop offset="54.14%" stop-color="#009f33"/><stop offset="54.75%" stop-color="#00a353"/><stop offset="55.67%" stop-color="#00a773"/><stop offset="55.98%" stop-color="#00aa88"/><stop offset="59.05%" stop-color="#00a8af"/><stop offset="61.20%" stop-color="#009adb"/><stop offset="63.34%" stop-color="#0082dd"/><stop offset="63.65%" stop-color="#007add"/><stop offset="63.96%" stop-color="#0067dd"/><stop offset="64.11%" stop-color="#0067dd"/><stop offset="64.11%" stop-color="#0041dd"/><stop offset="64.42%" stop-color="#0041dd"/><stop offset="64.42%" stop-color="#001cdd"/><stop offset="64.57%" stop-color="#001cdd"/><stop offset="64.88%" stop-color="#0009dd"/><stop offset="66.10%" stop-color="#0000dd"/><stop offset="70.71%" stop-color="#0000c9"/><stop offset="71.93%" stop-color="#0000ad"/><stop offset="72.24%" stop-color="#0d00a8"/><stop offset="72.55%" stop-color="#2d00a4"/><stop offset="72.70%" stop-color="#2d00a4"/><stop offset="72.70%" stop-color="#58009f"/><stop offset="72.85%" stop-color="#58009f"/><stop offset="73.16%" stop-color="#78009b"/><stop offset="73.47%" stop-color="#870098"/><stop offset="73.77%" stop-color="#860097"/><stop offset="73.93%" stop-color="#860097"/><stop offset="73.93%" stop-color="#0078dd"/><stop offset="74.23%" stop-color="#0078dd"/><stop offset="74.23%" stop-color="#00a353"/><stop offset="74.54%" stop-color="#00a353"/><stop offset="74.54%" stop-color="#0098dd"/><stop offset="74.85%" stop-color="#0098dd"/><stop offset="74.85%" stop-color="#0000dd"/><stop offset="75.77%" stop-color="#0000dd"/><stop offset="75.77%" stop-color="#0098dd"/><stop offset="76.53%" stop-color="#0098dd"/><stop offset="76.84%" stop-color="#00a3bf"/><stop offset="77.76%" stop-color="#00a3bf"/><stop offset="78.07%" stop-color="#0098dd"/><stop offset="78.83%" stop-color="#0098dd"/><stop offset="78.83%" stop-color="#0000dd"/><stop offset="79.45%" stop-color="#0000dd"/><stop offset="79.45%" stop-color="#009cd3"/><stop offset="80.67%" stop-color="#009cd3"/><stop offset="80.67%" stop-color="#0000d1"/><stop offset="82.52%" stop-color="#0000d1"/><stop offset="82.52%" stop-color="#850096"/><stop offset="83.13%" stop-color="#850096"/><stop offset="83.13%" stop-color="#5d006b"/><stop offset="85.12%" stop-color="#5d006b"/><stop offset="85.43%" stop-color="#540060"/><stop offset="85.58%" stop-color="#540060"/><stop offset="85.58%" stop-color="#7d008e"/><stop offset="86.50%" stop-color="#7d008e"/><stop offset="86.50%" stop-color="#41004b"/><stop offset="90.34%" stop-color="#41004b"/><stop offset="90.64%" stop-color="#380040"/><stop offset="92.18%" stop-color="#380040"/><stop offset="92.48%" stop-color="#2f0035"/><stop offset="98.01%" stop-color="#09000b"/><stop offset="100.00%" stop-color="#09000b"/></linearGradient><linearGradient id="b12"><stop offset="0.00%" stop-color="#09000b"/><stop offset="20.09%" stop-color="#09000b"/><stop offset="20.40%" stop-color="#25002b"/><stop offset="20.55%" stop-color="#25002b"/><stop offset="20.55%" stop-color="#5d006b"/><stop offset="20.71%" stop-color="#5d006b"/><stop offset="21.01%" stop-color="#7a008b"/><stop offset="22.24%" stop-color="#870098"/><stop offset="22.39%" stop-color="#870098"/><stop offset="22.39%" stop-color="#63009e"/><stop offset="22.70%" stop-color="#63009e"/><stop offset="22.70%" stop-color="#2d00a4"/><stop offset="23.01%" stop-color="#2d00a4"/><stop offset="23.01%" stop-color="#0000b1"/><stop offset="23.16%" stop-color="#0000b1"/><stop offset="24.08%" stop-color="#0000d5"/><stop offset="24.39%" stop-color="#0009dd"/><stop offset="24.69%" stop-color="#0025dd"/><stop offset="24.85%" stop-color="#0025dd"/><stop offset="24.85%" stop-color="#004bdd"/><stop offset="25.15%" stop-color="#004bdd"/><stop offset="25.15%" stop-color="#007add"/><stop offset="25.31%" stop-color="#007add"/><stop offset="25.92%" stop-color="#0095dd"/><stop offset="34.51%" stop-color="#00aaa8"/><stop offset="40.34%" stop-color="#00aa95"/><stop offset="40.49%" stop-color="#00aa95"/><stop offset="40.49%" stop-color="#009a00"/><stop offset="41.41%" stop-color="#009a00"/><stop offset="41.41%" stop-color="#00aa93"/><stop offset="41.72%" stop-color="#00aa93"/><stop offset="41.72%" stop-color="#efed00"/><stop offset="42.33%" stop-color="#efed00"/><stop offset="42.33%" stop-color="#00a400"/><stop offset="42.48%" stop-color="#00a400"/><stop offset="49.54%" stop-color="#00b200"/><stop offset="53.53%" stop-color="#009a00"/><stop offset="54.45%" stop-color="#009d1d"/><stop offset="54.75%" stop-color="#009f33"/><stop offset="55.37%" stop-color="#00a248"/><stop offset="55.98%" stop-color="#00a773"/><stop offset="56.60%" stop-color="#00aa8b"/><stop offset="59.05%" stop-color="#00aaab"/><stop offset="61.50%" stop-color="#0098dd"/><stop offset="63.34%" stop-color="#0082dd"/><stop offset="63.65%" stop-color="#007add"/><stop offset="63.96%" stop-color="#0067dd"/><stop offset="64.11%" stop-color="#0067dd"/><stop offset="64.11%" stop-color="#0041dd"/><stop offset="64.42%" stop-color="#0041dd"/><stop offset="64.42%" stop-color="#001cdd"/><stop offset="64.57%" stop-color="#001cdd"/><stop offset="64.88%" stop-color="#0009dd"/><stop offset="66.10%" stop-color="#0000dd"/><stop offset="70.71%" stop-color="#0000c9"/><stop offset="71.93%" stop-color="#0000ad"/><stop offset="72.24%" stop-color="#0d00a8"/><stop offset="72.55%" stop-color="#2d00a4"/><stop offset="72.70%" stop-color="#2d00a4"/><stop offset="72.70%" stop-color="#58009f"/><stop offset="72.85%" stop-color="#58009f"/><stop offset="73.16%" stop-color="#78009b"/><stop offset="73.47%" stop-color="#870098"/><stop offset="73.77%" stop-color="#860097"/><stop offset="73.93%" stop-color="#860097"/><stop offset="73.93%" stop-color="#0078dd"/><stop offset="74.23%" stop-color="#0078dd"/><stop offset="74.23%" stop-color="#00a353"/><stop offset="74.54%" stop-color="#00a353"/><stop offset="74.54%" stop-color="#0098dd"/><stop offset="74.85%" stop-color="#0098dd"/><stop offset="74.85%" stop-color="#0000dd"/><stop offset="75.77%" stop-color="#0000dd"/><stop offset="75.77%" stop-color="#0098dd"/><stop offset="76.53%" stop-color="#0098dd"/><stop offset="76.84%" stop-color="#00a3bf"/><stop offset="77.76%" stop-color="#00a3bf"/><stop offset="78.07%" stop-color="#0098dd"/><stop offset="78.83%" stop-color="#0098dd"/><stop offset="78.83%" stop-color="#0000dd"/><stop offset="79.45%" stop-color="#0000dd"/><stop offset="79.45%" stop-color="#009cd3"/><stop offset="80.67%" stop-color="#009cd3"/><stop offset="80.67%" stop-color="#0000d1"/><stop offset="82.52%" stop-color="#0000d1"/><stop offset="82.52%" stop-color="#850096"/><stop offset="83.13%" stop-color="#850096"/><stop offset="83.13%" stop-color="#5d006b"/><stop offset="85.12%" stop-color="#5d006b"/><stop offset="85.43%" stop-color="#540060"/><stop offset="85.58%" stop-color="#540060"/><stop offset="85.58%" stop-color="#7d008e"/><stop offset="86.50%" stop-color="#7d008e"/><stop offset="86.50%" stop-color="#41004b"/><stop offset="90.34%" stop-color="#41004b"/><stop offset="90.64%" stop-color="#380040"/><stop offset="92.18%" stop-color="#380040"/><stop offset="92.48%" stop-color="#2f0035"/><stop offset="98.01%" stop-color="#09000b"/><stop offset="100.00%" stop-color="#09000b"/></linearGradient><linearGradient id="b13"><stop offset="0.00%" stop-color="#09000b"/><stop offset="20.09%" stop-color="#09000b"/><stop offset="20.40%" stop-color="#25002b"/><stop offset="20.55%" stop-color="#25002b"/><stop offset="20.55%" stop-color="#5d006b"/><stop offset="20.71%" stop-color="#5d006b"/><stop offset="21.01%" stop-color="#7a008b"/><stop offset="22.24%" stop-color="#870098"/><stop offset="22.39%" stop-color="#870098"/><stop offset="22.39%" stop-color="#63009e"/><stop offset="22.70%" stop-color="#63009e"/><stop offset="22.70%" stop-color="#2d00a4"/><stop offset="23.01%" stop-color="#2d00a4"/><stop offset="23.01%" stop-color="#0000b1"/><stop offset="23.16%" stop-color="#0000b1"/><stop offset="24.08%" stop-color="#0000d5"/><stop offset="24.39%" stop-color="#0009dd"/><stop offset="24.69%" stop-color="#0025dd"/><stop offset="24.85%" stop-color="#0025dd"/><stop offset="24.85%" stop-color="#004bdd"/><stop offset="25.15%" stop-color="#004bdd"/><stop offset="25.15%" stop-color="#007add"/><stop offset="25.31%" stop-color="#007add"/><stop offset="25.92%" stop-color="#0095dd"/><stop offset="34.51%" stop-color="#00aaa8"/><stop offset="40.34%" stop-color="#00aa95"/><stop offset="40.49%" stop-color="#00aa95"/><stop offset="40.49%" stop-color="#009a00"/><stop offset="41.41%" stop-color="#009a00"/><stop offset="41.41%" stop-color="#00aa93"/><stop offset="41.72%" stop-color="#00aa93"/><stop offset="41.72%" stop-color="#f60000"/><stop offset="42.02%" stop-color="#f60000"/><stop offset="42.02%" stop-color="#efed00"/><stop offset="42.33%" stop-color="#efed00"/><stop offset="42.33%" stop-color="#00a400"/><stop offset="42.48%" stop-color="#00a400"/><stop offset="49.54%" stop-color="#00b200"/><stop offset="53.53%" stop-color="#009a00"/><stop offset="54.45%" stop-color="#009d1d"/><stop offset="54.75%" stop-color="#009f33"/><stop offset="55.37%" stop-color="#00a248"/><stop offset="55.98%" stop-color="#00a773"/><stop offset="56.60%" stop-color="#00aa8b"/><stop offset="59.05%" stop-color="#00aaab"/><stop offset="61.50%" stop-color="#0098dd"/><stop offset="63.34%" stop-color="#0082dd"/><stop offset="63.65%" stop-color="#007add"/><stop offset="63.96%" stop-color="#0067dd"/><stop offset="64.11%" stop-color="#0067dd"/><stop offset="64.11%" stop-color="#0041dd"/><stop offset="64.42%" stop-color="#0041dd"/><stop offset="64.42%" stop-color="#001cdd"/><stop offset="64.57%" stop-color="#001cdd"/><stop offset="64.88%" stop-color="#0009dd"/><stop offset="66.10%" stop-color="#0000dd"/><stop offset="70.71%" stop-color="#0000c9"/><stop offset="71.93%" stop-color="#0000ad"/><stop offset="72.24%" stop-color="#0d00a8"/><stop offset="72.55%" stop-color="#2d00a4"/><stop offset="72.70%" stop-color="#2d00a4"/><stop offset="72.70%" stop-color="#58009f"/><stop offset="72.85%" stop-color="#58009f"/><stop offset="73.16%" stop-color="#78009b"/><stop offset="73.47%" stop-color="#870098"/><stop offset="73.77%" stop-color="#860097"/><stop offset="73.93%" stop-color="#860097"/><stop offset="73.93%" stop-color="#0078dd"/><stop offset="74.23%" stop-color="#0078dd"/><stop offset="74.23%" stop-color="#00a353"/><stop offset="74.54%" stop-color="#00a353"/><stop offset="74.54%" stop-color="#0098dd"/><stop offset="74.85%" stop-color="#0098dd"/><stop offset="74.85%" stop-color="#0000dd"/><stop offset="75.77%" stop-color="#0000dd"/><stop offset="75.77%" stop-color="#0098dd"/><stop offset="76.53%" stop-color="#0098dd"/><stop offset="76.84%" stop-color="#00a3bf"/><stop offset="77.76%" stop-color="#00a3bf"/><stop offset="78.07%" stop-color="#0098dd"/><stop offset="78.83%" stop-color="#0098dd"/><stop offset="78.83%" stop-color="#0000dd"/><stop offset="79.45%" stop-color="#0000dd"/><stop offset="79.45%" stop-color="#009cd3"/><stop offset="80.67%" stop-color="#009cd3"/><stop offset="80.67%" stop-color="#0000d1"/><stop offset="82.52%" stop-color="#0000d1"/><stop offset="82.52%" stop-color="#850096"/><stop offset="83.13%" stop-color="#850096"/><stop offset="83.13%" stop-color="#5d006b"/><stop offset="85.12%" stop-color="#5d006b"/><stop offset="85.43%" stop-color="#540060"/><stop offset="85.58%" stop-color="#540060"/><stop offset="85.58%" stop-color="#7d008e"/><stop offset="86.50%" stop-color="#7d008e"/><stop offset="86.50%" stop-color="#41004b"/><stop offset="90.34%" stop-color="#41004b"/><stop offset="90.64%" stop-color="#380040"/><stop offset="92.18%" stop-color="#380040"/><stop offset="92.48%" stop-color="#2f0035"/><stop offset="98.01%" stop-color="#09000b"/><stop offset="100.00%" stop-color="#09000b"/></linearGradient><linearGradient id="b14"><stop offset="0.00%" stop-color="#09000b"/><stop offset="20.09%" stop-color="#09000b"/><stop offset="20.40%" stop-color="#25002b"/><stop offset="20.55%" stop-color="#25002b"/><stop offset="20.55%" stop-color="#5d006b"/><stop offset="20.71%" stop-color="#5d006b"/><stop offset="21.01%" stop-color="#7a008b"/><stop offset="22.24%" stop-color="#870098"/><stop offset="22.39%" stop-color="#870098"/><stop offset="22.39%" stop-color="#63009e"/><stop offset="22.70%" stop-color="#63009e"/><stop offset="22.70%" stop-color="#2d00a4"/><stop offset="23.01%" stop-color="#2d00a4"/><stop offset="23.01%" stop-color="#0000b1"/><stop offset="23.16%" stop-color="#0000b1"/><stop offset="24.39%" stop-color="#0000d9"/><stop offset="25.00%" stop-color="#002fdd"/><stop offset="25.15%" stop-color="#002fdd"/><stop offset="25.15%" stop-color="#005ddd"/><stop offset="25.46%" stop-color="#005ddd"/><stop offset="25.46%" stop-color="#0080dd"/><stop offset="25.61%" stop-color="#0080dd"/><stop offset="26.84%" stop-color="#008ddd"/><stop offset="30.83%" stop-color="#009bd7"/><stop offset="39.11%" stop-color="#00aa9d"/><stop offset="41.56%" stop-color="#00aa93"/><stop offset="41.72%" stop-color="#00aa93"/><stop offset="41.72%" stop-color="#f60000"/><stop offset="42.02%" stop-color="#f60000"/><stop offset="42.02%" stop-color="#efed00"/><stop offset="42.33%" stop-color="#efed00"/><stop offset="42.33%" stop-color="#00a400"/><stop offset="42.48%" stop-color="#00a400"/><stop offset="49.54%" stop-color="#00b200"/><stop offset="53.53%" stop-color="#009a00"/><stop offset="54.45%" stop-color="#009d1d"/><stop offset="54.75%" stop-color="#009f33"/><stop offset="55.37%" stop-color="#00a248"/><stop offset="55.98%" stop-color="#00a773"/><stop offset="56.60%" stop-color="#00aa8b"/><stop offset="59.05%" stop-color="#00aaab"/><stop offset="61.50%" stop-color="#0098dd"/><stop offset="63.34%" stop-color="#0082dd"/><stop offset="63.65%" stop-color="#007add"/><stop offset="63.96%" stop-color="#0067dd"/><stop offset="64.11%" stop-color="#0067dd"/><stop offset="64.11%" stop-color="#0041dd"/><stop offset="64.42%" stop-color="#0041dd"/><stop offset="64.42%" stop-color="#001cdd"/><stop offset="64.57%" stop-color="#001cdd"/><stop offset="64.88%" stop-color="#0009dd"/><stop offset="66.10%" stop-color="#0000dd"/><stop offset="70.71%" stop-color="#0000c9"/><stop offset="71.93%" stop-color="#0000ad"/><stop offset="72.24%" stop-color="#0d00a8"/><stop offset="72.55%" stop-color="#2d00a4"/><stop offset="72.70%" stop-color="#2d00a4"/><stop offset="72.70%" stop-color="#58009f"/><stop offset="72.85%" stop-color="#58009f"/><stop offset="73.16%" stop-color="#78009b"/><stop offset="73.47%" stop-color="#870098"/><stop offset="73.77%" stop-color="#860097"/><stop offset="73.93%" stop-color="#860097"/><stop offset="73.93%" stop-color="#0078dd"/><stop offset="74.23%" stop-color="#0078dd"/><stop offset="74.23%" stop-color="#00a353"/><stop offset="74.54%" stop-color="#00a353"/><stop offset="74.54%" stop-color="#0098dd"/><stop offset="74.85%" stop-color="#0098dd"/><stop offset="74.85%" stop-color="#0000dd"/><stop offset="75.77%" stop-color="#0000dd"/><stop offset="75.77%" stop-color="#0098dd"/><stop offset="76.53%" stop-color="#0098dd"/><stop offset="76.84%" stop-color="#00a3bf"/><stop offset="77.76%" stop-color="#00a3bf"/><stop offset="78.07%" stop-color="#0098dd"/><stop offset="78.83%" stop-color="#0098dd"/><stop offset="78.83%" stop-color="#0000dd"/><stop offset="79.45%" stop-color="#0000dd"/><stop offset="79.45%" stop-color="#009cd3"/><stop offset="80.67%" stop-color="#009cd3"/><stop offset="80.67%" stop-color="#0000d1"/><stop offset="82.52%" stop-color="#0000d1"/><stop offset="82.52%" stop-color="#850096"/><stop offset="83.13%" stop-color="#850096"/><stop offset="83.13%" stop-color="#5d006b"/><stop offset="85.12%" stop-color="#5d006b"/><stop offset="85.43%" stop-color="#540060"/><stop offset="85.58%" stop-color="#540060"/><stop offset="85.58%" stop-color="#7d008e"/><stop offset="86.50%" stop-color="#7d008e"/><stop offset="86.50%" stop-color="#41004b"/><stop offset="90.34%" stop-color="#41004b"/><stop offset="90.64%" stop-color="#380040"/><stop offset="92.18%" stop-color="#380040"/><stop offset="92.48%" stop-color="#2f0035"/><stop offset="96.78%" stop-color="#130015"/><stop offset="97.70%" stop-color="#09000b"/><stop offset="97.85%" stop-color="#09000b"/><stop offset="97.85%" stop-color="#7a008b"/><stop offset="98.16%" stop-color="#7a008b"/><stop offset="98.16%" stop-color="#09000b"/><stop offset="100.00%" stop-color="#09000b"/></linearGradient><linearGradient id="b15"><stop offset="0.00%" stop-color="#09000b"/><stop offset="20.09%" stop-color="#09000b"/><stop offset="20.40%" stop-color="#25002b"/><stop offset="20.55%" stop-color="#25002b"/><stop offset="20.55%" stop-color="#5d006b"/><stop offset="20.71%" stop-color="#5d006b"/><stop offset="21.01%" stop-color="#7a008b"/><stop offset="22.24%" stop-color="#870098"/><stop offset="22.39%" stop-color="#870098"/><stop offset="22.39%" stop-color="#63009e"/><stop offset="22.70%" stop-color="#63009e"/><stop offset="22.70%" stop-color="#2d00a4"/><stop offset="23.01%" stop-color="#2d00a4"/><stop offset="23.01%" stop-color="#0000b1"/><stop offset="23.16%" stop-color="#0000b1"/><stop offset="24.39%" stop-color="#0000d9"/><stop offset="25.00%" stop-color="#002fdd"/><stop offset="25.15%" stop-color="#002fdd"/><stop offset="25.15%" stop-color="#005ddd"/><stop offset="25.46%" stop-color="#005ddd"/><stop offset="25.46%" stop-color="#0080dd"/><stop offset="25.61%" stop-color="#0080dd"/><stop offset="26.84%" stop-color="#008ddd"/><stop offset="30.21%" stop-color="#009bd7"/><stop offset="36.35%" stop-color="#00aaab"/><stop offset="37.27%" stop-color="#00aaa8"/><stop offset="37.42%" stop-color="#00aaa8"/><stop offset="37.42%" stop-color="#efed00"/><stop offset="37.73%" stop-color="#efed00"/><stop offset="37.73%" stop-color="#ff1500"/><stop offset="38.04%" stop-color="#ff1500"/><stop offset="38.04%" stop-color="#00aaa5"/><stop offset="38.19%" stop-color="#00aaa5"/><stop offset="41.56%" stop-color="#00aa93"/><stop offset="41.72%" stop-color="#00aa93"/><stop offset="41.72%" stop-color="#f60000"/><stop offset="42.02%" stop-color="#f60000"/><stop offset="42.02%" stop-color="#efed00"/><stop offset="42.33%" stop-color="#efed00"/><stop offset="42.33%" stop-color="#00bc00"/><stop offset="42.48%" stop-color="#00bc00"/><stop offset="47.39%" stop-color="#00cc00"/><stop offset="51.38%" stop-color="#00c400"/><stop offset="55.37%" stop-color="#009a00"/><stop offset="57.21%" stop-color="#00a97d"/><stop offset="57.52%" stop-color="#00aa8b"/><stop offset="59.97%" stop-color="#00a6b7"/><stop offset="61.81%" stop-color="#0095dd"/><stop offset="63.65%" stop-color="#007add"/><stop offset="63.96%" stop-color="#0067dd"/><stop offset="64.11%" stop-color="#0067dd"/><stop offset="64.11%" stop-color="#0041dd"/><stop offset="64.42%" stop-color="#0041dd"/><stop offset="64.42%" stop-color="#001cdd"/><stop offset="64.57%" stop-color="#001cdd"/><stop offset="64.88%" stop-color="#0009dd"/><stop offset="66.10%" stop-color="#0000dd"/><stop offset="70.71%" stop-color="#0000c9"/><stop offset="71.93%" stop-color="#0000ad"/><stop offset="72.24%" stop-color="#0d00a8"/><stop offset="72.55%" stop-color="#2d00a4"/><stop offset="72.70%" stop-color="#2d00a4"/><stop offset="72.70%" stop-color="#58009f"/><stop offset="72.85%" stop-color="#58009f"/><stop offset="73.16%" stop-color="#78009b"/><stop offset="73.47%" stop-color="#870098"/><stop offset="73.77%" stop-color="#860097"/><stop offset="73.93%" stop-color="#860097"/><stop offset="73.93%" stop-color="#0078dd"/><stop offset="74.23%" stop-color="#0078dd"/><stop offset="74.23%" stop-color="#00a353"/><stop offset="74.54%" stop-color="#00a353"/><stop offset="74.54%" stop-color="#0098dd"/><stop offset="74.85%" stop-color="#0098dd"/><stop offset="74.85%" stop-color="#0000dd"/><stop offset="75.77%" stop-color="#0000dd"/><stop offset="75.77%" stop-color="#0098dd"/><stop offset="76.53%" stop-color="#0098dd"/><stop offset="76.84%" stop-color="#00a3bf"/><stop offset="77.76%" stop-color="#00a3bf"/><stop offset="78.07%" stop-color="#0098dd"/><stop offset="78.83%" stop-color="#0098dd"/><stop offset="78.83%" stop-color="#0000dd"/><stop offset="79.45%" stop-color="#0000dd"/><stop offset="79.45%" stop-color="#009cd3"/><stop offset="80.67%" stop-color="#009cd3"/><stop offset="80.67%" stop-color="#0000d1"/><stop offset="82.52%" stop-color="#0000d1"/><stop offset="82.52%" stop-color="#850096"/><stop offset="83.13%" stop-color="#850096"/><stop offset="83.13%" stop-color="#5d006b"/><stop offset="85.12%" stop-color="#5d006b"/><stop offset="85.43%" stop-color="#540060"/><stop offset="85.89%" stop-color="#540060"/><stop offset="85.89%" stop-color="#0000dd"/><stop offset="86.50%" stop-color="#0000dd"/><stop offset="86.50%" stop-color="#41004b"/><stop offset="90.34%" stop-color="#41004b"/><stop offset="90.64%" stop-color="#380040"/><stop offset="92.18%" stop-color="#380040"/><stop offset="92.48%" stop-color="#2f0035"/><stop offset="98.01%" stop-color="#09000b"/><stop offset="100.00%" stop-color="#09000b"/></linearGradient><linearGradient id="b16"><stop offset="0.00%" stop-color="#09000b"/><stop offset="20.09%" stop-color="#09000b"/><stop offset="20.40%" stop-color="#25002b"/><stop offset="20.55%" stop-color="#25002b"/><stop offset="20.55%" stop-color="#5d006b"/><stop offset="20.71%" stop-color="#5d006b"/><stop offset="21.01%" stop-color="#7a008b"/><stop offset="22.24%" stop-color="#870098"/><stop offset="22.39%" stop-color="#870098"/><stop offset="22.39%" stop-color="#63009e"/><stop offset="22.70%" stop-color="#63009e"/><stop offset="22.70%" stop-color="#2d00a4"/><stop offset="23.01%" stop-color="#2d00a4"/><stop offset="23.01%" stop-color="#0000b1"/><stop offset="23.16%" stop-color="#0000b1"/><stop offset="24.39%" stop-color="#0000d9"/><stop offset="25.00%" stop-color="#002fdd"/><stop offset="25.15%" stop-color="#002fdd"/><stop offset="25.15%" stop-color="#005ddd"/><stop offset="25.46%" stop-color="#005ddd"/><stop offset="25.46%" stop-color="#0080dd"/><stop offset="25.61%" stop-color="#0080dd"/><stop offset="26.84%" stop-color="#008ddd"/><stop offset="30.21%" stop-color="#009bd7"/><stop offset="36.35%" stop-color="#00aaab"/><stop offset="37.58%" stop-color="#00aaa8"/><stop offset="37.73%" stop-color="#00aaa8"/><stop offset="37.73%" stop-color="#00ff00"/><stop offset="38.04%" stop-color="#00ff00"/><stop offset="38.04%" stop-color="#00aaa5"/><stop offset="38.19%" stop-color="#00aaa5"/><stop offset="41.56%" stop-color="#00aa93"/><stop offset="41.72%" stop-color="#00aa93"/><stop offset="41.72%" stop-color="#f60000"/><stop offset="42.02%" stop-color="#f60000"/><stop offset="42.02%" stop-color="#efed00"/><stop offset="42.33%" stop-color="#efed00"/><stop offset="42.33%" stop-color="#00a400"/><stop offset="42.48%" stop-color="#00a400"/><stop offset="49.54%" stop-color="#00b200"/><stop offset="53.53%" stop-color="#009a00"/><stop offset="54.45%" stop-color="#009d1d"/><stop offset="54.75%" stop-color="#009f33"/><stop offset="55.37%" stop-color="#00a248"/><stop offset="55.98%" stop-color="#00a773"/><stop offset="56.60%" stop-color="#00aa8b"/><stop offset="59.05%" stop-color="#00aaab"/><stop offset="61.50%" stop-color="#0098dd"/><stop offset="63.34%" stop-color="#0082dd"/><stop offset="63.65%" stop-color="#007add"/><stop offset="63.96%" stop-color="#0067dd"/><stop offset="64.11%" stop-color="#0067dd"/><stop offset="64.11%" stop-color="#0041dd"/><stop offset="64.42%" stop-color="#0041dd"/><stop offset="64.42%" stop-color="#001cdd"/><stop offset="64.57%" stop-color="#001cdd"/><stop offset="64.88%" stop-color="#0009dd"/><stop offset="66.10%" stop-color="#0000dd"/><stop offset="70.71%" stop-color="#0000c9"/><stop offset="71.93%" stop-color="#0000ad"/><stop offset="72.24%" stop-color="#0d00a8"/><stop offset="72.55%" stop-color="#2d00a4"/><stop offset="72.70%" stop-color="#2d00a4"/><stop offset="72.70%" stop-color="#58009f"/><stop offset="72.85%" stop-color="#58009f"/><stop offset="73.16%" stop-color="#78009b"/><stop offset="73.47%" stop-color="#870098"/><stop offset="73.77%" stop-color="#860097"/><stop offset="73.93%" stop-color="#860097"/><stop offset="73.93%" stop-color="#0078dd"/><stop offset="74.23%" stop-color="#0078dd"/><stop offset="74.23%" stop-color="#00a353"/><stop offset="74.54%" stop-color="#00a353"/><stop offset="74.54%" stop-color="#0098dd"/><stop offset="74.85%" stop-color="#0098dd"/><stop offset="74.85%" stop-color="#0000dd"/><stop offset="75.77%" stop-color="#0000dd"/><stop offset="75.77%" stop-color="#0098dd"/><stop offset="76.53%" stop-color="#0098dd"/><stop offset="76.84%" stop-color="#00a3bf"/><stop offset="77.76%" stop-color="#00a3bf"/><stop offset="78.07%" stop-color="#0098dd"/><stop offset="78.83%" stop-color="#0098dd"/><stop offset="78.83%" stop-color="#0000dd"/><stop offset="79.45%" stop-color="#0000dd"/><stop offset="79.45%" stop-color="#009cd3"/><stop offset="80.67%" stop-color="#009cd3"/><stop offset="80.67%" stop-color="#0000d1"/><stop offset="82.52%" stop-color="#0000d1"/><stop offset="82.52%" stop-color="#850096"/><stop offset="83.13%" stop-color="#850096"/><stop offset="83.13%" stop-color="#5d006b"/><stop offset="85.12%" stop-color="#5d006b"/><stop offset="85.43%" stop-color="#540060"/><stop offset="85.58%" stop-color="#540060"/><stop offset="85.58%" stop-color="#7d008e"/><stop offset="86.50%" stop-color="#7d008e"/><stop offset="86.50%" stop-color="#41004b"/><stop offset="90.34%" stop-color="#41004b"/><stop offset="90.64%" stop-color="#380040"/><stop offset="92.18%" stop-color="#380040"/><stop offset="92.48%" stop-color="#2f0035"/><stop offset="98.01%" stop-color="#09000b"/><stop offset="100.00%" stop-color="#09000b"/></linearGradient><linearGradient id="b17"><stop offset="0.00%" stop-color="#09000b"/><stop offset="20.09%" stop-color="#09000b"/><stop offset="20.40%" stop-color="#25002b"/><stop offset="20.55%" stop-color="#25002b"/><stop offset="20.55%" stop-color="#5d006b"/><stop offset="20.71%" stop-color="#5d006b"/><stop offset="21.01%" stop-color="#7a008b"/><stop offset="22.24%" stop-color="#870098"/><stop offset="22.39%" stop-color="#870098"/><stop offset="22.39%" stop-color="#63009e"/><stop offset="22.70%" stop-color="#63009e"/><stop offset="22.70%" stop-color="#2d00a4"/><stop offset="23.01%" stop-color="#2d00a4"/><stop offset="23.01%" stop-color="#0000b1"/><stop offset="23.16%" stop-color="#0000b1"/><stop offset="24.39%" stop-color="#0000d9"/><stop offset="25.00%" stop-color="#002fdd"/><stop offset="25.15%" stop-color="#002fdd"/><stop offset="25.15%" stop-color="#005ddd"/><stop offset="25.46%" stop-color="#005ddd"/><stop offset="25.46%" stop-color="#0080dd"/><stop offset="25.61%" stop-color="#0080dd"/><stop offset="26.84%" stop-color="#008ddd"/><stop offset="30.21%" stop-color="#009bd7"/><stop offset="36.35%" stop-color="#00aaab"/><stop offset="41.56%" stop-color="#00aa93"/><stop offset="41.72%" stop-color="#00aa93"/><stop offset="41.72%" stop-color="#efed00"/><stop offset="42.33%" stop-color="#efed00"/><stop offset="42.33%" stop-color="#00a400"/><stop offset="42.48%" stop-color="#00a400"/><stop offset="49.54%" stop-color="#00b200"/><stop offset="53.53%" stop-color="#009a00"/><stop offset="54.45%" stop-color="#009d1d"/><stop offset="54.75%" stop-color="#009f33"/><stop offset="55.37%" stop-color="#00a248"/><stop offset="55.98%" stop-color="#00a773"/><stop offset="56.60%" stop-color="#00aa8b"/><stop offset="59.05%" stop-color="#00aaab"/><stop offset="61.50%" stop-color="#0098dd"/><stop offset="63.34%" stop-color="#0082dd"/><stop offset="63.65%" stop-color="#007add"/><stop offset="63.96%" stop-color="#0067dd"/><stop offset="64.11%" stop-color="#0067dd"/><stop offset="64.11%" stop-color="#0041dd"/><stop offset="64.42%" stop-color="#0041dd"/><stop offset="64.42%" stop-color="#001cdd"/><stop offset="64.57%" stop-color="#001cdd"/><stop offset="64.88%" stop-color="#0009dd"/><stop offset="66.10%" stop-color="#0000dd"/><stop offset="70.71%" stop-color="#0000c9"/><stop offset="71.93%" stop-color="#0000ad"/><stop offset="72.24%" stop-color="#0d00a8"/><stop offset="72.55%" stop-color="#2d00a4"/><stop offset="72.70%" stop-color="#2d00a4"/><stop offset="72.70%" stop-color="#58009f"/><stop offset="72.85%" stop-color="#58009f"/><stop offset="73.16%" stop-color="#78009b"/><stop offset="73.47%" stop-color="#870098"/><stop offset="73.77%" stop-color="#860097"/><stop offset="73.93%" stop-color="#860097"/><stop offset="73.93%" stop-color="#0078dd"/><stop offset="74.23%" stop-color="#0078dd"/><stop offset="74.23%" stop-color="#00a353"/><stop offset="74.54%" stop-color="#00a353"/><stop offset="74.54%" stop-color="#0098dd"/><stop offset="74.85%" stop-color="#0098dd"/><stop offset="74.85%" stop-color="#0000dd"/><stop offset="75.77%" stop-color="#0000dd"/><stop offset="75.77%" stop-color="#0098dd"/><stop offset="76.53%" stop-color="#0098dd"/><stop offset="76.84%" stop-color="#00a3bf"/><stop offset="77.76%" stop-color="#00a3bf"/><stop offset="78.07%" stop-color="#0098dd"/><stop offset="78.83%" stop-color="#0098dd"/><stop offset="78.83%" stop-color="#0000dd"/><stop offset="79.45%" stop-color="#0000dd"/><stop offset="79.45%" stop-color="#009cd3"/><stop offset="80.67%" stop-color="#009cd3"/><stop offset="80.67%" stop-color="#0000d1"/><stop offset="82.52%" stop-color="#0000d1"/><stop offset="82.52%" stop-color="#850096"/><stop offset="83.13%" stop-color="#850096"/><stop offset="83.13%" stop-color="#5d006b"/><stop offset="85.12%" stop-color="#5d006b"/><stop offset="85.43%" stop-color="#540060"/><stop offset="85.58%" stop-color="#540060"/><stop offset="85.58%" stop-color="#7d008e"/><stop offset="86.50%" stop-color="#7d008e"/><stop offset="86.50%" stop-color="#41004b"/><stop offset="90.34%" stop-color="#41004b"/><stop offset="90.64%" stop-color="#380040"/><stop offset="92.18%" stop-color="#380040"/><stop offset="92.48%" stop-color="#2f0035"/><stop offset="98.01%" stop-color="#09000b"/><stop offset="100.00%" stop-color="#09000b"/></linearGradient><linearGradient id="b18"><stop offset="0.00%" stop-color="#09000b"/><stop offset="20.09%" stop-color="#09000b"/><stop offset="20.40%" stop-color="#25002b"/><stop offset="20.55%" stop-color="#25002b"/><stop offset="20.55%" stop-color="#5d006b"/><stop offset="20.71%" stop-color="#5d006b"/><stop offset="21.01%" stop-color="#7a008b"/><stop offset="22.24%" stop-color="#870098"/><stop offset="22.39%" stop-color="#870098"/><stop offset="22.39%" stop-color="#63009e"/><stop offset="22.70%" stop-color="#63009e"/><stop offset="22.70%" stop-color="#2d00a4"/><stop offset="23.01%" stop-color="#2d00a4"/><stop offset="23.01%" stop-color="#0000b1"/><stop offset="23.16%" stop-color="#0000b1"/><stop offset="24.39%" stop-color="#0000d9"/><stop offset="25.00%" stop-color="#002fdd"/><stop offset="25.15%" stop-color="#002fdd"/><stop offset="25.15%" stop-color="#0067dd"/><stop offset="25.31%" stop-color="#0067dd"/><stop offset="25.61%" stop-color="#0082dd"/><stop offset="27.76%" stop-color="#0098dd"/><stop offset="39.42%" stop-color="#00aa9d"/><stop offset="41.56%" stop-color="#00aa93"/><stop offset="41.72%" stop-color="#00aa93"/><stop offset="41.72%" stop-color="#efed00"/><stop offset="42.33%" stop-color="#efed00"/><stop offset="42.33%" stop-color="#00a400"/><stop offset="42.48%" stop-color="#00a400"/><stop offset="49.54%" stop-color="#00b200"/><stop offset="53.53%" stop-color="#009a00"/><stop offset="54.45%" stop-color="#009d1d"/><stop offset="54.75%" stop-color="#009f33"/><stop offset="55.37%" stop-color="#00a248"/><stop offset="55.98%" stop-color="#00a773"/><stop offset="56.60%" stop-color="#00aa8b"/><stop offset="59.05%" stop-color="#00aaab"/><stop offset="61.50%" stop-color="#0098dd"/><stop offset="63.34%" stop-color="#0082dd"/><stop offset="63.65%" stop-color="#007add"/><stop offset="63.96%" stop-color="#0067dd"/><stop offset="64.11%" stop-color="#0067dd"/><stop offset="64.11%" stop-color="#0041dd"/><stop offset="64.42%" stop-color="#0041dd"/><stop offset="64.42%" stop-color="#001cdd"/><stop offset="64.57%" stop-color="#001cdd"/><stop offset="64.88%" stop-color="#0009dd"/><stop offset="66.10%" stop-color="#0000dd"/><stop offset="70.71%" stop-color="#0000c9"/><stop offset="71.93%" stop-color="#0000ad"/><stop offset="72.24%" stop-color="#0d00a8"/><stop offset="72.55%" stop-color="#2d00a4"/><stop offset="72.70%" stop-color="#2d00a4"/><stop offset="72.70%" stop-color="#58009f"/><stop offset="72.85%" stop-color="#58009f"/><stop offset="73.16%" stop-color="#78009b"/><stop offset="73.47%" stop-color="#870098"/><stop offset="73.77%" stop-color="#860097"/><stop offset="73.93%" stop-color="#860097"/><stop offset="73.93%" stop-color="#0078dd"/><stop offset="74.23%" stop-color="#0078dd"/><stop offset="74.23%" stop-color="#00a353"/><stop offset="74.54%" stop-color="#00a353"/><stop offset="74.54%" stop-color="#0098dd"/><stop offset="74.85%" stop-color="#0098dd"/><stop offset="74.85%" stop-color="#0000dd"/><stop offset="75.77%" stop-color="#0000dd"/><stop offset="75.77%" stop-color="#0098dd"/><stop offset="76.53%" stop-color="#0098dd"/><stop offset="76.84%" stop-color="#00a3bf"/><stop offset="77.76%" stop-color="#00a3bf"/><stop offset="78.07%" stop-color="#0098dd"/><stop offset="78.83%" stop-color="#0098dd"/><stop offset="78.83%" stop-color="#0000dd"/><stop offset="79.45%" stop-color="#0000dd"/><stop offset="79.45%" stop-color="#009cd3"/><stop offset="80.67%" stop-color="#009cd3"/><stop offset="80.67%" stop-color="#0000d1"/><stop offset="82.52%" stop-color="#0000d1"/><stop offset="82.52%" stop-color="#850096"/><stop offset="83.13%" stop-color="#850096"/><stop offset="83.13%" stop-color="#5d006b"/><stop offset="85.12%" stop-color="#5d006b"/><stop offset="85.43%" stop-color="#540060"/><stop offset="85.58%" stop-color="#540060"/><stop offset="85.58%" stop-color="#7d008e"/><stop offset="86.50%" stop-color="#7d008e"/><stop offset="86.50%" stop-color="#41004b"/><stop offset="90.34%" stop-color="#41004b"/><stop offset="90.64%" stop-color="#380040"/><stop offset="92.18%" stop-color="#380040"/><stop offset="92.48%" stop-color="#2f0035"/><stop offset="98.01%" stop-color="#09000b"/><stop offset="100.00%" stop-color="#09000b"/></linearGradient><linearGradient id="b19"><stop offset="0.00%" stop-color="#09000b"/><stop offset="21.32%" stop-color="#09000b"/><stop offset="22.24%" stop-color="#1c0020"/><stop offset="27.45%" stop-color="#1c0020"/><stop offset="27.76%" stop-color="#25002b"/><stop offset="42.18%" stop-color="#25002b"/><stop offset="42.79%" stop-color="#2f0035"/><stop offset="49.54%" stop-color="#25002b"/><stop offset="65.18%" stop-color="#25002b"/><stop offset="65.49%" stop-color="#1c0020"/><stop offset="83.59%" stop-color="#1c0020"/><stop offset="83.90%" stop-color="#130015"/><stop offset="100.00%" stop-color="#130015"/></linearGradient><linearGradient id="b20"><stop offset="0.00%" stop-color="#09000b"/><stop offset="100.00%" stop-color="#09000b"/></linearGradient><linearGradient id="b21"><stop offset="0.00%" stop-color="#09000b"/><stop offset="19.94%" stop-color="#09000b"/><stop offset="19.94%" stop-color="#700080"/><stop offset="20.09%" stop-color="#700080"/><stop offset="20.40%" stop-color="#810092"/><stop offset="20.55%" stop-color="#810092"/><stop offset="20.55%" stop-color="#58009f"/><stop offset="20.86%" stop-color="#58009f"/><stop offset="20.86%" stop-color="#0000b1"/><stop offset="21.01%" stop-color="#0000b1"/><stop offset="21.63%" stop-color="#0000dd"/><stop offset="21.78%" stop-color="#0000dd"/><stop offset="21.78%" stop-color="#0078dd"/><stop offset="22.09%" stop-color="#0078dd"/><stop offset="22.09%" stop-color="#009ecf"/><stop offset="22.39%" stop-color="#009ecf"/><stop offset="22.39%" stop-color="#00aa90"/><stop offset="22.70%" stop-color="#00aa90"/><stop offset="22.70%" stop-color="#00ac00"/><stop offset="22.85%" stop-color="#00ac00"/><stop offset="23.47%" stop-color="#00da00"/><stop offset="25.61%" stop-color="#00f200"/><stop offset="25.92%" stop-color="#00ff00"/><stop offset="26.07%" stop-color="#00ff00"/><stop offset="26.07%" stop-color="#49ff00"/><stop offset="26.23%" stop-color="#49ff00"/><stop offset="26.53%" stop-color="#67ff00"/><stop offset="26.84%" stop-color="#67ff00"/><stop offset="27.45%" stop-color="#84ff00"/><stop offset="28.37%" stop-color="#93ff00"/><stop offset="28.68%" stop-color="#a1ff00"/><stop offset="29.60%" stop-color="#a1ff00"/><stop offset="30.21%" stop-color="#84ff00"/><stop offset="30.52%" stop-color="#84ff00"/><stop offset="31.13%" stop-color="#67ff00"/><stop offset="32.06%" stop-color="#58ff00"/><stop offset="32.98%" stop-color="#58ff00"/><stop offset="33.28%" stop-color="#49ff00"/><stop offset="34.51%" stop-color="#49ff00"/><stop offset="34.82%" stop-color="#3bff00"/><stop offset="36.04%" stop-color="#3bff00"/><stop offset="36.35%" stop-color="#2cff00"/><stop offset="41.72%" stop-color="#2cff00"/><stop offset="41.72%" stop-color="#84ff00"/><stop offset="41.87%" stop-color="#84ff00"/><stop offset="42.18%" stop-color="#93ff00"/><stop offset="48.01%" stop-color="#93ff00"/><stop offset="49.54%" stop-color="#49ff00"/><stop offset="50.46%" stop-color="#00ff00"/><stop offset="55.37%" stop-color="#00e700"/><stop offset="57.82%" stop-color="#00a400"/><stop offset="60.28%" stop-color="#009a00"/><stop offset="60.58%" stop-color="#009b13"/><stop offset="60.89%" stop-color="#009f33"/><stop offset="61.04%" stop-color="#009f33"/><stop offset="61.04%" stop-color="#00a55d"/><stop offset="61.20%" stop-color="#00a55d"/><stop offset="61.50%" stop-color="#00a773"/><stop offset="63.34%" stop-color="#00aa8b"/><stop offset="67.02%" stop-color="#00aa9b"/><stop offset="67.94%" stop-color="#00a0c7"/><stop offset="68.25%" stop-color="#009adb"/><stop offset="71.63%" stop-color="#0085dd"/><stop offset="71.93%" stop-color="#007add"/><stop offset="72.09%" stop-color="#007add"/><stop offset="72.09%" stop-color="#0054dd"/><stop offset="72.39%" stop-color="#0054dd"/><stop offset="72.39%" stop-color="#0025dd"/><stop offset="72.55%" stop-color="#0025dd"/><stop offset="72.85%" stop-color="#0009dd"/><stop offset="73.47%" stop-color="#0000d9"/><stop offset="73.62%" stop-color="#0000d9"/><stop offset="73.62%" stop-color="#002fdd"/><stop offset="74.23%" stop-color="#002fdd"/><stop offset="74.23%" stop-color="#00aa9d"/><stop offset="74.85%" stop-color="#00aa9d"/><stop offset="74.85%" stop-color="#0000dd"/><stop offset="75.77%" stop-color="#0000dd"/><stop offset="75.77%" stop-color="#009cd3"/><stop offset="76.38%" stop-color="#009cd3"/><stop offset="76.38%" stop-color="#0000dd"/><stop offset="76.99%" stop-color="#0000dd"/><stop offset="76.99%" stop-color="#0092dd"/><stop offset="79.14%" stop-color="#0092dd"/><stop offset="79.14%" stop-color="#0000dd"/><stop offset="79.75%" stop-color="#0000dd"/><stop offset="79.75%" stop-color="#009cd3"/><stop offset="80.67%" stop-color="#009cd3"/><stop offset="80.67%" stop-color="#0000d1"/><stop offset="82.52%" stop-color="#0000d1"/><stop offset="82.52%" stop-color="#870098"/><stop offset="82.67%" stop-color="#870098"/><stop offset="93.71%" stop-color="#830094"/><stop offset="95.55%" stop-color="#770088"/><stop offset="96.47%" stop-color="#41004b"/><stop offset="97.70%" stop-color="#09000b"/><stop offset="100.00%" stop-color="#09000b"/></linearGradient><clipPath id="cl"><rect x="48.75" y="0" width="266.44" height="440"/></clipPath><clipPath id="cr"><rect x="328.75" y="0" width="266.44" height="440"/></clipPath></defs>
<rect width="640" height="440" fill="#fff"/>
<g shape-rendering="crispEdges"><rect x="49.5" y="28.00" width="265.69" height="17.00" fill="url(#a0)"/><rect x="49.5" y="44.70" width="265.69" height="17.00" fill="url(#a1)"/><rect x="49.5" y="61.41" width="265.69" height="17.00" fill="url(#a2)"/><rect x="49.5" y="78.11" width="265.69" height="17.00" fill="url(#a3)"/><rect x="49.5" y="94.82" width="265.69" height="17.00" fill="url(#a4)"/><rect x="49.5" y="111.52" width="265.69" height="17.00" fill="url(#a5)"/><rect x="49.5" y="128.23" width="265.69" height="17.00" fill="url(#a6)"/><rect x="49.5" y="144.94" width="265.69" height="17.00" fill="url(#a7)"/><rect x="49.5" y="161.64" width="265.69" height="17.00" fill="url(#a8)"/><rect x="49.5" y="178.34" width="265.69" height="17.00" fill="url(#a9)"/><rect x="49.5" y="195.05" width="265.69" height="17.00" fill="url(#a10)"/><rect x="49.5" y="211.75" width="265.69" height="17.00" fill="url(#a11)"/><rect x="49.5" y="228.46" width="265.69" height="17.00" fill="url(#a12)"/><rect x="49.5" y="245.16" width="265.69" height="17.00" fill="url(#a13)"/><rect x="49.5" y="261.87" width="265.69" height="17.00" fill="url(#a14)"/><rect x="49.5" y="278.57" width="265.69" height="17.00" fill="url(#a15)"/><rect x="49.5" y="295.28" width="265.69" height="17.00" fill="url(#a16)"/><rect x="49.5" y="311.98" width="265.69" height="17.00" fill="url(#a17)"/><rect x="49.5" y="328.69" width="265.69" height="17.00" fill="url(#a18)"/><rect x="49.5" y="345.39" width="265.69" height="17.00" fill="url(#a19)"/><rect x="49.5" y="362.10" width="265.69" height="17.00" fill="url(#a20)"/><rect x="49.5" y="378.80" width="265.69" height="17.00" fill="url(#a21)"/><rect x="48.75" y="28.0" width="1.6" height="367.51" fill="#7c008d"/></g><g shape-rendering="crispEdges"><rect x="329.5" y="28.00" width="265.69" height="17.00" fill="url(#b0)"/><rect x="329.5" y="44.70" width="265.69" height="17.00" fill="url(#b1)"/><rect x="329.5" y="61.41" width="265.69" height="17.00" fill="url(#b2)"/><rect x="329.5" y="78.11" width="265.69" height="17.00" fill="url(#b3)"/><rect x="329.5" y="94.82" width="265.69" height="17.00" fill="url(#b4)"/><rect x="329.5" y="111.52" width="265.69" height="17.00" fill="url(#b5)"/><rect x="329.5" y="128.23" width="265.69" height="17.00" fill="url(#b6)"/><rect x="329.5" y="144.94" width="265.69" height="17.00" fill="url(#b7)"/><rect x="329.5" y="161.64" width="265.69" height="17.00" fill="url(#b8)"/><rect x="329.5" y="178.34" width="265.69" height="17.00" fill="url(#b9)"/><rect x="329.5" y="195.05" width="265.69" height="17.00" fill="url(#b10)"/><rect x="329.5" y="211.75" width="265.69" height="17.00" fill="url(#b11)"/><rect x="329.5" y="228.46" width="265.69" height="17.00" fill="url(#b12)"/><rect x="329.5" y="245.16" width="265.69" height="17.00" fill="url(#b13)"/><rect x="329.5" y="261.87" width="265.69" height="17.00" fill="url(#b14)"/><rect x="329.5" y="278.57" width="265.69" height="17.00" fill="url(#b15)"/><rect x="329.5" y="295.28" width="265.69" height="17.00" fill="url(#b16)"/><rect x="329.5" y="311.98" width="265.69" height="17.00" fill="url(#b17)"/><rect x="329.5" y="328.69" width="265.69" height="17.00" fill="url(#b18)"/><rect x="329.5" y="345.39" width="265.69" height="17.00" fill="url(#b19)"/><rect x="329.5" y="362.10" width="265.69" height="17.00" fill="url(#b20)"/><rect x="329.5" y="378.80" width="265.69" height="17.00" fill="url(#b21)"/><rect x="328.75" y="28.0" width="1.6" height="367.51" fill="#7c008d"/></g><g clip-path="url(#cl)"><g fill="none" stroke="#fff" stroke-width="2" stroke-linejoin="round"><polyline points="49.2,20.0 49.9,284.4 102.5,284.4 104.0,283.7 105.2,280.3 106.5,273.7 107.8,264.8 109.0,255.7 110.2,246.8 111.5,238.2 112.8,230.0 114.0,223.1 115.2,216.9 116.5,212.6 117.8,208.6 119.0,205.7 120.2,202.4 121.5,199.3 122.8,197.1 124.0,195.5 125.2,194.5 126.5,194.5 127.8,194.2 129.0,193.5 130.2,192.9 131.5,192.6 132.8,192.5 134.0,192.4 135.2,191.9 136.5,190.9 137.8,189.8 139.0,188.9 140.2,188.4 141.5,188.3 142.8,188.1 144.0,186.9 145.2,185.6 146.5,184.3 147.8,183.4 149.0,182.9 150.2,182.3 151.5,181.3 152.8,179.8 154.0,177.9 155.2,176.2 156.5,174.9 157.8,173.8 159.0,172.7 160.2,171.3 161.5,169.5 162.8,167.5 164.0,166.0 165.2,165.0 166.5,164.3 167.8,163.3 169.0,161.9 170.2,160.3 171.5,159.2 172.8,158.5 174.0,157.9 175.2,157.6 176.5,156.9 177.8,156.1 179.0,156.4 180.2,157.1 181.5,157.8 182.8,158.1 184.0,158.3 185.2,158.4 186.5,159.4 187.8,160.5 189.0,162.5 190.2,164.8 191.5,167.1 192.8,168.9 194.0,170.2 195.2,171.5 196.5,173.6 197.8,176.2 199.0,179.0 200.2,181.8 201.5,184.2 202.8,186.5 204.0,189.0 205.2,191.9 206.5,195.2 207.8,198.4 209.0,201.2 210.2,203.5 211.5,205.8 212.8,208.3 214.0,211.2 215.2,214.0 216.5,216.3 217.8,218.1 219.0,219.8 220.2,221.5 221.5,223.6 222.8,226.1 224.0,228.7 225.2,231.0 226.5,232.5 227.8,233.8 229.0,235.3 230.2,237.1 231.5,239.1 232.8,240.8 234.0,242.0 235.2,243.0 236.5,244.1 237.8,245.6 239.0,247.4 240.2,249.4 241.5,251.2 242.8,252.7 244.0,254.2 245.2,255.9 246.3,258.0 247.3,172.0 248.6,179.0 249.8,250.0 250.7,245.0 252.0,207.8 253.4,240.0 254.5,225.0 256.2,190.7 257.5,188.5 259.5,228.0 260.8,232.0 262.2,201.5 263.6,240.0 264.5,262.0 266.0,271.1 268.0,276.1 276.3,277.4 277.2,240.0 277.7,231.0 278.2,240.0 279.2,277.9 282.5,278.4 283.2,270.4 283.9,278.6 300.0,280.6 312.0,282.1 315.5,283.4"/><polyline points="49.2,20.0 49.9,284.4 102.5,284.4 104.0,283.8 105.2,280.5 106.5,273.9 107.8,265.0 109.0,255.8 110.2,247.1 111.5,239.1 112.8,231.3 114.0,224.5 115.2,217.9 116.5,213.1 117.8,209.0 119.0,206.5 120.2,203.7 121.5,200.8 122.8,198.3 124.0,196.2 125.2,194.8 126.5,194.9 127.8,195.1 129.0,194.8 130.2,194.2 131.5,193.5 132.8,193.0 134.0,192.8 135.2,192.7 136.5,192.2 137.8,191.3 139.0,190.2 140.2,189.2 141.5,188.7 142.8,188.5 144.0,187.8 145.2,186.9 146.5,185.6 147.8,184.3 149.0,183.3 150.2,182.6 151.5,181.9 152.8,180.9 154.0,179.4 155.2,177.5 156.5,175.7 157.8,174.3 159.0,173.3 160.2,172.2 161.5,170.9 162.8,168.9 164.0,167.1 165.2,165.6 166.5,164.6 167.8,163.9 169.0,163.0 170.2,161.7 171.5,160.6 172.8,159.4 174.0,158.5 175.2,158.3 176.5,158.0 177.8,157.7 179.0,158.0 180.2,158.4 181.5,158.6 182.8,158.6 184.0,158.9 185.2,159.5 186.5,160.7 187.8,161.8 189.0,163.2 190.2,165.1 191.5,167.4 192.8,169.6 194.0,171.4 195.2,172.9 196.5,174.7 197.8,176.8 199.0,179.3 200.2,182.2 201.5,185.1 202.8,187.6 204.0,189.9 205.2,192.4 206.5,195.2 207.8,198.4 209.0,201.6 210.2,204.4 211.5,206.9 212.8,209.2 214.0,211.5 215.2,214.1 216.5,216.6 217.8,218.9 219.0,220.9 220.2,222.5 221.5,224.1 222.8,226.2 224.0,228.7 225.2,231.3 226.5,233.3 227.8,234.8 229.0,236.0 230.2,237.4 231.5,239.1 232.8,241.0 234.0,242.7 235.2,244.0 236.5,245.0 237.8,246.1 239.0,247.6 240.2,249.4 241.5,251.4 242.8,253.2 244.0,254.8 245.2,256.4 246.3,258.0 247.3,176.2 248.6,182.9 249.8,250.0 250.7,245.0 252.0,208.5 253.4,240.0 254.5,225.0 256.2,197.0 257.5,187.2 259.5,228.0 260.8,232.0 262.2,204.7 263.6,240.0 264.5,262.0 266.0,271.3 268.0,276.3 276.3,277.6 277.2,240.0 277.7,231.0 278.2,240.0 279.2,278.1 282.5,278.6 283.2,270.6 283.9,278.8 300.0,280.8 312.0,282.3 315.5,283.6"/><polyline points="49.2,20.0 49.9,284.4 102.5,284.4 104.0,283.8 105.2,280.5 106.5,274.1 107.8,265.4 109.0,256.4 110.2,247.8 111.5,240.0 112.8,232.2 114.0,225.3 115.2,218.7 116.5,213.9 117.8,209.9 119.0,207.4 120.2,204.5 121.5,201.6 122.8,199.2 124.0,197.1 125.2,195.8 126.5,196.0 127.8,196.1 129.0,195.8 130.2,195.1 131.5,194.4 132.8,193.9 134.0,193.8 135.2,193.6 136.5,193.0 137.8,192.1 139.0,191.0 140.2,190.1 141.5,189.6 142.8,189.5 144.0,188.8 145.2,187.8 146.5,186.5 147.8,185.3 149.0,184.3 150.2,183.6 151.5,182.9 152.8,181.8 154.0,180.2 155.2,178.3 156.5,176.6 157.8,175.2 159.0,174.2 160.2,173.1 161.5,171.7 162.8,169.8 164.0,168.0 165.2,166.6 166.5,165.7 167.8,165.0 169.0,164.1 170.2,162.7 171.5,161.6 172.8,160.4 174.0,159.5 175.2,159.4 176.5,159.1 177.8,158.7 179.0,159.0 180.2,159.3 181.5,159.6 182.8,159.7 184.0,160.0 185.2,160.5 186.5,161.7 187.8,162.7 189.0,164.2 190.2,166.0 191.5,168.3 192.8,170.5 194.0,172.1 195.2,173.5 196.5,175.3 197.8,177.4 199.0,180.0 200.2,182.9 201.5,185.7 202.8,188.3 204.0,190.6 205.2,193.1 206.5,195.9 207.8,199.1 209.0,202.2 210.2,205.0 211.5,207.4 212.8,209.6 214.0,212.0 215.2,214.7 216.5,217.1 217.8,219.4 219.0,221.3 220.2,223.0 221.5,224.6 222.8,226.8 224.0,229.4 225.2,232.0 226.5,233.9 227.8,235.3 229.0,236.5 230.2,237.9 231.5,239.6 232.8,241.5 234.0,243.1 235.2,244.3 236.5,245.3 237.8,246.4 239.0,247.9 240.2,249.8 241.5,251.8 242.8,253.6 244.0,255.2 245.2,256.7 246.3,258.0 247.3,173.4 248.6,178.0 249.8,250.0 250.7,245.0 252.0,215.6 253.4,240.0 254.5,225.0 256.2,197.7 257.5,189.5 259.5,228.0 260.8,232.0 262.2,204.9 263.6,240.0 264.5,262.0 266.0,271.5 268.0,276.5 276.3,277.8 277.2,240.0 277.7,231.0 278.2,240.0 279.2,278.3 282.5,278.8 283.2,270.8 283.9,279.0 300.0,281.0 312.0,282.5 315.5,283.8"/><polyline points="49.2,20.0 49.9,284.4 102.5,284.4 104.0,283.8 105.2,280.6 106.5,274.4 107.8,266.1 109.0,257.3 110.2,248.1 111.5,239.1 112.8,230.7 114.0,224.2 115.2,218.5 116.5,214.5 117.8,210.6 119.0,207.8 120.2,205.0 121.5,202.6 122.8,201.2 124.0,199.9 125.2,198.5 126.5,197.7 127.8,196.5 129.0,195.4 130.2,194.7 131.5,194.4 132.8,194.1 134.0,193.7 135.2,192.9 136.5,192.1 137.8,191.8 139.0,191.9 140.2,192.2 141.5,192.3 142.8,191.8 144.0,190.3 145.2,188.7 146.5,187.4 147.8,186.5 149.0,185.5 150.2,184.0 151.5,182.2 152.8,180.3 154.0,178.8 155.2,177.9 156.5,177.3 157.8,176.7 159.0,175.7 160.2,174.3 161.5,172.8 162.8,171.4 164.0,170.2 165.2,169.0 166.5,167.5 167.8,165.6 169.0,163.4 170.2,161.6 171.5,160.8 172.8,160.4 174.0,160.0 175.2,159.7 176.5,159.1 177.8,158.8 179.0,160.0 180.2,161.5 181.5,162.5 182.8,162.5 184.0,161.9 185.2,161.3 186.5,161.8 187.8,162.9 189.0,164.6 190.2,166.3 191.5,168.0 192.8,169.3 194.0,170.8 195.2,172.8 196.5,176.0 197.8,179.2 199.0,182.2 200.2,184.8 201.5,187.0 202.8,189.2 204.0,191.8 205.2,194.6 206.5,197.2 207.8,199.5 209.0,201.3 210.2,203.3 211.5,205.8 212.8,208.9 214.0,212.3 215.2,215.4 216.5,217.7 217.8,219.8 219.0,222.0 220.2,224.4 221.5,226.9 222.8,229.3 224.0,231.1 225.2,232.4 226.5,233.2 227.8,234.3 229.0,235.9 230.2,237.7 231.5,239.5 232.8,240.9 234.0,242.2 235.2,243.7 236.5,245.6 237.8,247.8 239.0,249.8 240.2,251.5 241.5,252.8 242.8,254.0 244.0,255.4 245.2,257.0 246.3,258.0 247.3,172.9 248.6,176.4 249.8,250.0 250.7,245.0 252.0,208.0 253.4,240.0 254.5,225.0 256.2,197.0 257.5,187.8 259.5,228.0 260.8,232.0 262.2,202.2 263.6,240.0 264.5,262.0 266.0,271.6 268.0,276.6 276.3,277.9 277.2,240.0 277.7,231.0 278.2,240.0 279.2,278.4 282.5,278.9 283.2,270.9 283.9,279.1 300.0,281.1 312.0,282.6 315.5,283.9"/><polyline points="49.2,20.0 50.0,284.4 102.5,284.4 104.0,283.8 105.2,280.7 106.5,274.6 107.8,266.0 109.0,257.1 110.2,248.3 111.5,240.2 112.8,232.4 114.0,225.5 115.2,219.1 116.5,214.8 117.8,211.2 119.0,209.3 120.2,207.0 121.5,204.4 122.8,202.2 124.0,200.0 125.2,198.4 126.5,198.0 127.8,197.6 129.0,196.9 130.2,195.8 131.5,194.7 132.8,194.1 134.0,194.0 135.2,194.1 136.5,194.1 137.8,193.8 139.0,193.2 140.2,192.7 141.5,192.5 142.8,192.4 144.0,191.5 145.2,190.3 146.5,188.5 147.8,186.7 149.0,185.2 150.2,184.0 151.5,183.1 152.8,182.0 154.0,180.7 155.2,179.2 156.5,177.9 157.8,177.1 159.0,176.5 160.2,175.9 161.5,174.7 162.8,172.8 164.0,170.7 165.2,168.8 166.5,167.4 167.8,166.2 169.0,164.9 170.2,163.3 171.5,162.0 172.8,160.9 174.0,160.3 175.2,160.6 176.5,160.9 177.8,161.1 179.0,161.9 180.2,162.5 181.5,162.8 182.8,162.6 184.0,162.6 185.2,162.6 186.5,163.3 187.8,163.7 189.0,164.7 190.2,166.1 191.5,168.3 192.8,170.6 194.0,172.7 195.2,174.6 196.5,177.0 197.8,179.5 199.0,182.4 200.2,185.5 201.5,188.3 202.8,190.6 204.0,192.5 205.2,194.4 206.5,196.6 207.8,199.2 209.0,202.0 210.2,204.6 211.5,207.2 212.8,209.6 214.0,212.4 215.2,215.5 216.5,218.4 217.8,221.3 219.0,223.6 220.2,225.4 221.5,226.9 222.8,228.7 224.0,230.8 225.2,232.8 226.5,234.3 227.8,235.3 229.0,236.2 230.2,237.5 231.5,239.3 232.8,241.4 234.0,243.5 235.2,245.3 236.5,246.7 237.8,248.1 239.0,249.6 240.2,251.4 241.5,253.2 242.8,254.7 244.0,256.0 245.2,257.1 246.3,258.0 247.3,178.9 248.6,179.2 249.8,250.0 250.7,245.0 252.0,214.2 253.4,240.0 254.5,225.0 256.2,196.7 257.5,187.1 259.5,228.0 260.8,232.0 262.2,205.5 263.6,240.0 264.5,262.0 266.0,271.8 268.0,276.8 276.3,278.1 277.2,240.0 277.7,231.0 278.2,240.0 279.2,278.6 282.5,279.1 283.2,271.1 283.9,279.3 300.0,281.3 312.0,282.8 315.5,284.1"/><polyline points="49.2,20.0 50.0,284.4 102.5,284.4 104.0,283.8 105.2,280.7 106.5,274.6 107.8,266.4 109.0,257.7 110.2,249.0 111.5,240.6 112.8,232.4 114.0,225.7 115.2,219.9 116.5,216.1 117.8,212.6 119.0,210.2 120.2,207.4 121.5,204.5 122.8,202.5 124.0,200.9 125.2,199.5 126.5,199.0 127.8,198.1 129.0,196.9 130.2,195.9 131.5,195.3 132.8,195.3 134.0,195.3 135.2,195.1 136.5,194.6 137.8,194.0 139.0,193.7 140.2,193.7 141.5,193.8 142.8,193.5 144.0,192.1 145.2,190.3 146.5,188.5 147.8,187.2 149.0,186.2 150.2,185.2 151.5,184.0 152.8,182.4 154.0,180.9 155.2,179.6 156.5,178.9 157.8,178.5 159.0,177.8 160.2,176.6 161.5,174.9 162.8,172.9 164.0,171.2 165.2,169.8 166.5,168.6 167.8,167.1 169.0,165.2 170.2,163.4 171.5,162.4 172.8,161.9 174.0,161.8 175.2,162.0 176.5,161.9 177.8,161.6 179.0,162.2 180.2,163.2 181.5,163.9 182.8,163.9 184.0,163.5 185.2,162.9 186.5,163.2 187.8,163.8 189.0,165.4 190.2,167.3 191.5,169.5 192.8,171.4 194.0,173.0 195.2,174.8 196.5,177.5 197.8,180.5 199.0,183.6 200.2,186.3 201.5,188.5 202.8,190.4 204.0,192.4 205.2,194.7 206.5,197.4 207.8,200.1 209.0,202.5 210.2,204.6 211.5,207.1 212.8,209.9 214.0,213.2 215.2,216.6 216.5,219.3 217.8,221.6 219.0,223.4 220.2,225.3 221.5,227.3 222.8,229.5 224.0,231.6 225.2,233.2 226.5,234.1 227.8,235.0 229.0,236.3 230.2,238.2 231.5,240.3 232.8,242.3 234.0,243.8 235.2,245.2 236.5,246.7 237.8,248.4 239.0,250.3 240.2,252.1 241.5,253.5 242.8,254.6 244.0,255.7 245.2,257.0 246.3,258.0 247.3,174.8 248.6,183.9 249.8,250.0 250.7,245.0 252.0,207.2 253.4,240.0 254.5,225.0 256.2,193.6 257.5,194.3 259.5,228.0 260.8,232.0 262.2,200.9 263.6,240.0 264.5,262.0 266.0,271.9 268.0,276.9 276.3,278.2 277.2,240.0 277.7,231.0 278.2,240.0 279.2,278.7 282.5,279.2 283.2,271.2 283.9,279.4 300.0,281.4 312.0,282.9 315.5,284.2"/><polyline points="49.2,20.0 50.0,284.4 102.5,284.4 104.0,283.8 105.2,280.7 106.5,274.8 107.8,266.7 109.0,258.0 110.2,249.3 111.5,241.4 112.8,234.2 114.0,228.4 115.2,222.7 116.5,218.0 117.8,213.4 119.0,210.2 120.2,207.4 121.5,205.0 122.8,203.3 124.0,201.3 125.2,199.3 126.5,198.3 127.8,197.8 129.0,197.7 130.2,198.0 131.5,198.0 132.8,197.6 134.0,196.8 135.2,196.1 136.5,195.6 137.8,195.5 139.0,195.3 140.2,194.7 141.5,193.7 142.8,192.5 144.0,191.0 145.2,190.1 146.5,189.5 147.8,188.8 149.0,187.8 150.2,186.3 151.5,184.9 152.8,183.9 154.0,183.1 155.2,182.3 156.5,181.1 157.8,179.4 159.0,177.5 160.2,175.9 161.5,174.5 162.8,173.3 164.0,172.0 165.2,170.4 166.5,168.7 167.8,167.1 169.0,166.0 170.2,165.4 171.5,165.3 172.8,164.9 174.0,163.9 175.2,163.1 176.5,162.4 177.8,162.3 179.0,163.3 180.2,164.3 181.5,164.4 182.8,163.4 184.0,162.6 185.2,162.5 186.5,164.0 187.8,165.8 189.0,167.7 190.2,169.3 191.5,170.8 192.8,172.4 194.0,174.4 195.2,176.6 196.5,179.3 197.8,181.6 199.0,183.4 200.2,185.2 201.5,187.3 202.8,190.0 204.0,192.9 205.2,195.7 206.5,198.1 207.8,200.4 209.0,202.9 210.2,205.8 211.5,209.2 212.8,212.5 214.0,215.2 215.2,217.4 216.5,219.0 217.8,220.9 219.0,223.2 220.2,225.6 221.5,227.6 222.8,229.3 224.0,230.8 225.2,232.5 226.5,234.3 227.8,236.5 229.0,238.7 230.2,240.5 231.5,241.7 232.8,242.9 234.0,244.2 235.2,245.8 236.5,247.5 237.8,249.0 239.0,250.2 240.2,251.2 241.5,252.4 242.8,254.0 244.0,255.9 245.2,257.8 246.3,258.0 247.3,172.2 248.6,182.8 249.8,250.0 250.7,245.0 252.0,208.5 253.4,240.0 254.5,225.0 256.2,192.1 257.5,190.9 259.5,228.0 260.8,232.0 262.2,198.5 263.6,240.0 264.5,262.0 266.0,272.1 268.0,277.1 276.3,278.4 277.2,240.0 277.7,231.0 278.2,240.0 279.2,278.9 282.5,279.4 283.2,271.4 283.9,279.6 300.0,281.6 312.0,283.1 315.5,284.4"/><polyline points="49.2,20.0 50.0,284.4 102.5,284.4 104.0,283.8 105.2,280.8 106.5,275.1 107.8,267.5 109.0,259.1 110.2,250.6 111.5,242.8 112.8,235.4 114.0,229.1 115.2,222.9 116.5,217.9 117.8,213.1 119.0,210.0 120.2,207.4 121.5,205.4 122.8,204.1 124.0,202.5 125.2,200.8 126.5,200.2 127.8,199.8 129.0,199.7 130.2,199.7 131.5,199.4 132.8,198.5 134.0,197.3 135.2,196.2 136.5,195.5 137.8,195.3 139.0,195.2 140.2,194.8 141.5,194.2 142.8,193.4 144.0,192.4 145.2,191.9 146.5,191.5 147.8,190.8 149.0,189.6 150.2,187.8 151.5,186.1 152.8,184.6 154.0,183.5 155.2,182.3 156.5,181.0 157.8,179.2 159.0,177.5 160.2,176.2 161.5,175.3 162.8,174.5 164.0,173.5 165.2,172.2 166.5,170.7 167.8,169.1 169.0,167.8 170.2,166.9 171.5,166.5 172.8,165.5 174.0,164.2 175.2,163.1 176.5,162.4 177.8,162.4 179.0,163.7 180.2,164.9 181.5,165.4 182.8,164.8 184.0,164.4 185.2,164.5 186.5,166.1 187.8,167.7 189.0,169.3 190.2,170.4 191.5,171.5 192.8,172.7 194.0,174.4 195.2,176.4 196.5,179.0 197.8,181.3 199.0,183.4 200.2,185.6 201.5,188.2 202.8,191.3 204.0,194.5 205.2,197.3 206.5,199.7 207.8,201.8 209.0,204.0 210.2,206.6 211.5,209.6 212.8,212.4 214.0,214.8 215.2,216.8 216.5,218.5 217.8,220.6 219.0,223.3 220.2,226.1 221.5,228.5 222.8,230.5 224.0,232.3 225.2,234.1 226.5,235.9 227.8,237.9 229.0,239.7 230.2,241.0 231.5,241.8 232.8,242.6 234.0,243.7 235.2,245.4 236.5,247.2 237.8,248.9 239.0,250.3 240.2,251.6 241.5,253.2 242.8,255.0 244.0,256.9 245.2,258.8 246.3,258.0 247.3,177.9 248.6,183.0 249.8,250.0 250.7,245.0 252.0,207.2 253.4,240.0 254.5,225.0 256.2,193.3 257.5,192.6 259.5,228.0 260.8,232.0 262.2,202.1 263.6,240.0 264.5,262.0 266.0,272.3 268.0,277.3 276.3,278.6 277.2,240.0 277.7,231.0 278.2,240.0 279.2,279.1 282.5,279.6 283.2,271.6 283.9,279.8 300.0,281.8 312.0,283.3 315.5,284.6"/><polyline points="49.2,20.0 50.1,284.4 102.5,284.4 104.0,283.8 105.2,280.9 106.5,275.1 107.8,267.1 109.0,258.7 110.2,250.6 111.5,243.2 112.8,235.7 114.0,229.0 115.2,222.7 116.5,218.5 117.8,214.9 119.0,212.9 120.2,210.6 121.5,207.8 122.8,205.4 124.0,203.1 125.2,201.4 126.5,201.0 127.8,200.7 129.0,200.0 130.2,199.0 131.5,198.1 132.8,197.6 134.0,197.7 135.2,197.9 136.5,197.9 137.8,197.5 139.0,196.9 140.2,196.2 141.5,195.8 142.8,195.6 144.0,194.6 145.2,193.3 146.5,191.5 147.8,189.8 149.0,188.3 150.2,187.3 151.5,186.5 152.8,185.7 154.0,184.4 155.2,183.0 156.5,181.7 157.8,180.8 159.0,180.1 160.2,179.3 161.5,178.0 162.8,176.0 164.0,173.8 165.2,171.9 166.5,170.6 167.8,169.5 169.0,168.3 170.2,167.0 171.5,165.9 172.8,165.0 174.0,164.6 175.2,165.0 176.5,165.3 177.8,165.5 179.0,166.1 180.2,166.5 181.5,166.5 182.8,166.1 184.0,165.9 185.2,165.8 186.5,166.4 187.8,166.8 189.0,167.9 190.2,169.4 191.5,171.6 192.8,174.0 194.0,176.1 195.2,178.0 196.5,180.2 197.8,182.6 199.0,185.2 200.2,188.0 201.5,190.6 202.8,192.7 204.0,194.4 205.2,196.2 206.5,198.4 207.8,201.2 209.0,204.1 210.2,206.9 211.5,209.6 212.8,212.1 214.0,214.9 215.2,217.9 216.5,220.8 217.8,223.5 219.0,225.7 220.2,227.3 221.5,228.7 222.8,230.4 224.0,232.4 225.2,234.5 226.5,236.0 227.8,237.2 229.0,238.3 230.2,239.6 231.5,241.5 232.8,243.6 234.0,245.6 235.2,247.2 236.5,248.5 237.8,249.7 239.0,251.1 240.2,252.7 241.5,254.3 242.8,255.7 244.0,256.9 245.2,258.0 246.3,258.0 247.3,178.6 248.6,181.1 249.8,250.0 250.7,245.0 252.0,217.3 253.4,240.0 254.5,225.0 256.2,194.7 257.5,194.2 259.5,228.0 260.8,232.0 262.2,199.4 263.6,240.0 264.5,262.0 266.0,272.4 268.0,277.4 276.3,278.8 277.2,240.0 277.7,231.0 278.2,240.0 279.2,279.2 282.5,279.8 283.2,271.8 283.9,279.9 300.0,281.9 312.0,283.4 315.5,284.8"/><polyline points="49.2,20.0 50.1,284.4 102.5,284.4 104.0,283.8 105.2,280.9 106.5,275.2 107.8,267.6 109.0,259.7 110.2,251.7 111.5,244.1 112.8,236.3 114.0,229.9 115.2,224.4 116.5,220.6 117.8,216.9 119.0,214.2 120.2,211.1 121.5,208.0 122.8,206.0 124.0,204.3 125.2,202.9 126.5,202.2 127.8,201.3 129.0,200.3 130.2,199.7 131.5,199.6 132.8,199.8 134.0,199.8 135.2,199.5 136.5,198.8 137.8,198.1 139.0,197.7 140.2,197.6 141.5,197.5 142.8,196.8 144.0,195.1 145.2,193.3 146.5,191.8 147.8,190.8 149.0,190.1 150.2,189.2 151.5,188.1 152.8,186.6 154.0,185.2 155.2,184.1 156.5,183.5 157.8,182.8 159.0,181.7 160.2,180.1 161.5,178.2 162.8,176.2 164.0,174.6 165.2,173.3 166.5,172.2 167.8,170.8 169.0,169.1 170.2,167.7 171.5,167.1 172.8,167.0 174.0,167.0 175.2,167.2 176.5,166.8 177.8,166.3 179.0,166.7 180.2,167.5 181.5,168.0 182.8,167.7 184.0,167.0 185.2,166.3 186.5,166.6 187.8,167.5 189.0,169.3 190.2,171.5 191.5,173.6 192.8,175.4 194.0,176.8 195.2,178.6 196.5,181.2 197.8,184.1 199.0,186.8 200.2,189.0 201.5,190.7 202.8,192.4 204.0,194.4 205.2,196.9 206.5,199.7 207.8,202.5 209.0,204.9 210.2,207.3 211.5,209.9 212.8,213.0 214.0,216.4 215.2,219.6 216.5,221.9 217.8,223.8 219.0,225.4 220.2,227.2 221.5,229.2 222.8,231.4 224.0,233.4 225.2,235.0 226.5,236.0 227.8,237.2 229.0,239.0 230.2,241.1 231.5,243.2 232.8,244.9 234.0,246.2 235.2,247.3 236.5,248.6 237.8,250.2 239.0,251.9 240.2,253.3 241.5,254.5 242.8,255.5 244.0,256.7 245.2,258.1 246.3,258.0 247.3,176.0 248.6,177.7 249.8,250.0 250.7,245.0 252.0,217.1 253.4,240.0 254.5,225.0 256.2,192.8 257.5,193.0 259.5,228.0 260.8,232.0 262.2,205.3 263.6,240.0 264.5,262.0 266.0,272.7 268.0,277.7 276.3,279.0 277.2,240.0 277.7,231.0 278.2,240.0 279.2,279.5 282.5,280.0 283.2,272.0 283.9,280.2 300.0,282.2 312.0,283.7 315.5,285.0"/><polyline points="49.2,20.0 50.1,284.4 102.5,284.4 104.0,283.9 105.2,281.1 106.5,275.7 107.8,268.2 109.0,260.4 110.2,252.8 111.5,245.5 112.8,237.6 114.0,230.6 115.2,224.3 116.5,220.1 117.8,216.7 119.0,214.7 120.2,212.3 121.5,209.6 122.8,207.5 124.0,205.7 125.2,204.4 126.5,204.2 127.8,203.6 129.0,202.6 130.2,201.4 131.5,200.4 132.8,199.9 134.0,199.8 135.2,199.7 136.5,199.4 137.8,198.9 139.0,198.3 140.2,198.1 141.5,198.2 142.8,198.3 144.0,197.4 145.2,195.9 146.5,194.2 147.8,192.5 149.0,191.2 150.2,190.1 151.5,189.0 152.8,187.6 154.0,186.0 155.2,184.4 156.5,183.3 157.8,182.6 159.0,182.2 160.2,181.5 161.5,180.2 162.8,178.3 164.0,176.5 165.2,175.0 166.5,173.9 167.8,172.7 169.0,171.2 170.2,169.4 171.5,168.1 172.8,167.2 174.0,166.9 175.2,167.2 176.5,167.4 177.8,167.5 179.0,168.2 180.2,168.8 181.5,169.3 182.8,169.3 184.0,169.2 185.2,168.9 186.5,169.2 187.8,169.4 189.0,170.3 190.2,171.8 191.5,173.8 192.8,175.7 194.0,177.4 195.2,179.0 196.5,181.3 197.8,184.0 199.0,187.1 200.2,190.0 201.5,192.6 202.8,194.6 204.0,196.4 205.2,198.3 206.5,200.7 207.8,203.3 209.0,205.9 210.2,208.1 211.5,210.4 212.8,212.8 214.0,215.6 215.2,218.9 216.5,221.8 217.8,224.5 219.0,226.7 220.2,228.5 221.5,230.3 222.8,232.4 224.0,234.7 225.2,236.7 226.5,237.8 227.8,238.6 229.0,239.5 230.2,240.8 231.5,242.6 232.8,244.5 234.0,246.2 235.2,247.6 236.5,248.9 237.8,250.4 239.0,252.1 240.2,254.0 241.5,255.6 242.8,256.9 244.0,258.0 245.2,259.0 246.3,258.0 247.3,179.5 248.6,179.5 249.8,250.0 250.7,245.0 252.0,209.2 253.4,240.0 254.5,225.0 256.2,197.2 257.5,190.4 259.5,228.0 260.8,232.0 262.2,207.6 263.6,240.0 264.5,262.0 266.0,272.9 268.0,277.9 276.3,279.2 277.2,240.0 277.7,231.0 278.2,240.0 279.2,279.7 282.5,280.2 283.2,272.2 283.9,280.4 300.0,282.4 312.0,283.9 315.5,285.2"/><polyline points="111.0,240.0 112.5,225.0 115.0,208.0 117.5,196.9 120.0,191.9 123.8,190.0 126.2,186.2 128.8,181.9 130.6,185.6 136.2,184.4 142.5,182.5 146.2,180.0 148.8,175.0 152.0,172.0"/></g><g fill="#fff"><polygon points="146.5,190 147.2,140 146.9,28 151.3,28 151.5,33 152.1,40 153.4,140 154.0,186"/><polygon points="156.6,180 157.9,130 158.1,75 159.2,59 160.4,58.6 161.6,66 162.7,110 163.2,178"/><polygon points="165.6,172 166.3,107 168.7,107 169.4,168"/><polygon points="245.6,259 246.3,190 246.8,172 249.3,172 249.8,195 250.2,222 250.7,222 251.2,206 253.0,206 253.6,215 254.2,215 255.0,195 256.0,186.7 258.5,186.7 259.7,200 260.2,218 260.8,218 261.3,198.4 263.0,198.4 263.6,215 264.4,240 265.5,265 266.5,274 264.0,274"/></g></g><g clip-path="url(#cr)"><g fill="none" stroke="#fff" stroke-width="2" stroke-linejoin="round"><polyline points="329.2,20.0 329.9,284.4 382.5,284.4 384.0,283.6 385.2,279.7 386.5,271.9 387.8,261.6 389.0,249.6 390.2,236.9 391.5,227.9 392.8,223.6 394.0,219.0 395.2,214.4 396.5,210.3 397.8,205.8 399.0,202.0 400.2,198.7 401.5,196.9 402.8,195.4 404.0,193.9 405.2,192.2 406.5,190.6 407.8,189.1 409.0,188.0 410.2,187.4 411.5,187.4 412.8,187.0 414.0,186.1 415.2,184.9 416.5,183.9 417.8,183.3 419.0,183.0 420.2,182.7 421.5,182.0 422.8,181.0 424.0,179.8 425.2,179.0 426.5,178.7 427.8,178.5 429.0,178.1 430.2,177.0 431.5,175.1 432.8,173.3 434.0,171.8 435.2,170.5 436.5,168.8 437.8,166.7 439.0,164.2 440.2,161.9 441.5,160.1 442.8,158.9 444.0,158.0 445.2,156.9 446.5,155.5 447.8,153.9 449.0,152.4 450.2,151.4 451.5,151.3 452.8,150.9 454.0,150.1 455.2,149.3 456.5,148.3 457.8,147.9 459.0,148.9 460.2,150.2 461.5,150.9 462.8,150.8 464.0,150.6 465.2,150.8 466.5,152.5 467.8,154.6 469.0,157.3 470.2,159.5 471.5,161.4 472.8,163.2 474.0,165.1 475.2,167.5 476.5,170.2 477.8,172.7 479.0,174.8 480.2,176.8 481.5,179.4 482.8,182.4 484.0,185.9 485.2,189.4 486.5,192.6 487.8,195.3 489.0,197.8 490.2,200.5 491.5,203.2 492.8,205.9 494.0,208.4 495.2,210.4 496.5,211.8 497.8,213.3 499.0,215.3 500.2,217.7 501.5,219.7 502.8,221.4 504.0,222.9 505.2,224.2 506.5,225.5 507.8,227.2 509.0,229.1 510.2,230.9 511.5,232.7 512.8,234.1 514.0,235.6 515.2,237.5 516.5,239.8 517.8,242.2 519.0,244.3 520.2,246.1 521.5,247.2 522.8,248.6 524.0,250.3 525.2,252.1 526.3,255.0 527.2,159.5 528.8,161.4 530.3,225.0 531.2,220.0 532.3,165.9 533.4,215.0 535.0,230.0 536.5,203.3 538.0,180.0 539.5,201.2 541.0,183.6 542.5,207.7 544.0,235.0 546.5,250.0 547.5,274.1 555.3,276.1 556.6,200.0 557.7,181.0 558.8,200.0 560.2,276.6 575.0,279.1 589.2,281.6 590.0,272.9 590.8,281.9 595.5,282.9"/><polyline points="329.2,20.0 329.9,284.4 382.5,284.4 384.0,283.7 385.2,279.9 386.5,272.3 387.8,262.0 389.0,250.3 390.2,238.4 391.5,229.9 392.8,225.2 394.0,219.7 395.2,214.1 396.5,209.7 397.8,205.9 399.0,203.2 400.2,200.7 401.5,198.7 402.8,196.6 404.0,194.7 405.2,193.3 406.5,192.7 407.8,191.8 409.0,190.6 410.2,188.9 411.5,187.7 412.8,186.8 414.0,186.2 415.2,185.8 416.5,185.3 417.8,184.5 419.0,183.5 420.2,182.8 421.5,182.5 422.8,182.6 424.0,182.4 425.2,181.8 426.5,180.8 427.8,179.6 429.0,178.5 430.2,177.7 431.5,176.4 432.8,174.9 434.0,172.9 435.2,170.6 436.5,168.3 437.8,166.4 439.0,165.1 440.2,163.9 441.5,162.6 442.8,161.0 444.0,159.3 445.2,157.8 446.5,156.9 447.8,156.0 449.0,154.8 450.2,153.3 451.5,152.0 452.8,150.7 454.0,149.8 455.2,149.7 456.5,149.7 457.8,149.8 459.0,150.4 460.2,151.1 461.5,151.6 462.8,152.2 464.0,152.9 465.2,153.8 466.5,155.1 467.8,156.2 469.0,157.7 470.2,159.6 471.5,161.9 472.8,164.3 474.0,166.5 475.2,168.3 476.5,170.2 477.8,172.4 479.0,175.2 480.2,178.4 481.5,181.8 482.8,184.8 484.0,187.5 485.2,190.1 486.5,193.0 487.8,196.2 489.0,199.3 490.2,202.0 491.5,203.9 492.8,205.6 494.0,207.5 495.2,209.8 496.5,212.3 497.8,214.8 499.0,217.1 500.2,218.9 501.5,220.3 502.8,222.0 504.0,224.1 505.2,226.2 506.5,227.7 507.8,228.7 509.0,229.3 510.2,230.2 511.5,232.1 512.8,234.3 514.0,236.4 515.2,238.4 516.5,240.2 517.8,242.1 519.0,244.3 520.2,246.8 521.5,248.7 522.8,250.4 524.0,251.7 525.2,252.8 526.3,255.0 527.2,155.3 528.8,162.1 530.3,225.0 531.2,220.0 532.3,162.6 533.4,215.0 535.0,230.0 536.5,207.9 538.0,186.5 539.5,199.9 541.0,190.2 542.5,205.8 544.0,235.0 546.5,250.0 547.5,274.3 555.3,276.3 556.6,200.0 557.7,181.0 558.8,200.0 560.2,276.8 575.0,279.3 589.2,281.8 590.0,273.0 590.8,282.1 595.5,283.0"/><polyline points="329.2,20.0 329.9,284.4 382.5,284.4 384.0,283.7 385.2,279.9 386.5,272.5 387.8,262.7 389.0,251.3 390.2,239.1 391.5,230.2 392.8,225.9 394.0,221.2 395.2,216.6 396.5,212.2 397.8,207.7 399.0,204.0 400.2,200.9 401.5,199.3 402.8,197.9 404.0,196.4 405.2,194.7 406.5,193.2 407.8,191.7 409.0,190.7 410.2,190.1 411.5,189.9 412.8,189.2 414.0,188.1 415.2,186.8 416.5,185.9 417.8,185.4 419.0,185.2 420.2,184.8 421.5,184.1 422.8,183.2 424.0,182.2 425.2,181.6 426.5,181.3 427.8,181.1 429.0,180.5 430.2,179.2 431.5,177.2 432.8,175.4 434.0,173.9 435.2,172.6 436.5,170.8 437.8,168.6 439.0,166.2 440.2,164.0 441.5,162.6 442.8,161.6 444.0,160.7 445.2,159.5 446.5,158.1 447.8,156.5 449.0,155.0 450.2,154.1 451.5,153.8 452.8,153.3 454.0,152.3 455.2,151.4 456.5,150.5 457.8,150.3 459.0,151.5 460.2,152.8 461.5,153.5 462.8,153.4 464.0,153.3 465.2,153.6 466.5,155.3 467.8,157.4 469.0,159.9 470.2,161.9 471.5,163.6 472.8,165.2 474.0,167.1 475.2,169.5 476.5,172.1 477.8,174.5 479.0,176.6 480.2,178.7 481.5,181.4 482.8,184.6 484.0,188.1 485.2,191.5 486.5,194.5 487.8,197.1 489.0,199.5 490.2,202.2 491.5,204.8 492.8,207.4 494.0,209.7 495.2,211.5 496.5,213.0 497.8,214.7 499.0,216.9 500.2,219.4 501.5,221.5 502.8,223.2 504.0,224.6 505.2,225.9 506.5,227.3 507.8,229.0 509.0,230.8 510.2,232.3 511.5,233.9 512.8,235.2 514.0,236.7 515.2,238.6 516.5,241.0 517.8,243.3 519.0,245.5 520.2,247.2 521.5,248.3 522.8,249.8 524.0,251.5 525.2,253.3 526.3,255.0 527.2,158.3 528.8,158.0 530.3,225.0 531.2,220.0 532.3,161.8 533.4,215.0 535.0,230.0 536.5,206.0 538.0,180.3 539.5,196.1 541.0,182.6 542.5,208.5 544.0,235.0 546.5,250.0 547.5,274.5 555.3,276.5 556.6,200.0 557.7,181.0 558.8,200.0 560.2,277.0 575.0,279.5 589.2,282.0 590.0,273.2 590.8,282.3 595.5,283.2"/><polyline points="329.2,20.0 329.9,284.4 382.5,284.4 384.0,283.7 385.2,280.0 386.5,272.7 387.8,262.9 389.0,251.4 390.2,239.5 391.5,231.0 392.8,227.1 394.0,222.5 395.2,217.6 396.5,212.9 397.8,208.4 399.0,204.9 400.2,202.2 401.5,200.6 402.8,199.0 404.0,197.1 405.2,195.0 406.5,193.6 407.8,192.5 409.0,191.8 410.2,191.2 411.5,190.8 412.8,189.8 414.0,188.7 415.2,187.7 416.5,187.2 417.8,186.9 419.0,186.4 420.2,185.6 421.5,184.6 422.8,183.7 424.0,182.9 425.2,182.6 426.5,182.4 427.8,181.9 429.0,180.9 430.2,179.6 431.5,177.9 432.8,176.5 434.0,175.3 435.2,173.8 436.5,171.7 437.8,169.2 439.0,166.8 440.2,165.0 441.5,163.8 442.8,162.8 444.0,161.6 445.2,160.0 446.5,158.4 447.8,157.1 449.0,156.1 450.2,155.4 451.5,155.1 452.8,154.3 454.0,153.0 455.2,152.2 456.5,151.7 457.8,151.8 459.0,152.9 460.2,153.9 461.5,154.2 462.8,153.9 464.0,153.8 465.2,154.5 466.5,156.5 467.8,158.5 469.0,160.7 470.2,162.4 471.5,164.1 472.8,166.1 474.0,168.4 475.2,170.9 476.5,173.2 477.8,175.2 479.0,177.0 480.2,179.2 481.5,182.1 482.8,185.5 484.0,188.9 485.2,192.0 486.5,194.7 487.8,197.3 489.0,200.1 490.2,203.1 491.5,205.9 492.8,208.3 494.0,210.3 495.2,211.9 496.5,213.4 497.8,215.5 499.0,217.9 500.2,220.3 501.5,221.9 502.8,223.3 504.0,224.6 505.2,226.2 506.5,228.0 507.8,229.9 509.0,231.5 510.2,232.7 511.5,234.2 512.8,235.6 514.0,237.4 515.2,239.7 516.5,241.9 517.8,243.9 519.0,245.6 520.2,247.2 521.5,248.6 522.8,250.2 524.0,252.1 525.2,253.7 526.3,255.0 527.2,160.4 528.8,161.8 530.3,225.0 531.2,220.0 532.3,167.1 533.4,215.0 535.0,230.0 536.5,203.9 538.0,185.9 539.5,200.8 541.0,181.9 542.5,212.0 544.0,235.0 546.5,250.0 547.5,274.6 555.3,276.6 556.6,200.0 557.7,181.0 558.8,200.0 560.2,277.1 575.0,279.6 589.2,282.1 590.0,273.3 590.8,282.4 595.5,283.3"/><polyline points="329.2,20.0 330.0,284.4 382.5,284.4 384.0,283.7 385.2,280.2 386.5,273.0 387.8,263.1 389.0,251.6 390.2,240.0 391.5,231.6 392.8,227.3 394.0,222.1 395.2,217.0 396.5,213.0 397.8,209.7 399.0,207.4 400.2,205.2 401.5,203.3 402.8,201.0 404.0,198.7 405.2,196.7 406.5,195.5 407.8,194.3 409.0,192.8 410.2,191.0 411.5,189.8 412.8,189.0 414.0,188.7 415.2,188.8 416.5,188.8 417.8,188.5 419.0,187.8 420.2,187.1 421.5,186.7 422.8,186.5 424.0,185.9 425.2,184.9 426.5,183.4 427.8,181.8 429.0,180.4 430.2,179.4 431.5,178.3 432.8,177.1 434.0,175.7 435.2,173.9 436.5,172.0 437.8,170.5 439.0,169.3 440.2,168.2 441.5,166.9 442.8,165.1 444.0,162.9 445.2,161.0 446.5,159.4 447.8,158.2 449.0,157.0 450.2,155.6 451.5,154.5 452.8,153.5 454.0,153.0 455.2,153.4 456.5,154.0 457.8,154.4 459.0,155.3 460.2,155.8 461.5,156.1 462.8,156.1 464.0,156.4 465.2,156.8 466.5,157.7 467.8,158.5 469.0,159.9 470.2,161.7 471.5,164.2 472.8,167.0 474.0,169.6 475.2,171.8 476.5,174.1 477.8,176.4 479.0,179.1 480.2,182.1 481.5,185.2 482.8,187.8 484.0,190.0 485.2,192.1 486.5,194.4 487.8,197.3 489.0,200.3 490.2,203.2 491.5,205.5 492.8,207.6 494.0,209.9 495.2,212.6 496.5,215.4 497.8,218.2 499.0,220.5 500.2,222.1 501.5,223.1 502.8,224.3 504.0,225.8 505.2,227.4 506.5,228.7 507.8,229.6 509.0,230.3 510.2,231.3 511.5,233.5 512.8,236.1 514.0,238.8 515.2,241.2 516.5,243.1 517.8,244.9 519.0,246.8 520.2,248.9 521.5,250.4 522.8,251.7 524.0,252.7 525.2,253.5 526.3,255.0 527.2,162.9 528.8,160.4 530.3,225.0 531.2,220.0 532.3,167.9 533.4,215.0 535.0,230.0 536.5,204.3 538.0,182.4 539.5,202.8 541.0,186.4 542.5,214.5 544.0,235.0 546.5,250.0 547.5,274.8 555.3,276.8 556.6,200.0 557.7,181.0 558.8,200.0 560.2,277.3 575.0,279.8 589.2,282.3 590.0,273.5 590.8,282.6 595.5,283.5"/><polyline points="329.2,20.0 330.0,284.4 382.5,284.4 384.0,283.7 385.2,280.2 386.5,273.2 387.8,264.0 389.0,253.2 390.2,241.6 391.5,232.9 392.8,228.6 394.0,224.0 395.2,219.3 396.5,214.9 397.8,210.4 399.0,206.8 400.2,203.9 401.5,202.3 402.8,201.0 404.0,199.5 405.2,197.8 406.5,196.2 407.8,194.8 409.0,193.8 410.2,193.1 411.5,192.8 412.8,192.0 414.0,190.8 415.2,189.5 416.5,188.6 417.8,188.2 419.0,188.0 420.2,187.6 421.5,187.0 422.8,186.1 424.0,185.1 425.2,184.6 426.5,184.3 427.8,184.0 429.0,183.3 430.2,181.9 431.5,179.9 432.8,178.1 434.0,176.7 435.2,175.3 436.5,173.5 437.8,171.3 439.0,169.0 440.2,166.9 441.5,165.6 442.8,164.7 444.0,163.9 445.2,162.7 446.5,161.2 447.8,159.6 449.0,158.2 450.2,157.2 451.5,156.9 452.8,156.4 454.0,155.3 455.2,154.4 456.5,153.6 457.8,153.5 459.0,154.7 460.2,156.1 461.5,156.8 462.8,156.7 464.0,156.5 465.2,156.9 466.5,158.6 467.8,160.6 469.0,163.0 470.2,164.8 471.5,166.4 472.8,167.9 474.0,169.8 475.2,172.1 476.5,174.7 477.8,177.0 479.0,179.1 480.2,181.1 481.5,183.9 482.8,187.1 484.0,190.6 485.2,193.9 486.5,196.8 487.8,199.2 489.0,201.6 490.2,204.2 491.5,206.8 492.8,209.3 494.0,211.6 495.2,213.3 496.5,214.8 497.8,216.6 499.0,218.9 500.2,221.5 501.5,223.5 502.8,225.2 504.0,226.6 505.2,227.9 506.5,229.3 507.8,231.0 509.0,232.6 510.2,234.1 511.5,235.6 512.8,236.8 514.0,238.3 515.2,240.3 516.5,242.6 517.8,244.9 519.0,246.9 520.2,248.6 521.5,249.7 522.8,251.2 524.0,252.9 525.2,254.6 526.3,255.0 527.2,157.7 528.8,165.5 530.3,225.0 531.2,220.0 532.3,165.7 533.4,215.0 535.0,230.0 536.5,200.3 538.0,180.5 539.5,195.7 541.0,191.9 542.5,214.7 544.0,235.0 546.5,250.0 547.5,274.9 555.3,276.9 556.6,200.0 557.7,181.0 558.8,200.0 560.2,277.4 575.0,279.9 589.2,282.4 590.0,273.7 590.8,282.7 595.5,283.7"/><polyline points="329.2,20.0 330.0,284.4 382.5,284.4 384.0,283.8 385.2,280.4 386.5,273.5 387.8,264.2 389.0,253.6 390.2,242.7 391.5,234.2 392.8,229.3 394.0,223.8 395.2,218.6 396.5,214.7 397.8,211.5 399.0,209.1 400.2,206.6 401.5,204.6 402.8,202.5 404.0,200.7 405.2,199.3 406.5,198.4 407.8,197.1 409.0,195.3 410.2,193.4 411.5,192.1 412.8,191.3 414.0,191.0 415.2,190.7 416.5,190.3 417.8,189.6 419.0,188.9 420.2,188.5 421.5,188.5 422.8,188.6 424.0,188.1 425.2,187.1 426.5,185.6 427.8,184.2 429.0,183.1 430.2,182.2 431.5,180.8 432.8,179.2 434.0,177.2 435.2,175.2 436.5,173.4 437.8,172.1 439.0,171.0 440.2,169.9 441.5,168.5 442.8,166.8 444.0,165.0 445.2,163.6 446.5,162.5 447.8,161.3 449.0,159.8 450.2,158.0 451.5,156.7 452.8,155.6 454.0,155.2 455.2,155.5 456.5,155.7 457.8,155.9 459.0,156.6 460.2,157.4 461.5,158.2 462.8,158.7 464.0,159.2 465.2,159.5 466.5,160.3 467.8,161.0 469.0,162.5 470.2,164.4 471.5,166.8 472.8,169.1 474.0,171.1 475.2,172.9 476.5,175.0 477.8,177.6 479.0,180.6 480.2,183.7 481.5,186.8 482.8,189.4 484.0,191.7 485.2,194.1 486.5,196.8 487.8,199.7 489.0,202.6 490.2,204.9 491.5,206.7 492.8,208.5 494.0,210.8 495.2,213.6 496.5,216.4 497.8,219.0 499.0,221.1 500.2,222.9 501.5,224.3 502.8,226.0 504.0,227.9 505.2,229.6 506.5,230.6 507.8,231.2 509.0,231.7 510.2,232.8 511.5,235.0 512.8,237.3 514.0,239.6 515.2,241.6 516.5,243.3 517.8,245.3 519.0,247.6 520.2,250.0 521.5,251.6 522.8,252.8 524.0,253.7 525.2,254.5 526.3,255.0 527.2,161.6 528.8,158.7 530.3,225.0 531.2,220.0 532.3,164.1 533.4,215.0 535.0,230.0 536.5,205.2 538.0,181.6 539.5,195.5 541.0,191.8 542.5,209.4 544.0,235.0 546.5,250.0 547.5,275.1 555.3,277.1 556.6,200.0 557.7,181.0 558.8,200.0 560.2,277.6 575.0,280.1 589.2,282.6 590.0,273.8 590.8,282.9 595.5,283.8"/><polyline points="329.2,20.0 330.0,284.4 382.5,284.4 384.0,283.7 385.2,280.4 386.5,273.7 387.8,264.6 389.0,254.1 390.2,243.4 391.5,235.5 392.8,231.6 394.0,226.7 395.2,221.4 396.5,216.7 397.8,212.4 399.0,209.4 400.2,206.9 401.5,205.3 402.8,203.4 404.0,201.3 405.2,199.3 406.5,198.1 407.8,197.4 409.0,196.7 410.2,195.8 411.5,194.9 412.8,193.8 414.0,192.7 415.2,192.0 416.5,191.7 417.8,191.3 419.0,190.5 420.2,189.4 421.5,188.5 422.8,187.9 424.0,187.5 425.2,187.3 426.5,186.8 427.8,185.9 429.0,184.8 430.2,183.5 431.5,182.2 432.8,181.0 434.0,179.7 435.2,177.9 436.5,175.5 437.8,173.1 439.0,171.0 440.2,169.6 441.5,168.6 442.8,167.4 444.0,166.0 445.2,164.3 446.5,162.9 447.8,161.9 449.0,161.1 450.2,160.4 451.5,159.7 452.8,158.6 454.0,157.3 455.2,156.7 456.5,156.6 457.8,156.9 459.0,157.9 460.2,158.5 461.5,158.6 462.8,158.5 464.0,158.8 465.2,159.7 466.5,161.6 467.8,163.3 469.0,165.0 470.2,166.6 471.5,168.4 472.8,170.6 474.0,172.9 475.2,175.0 476.5,176.9 477.8,178.6 479.0,180.5 480.2,182.9 481.5,186.1 482.8,189.5 484.0,192.5 485.2,195.2 486.5,197.7 487.8,200.5 489.0,203.5 490.2,206.6 491.5,209.1 492.8,211.1 494.0,212.8 495.2,214.4 496.5,216.3 497.8,218.7 499.0,221.1 500.2,223.3 501.5,224.6 502.8,225.9 504.0,227.5 505.2,229.4 506.5,231.3 507.8,233.0 509.0,234.2 510.2,235.1 511.5,236.5 512.8,238.2 514.0,240.3 515.2,242.4 516.5,244.3 517.8,245.9 519.0,247.5 520.2,249.2 521.5,250.7 522.8,252.5 524.0,254.1 525.2,255.5 526.3,255.0 527.2,156.6 528.8,160.9 530.3,225.0 531.2,220.0 532.3,171.6 533.4,215.0 535.0,230.0 536.5,207.4 538.0,181.8 539.5,195.1 541.0,189.6 542.5,207.7 544.0,235.0 546.5,250.0 547.5,275.3 555.3,277.3 556.6,200.0 557.7,181.0 558.8,200.0 560.2,277.8 575.0,280.3 589.2,282.8 590.0,274.0 590.8,283.1 595.5,284.0"/><polyline points="329.2,20.0 330.1,284.4 382.5,284.4 384.0,283.8 385.2,280.5 386.5,274.0 387.8,265.5 389.0,255.5 390.2,244.9 391.5,236.2 392.8,231.7 394.0,227.0 395.2,222.4 396.5,218.3 397.8,214.0 399.0,210.4 400.2,207.4 401.5,205.8 402.8,204.6 404.0,203.2 405.2,201.6 406.5,200.1 407.8,198.5 409.0,197.2 410.2,196.4 411.5,196.1 412.8,195.4 414.0,194.3 415.2,192.9 416.5,191.9 417.8,191.4 419.0,191.2 420.2,191.0 421.5,190.6 422.8,189.8 424.0,188.7 425.2,188.0 426.5,187.6 427.8,187.4 429.0,186.7 430.2,185.4 431.5,183.3 432.8,181.3 434.0,179.7 435.2,178.4 436.5,176.7 437.8,174.8 439.0,172.6 440.2,170.6 441.5,169.2 442.8,168.2 444.0,167.5 445.2,166.5 446.5,165.2 447.8,163.5 449.0,161.9 450.2,160.7 451.5,160.4 452.8,159.9 454.0,159.0 455.2,158.2 456.5,157.4 457.8,157.3 459.0,158.4 460.2,159.8 461.5,160.8 462.8,160.8 464.0,160.6 465.2,160.8 466.5,162.3 467.8,164.2 469.0,166.6 470.2,168.5 471.5,170.0 472.8,171.3 474.0,172.9 475.2,175.1 476.5,177.6 477.8,180.1 479.0,182.3 480.2,184.3 481.5,186.9 482.8,189.9 484.0,193.3 485.2,196.7 486.5,199.6 487.8,202.0 489.0,204.2 490.2,206.6 491.5,208.9 492.8,211.5 494.0,213.8 495.2,215.7 496.5,217.3 497.8,219.0 499.0,221.2 500.2,223.8 501.5,225.9 502.8,227.8 504.0,229.2 505.2,230.4 506.5,231.6 507.8,233.0 509.0,234.6 510.2,236.1 511.5,237.7 512.8,239.0 514.0,240.4 515.2,242.1 516.5,244.3 517.8,246.7 519.0,248.8 520.2,250.5 521.5,251.5 522.8,252.8 524.0,254.3 525.2,255.9 526.3,255.0 527.2,160.6 528.8,160.9 530.3,225.0 531.2,220.0 532.3,167.0 533.4,215.0 535.0,230.0 536.5,204.1 538.0,181.5 539.5,200.5 541.0,191.7 542.5,206.1 544.0,235.0 546.5,250.0 547.5,275.4 555.3,277.4 556.6,200.0 557.7,181.0 558.8,200.0 560.2,277.9 575.0,280.4 589.2,282.9 590.0,274.2 590.8,283.2 595.5,284.2"/><polyline points="329.2,20.0 330.1,284.4 382.5,284.4 384.0,283.8 385.2,280.5 386.5,274.1 387.8,265.6 389.0,255.7 390.2,245.4 391.5,237.0 392.8,233.0 394.0,228.8 395.2,224.6 396.5,220.7 397.8,216.5 399.0,212.9 400.2,209.7 401.5,207.8 402.8,206.1 404.0,204.3 405.2,202.3 406.5,200.5 407.8,198.9 409.0,197.8 410.2,197.2 411.5,197.3 412.8,197.0 414.0,196.1 415.2,195.1 416.5,194.3 417.8,193.9 419.0,193.6 420.2,193.1 421.5,192.2 422.8,190.9 424.0,189.5 425.2,188.5 426.5,188.1 427.8,187.8 429.0,187.2 430.2,186.1 431.5,184.5 432.8,183.0 434.0,181.8 435.2,180.7 436.5,179.2 437.8,177.2 439.0,174.8 440.2,172.5 441.5,170.7 442.8,169.4 444.0,168.3 445.2,167.1 446.5,165.6 447.8,164.0 449.0,162.7 450.2,161.9 451.5,162.0 452.8,162.0 454.0,161.4 455.2,160.8 456.5,160.1 457.8,159.8 459.0,160.8 460.2,161.8 461.5,162.3 462.8,161.8 464.0,161.3 465.2,161.3 466.5,162.8 467.8,164.9 469.0,167.5 470.2,169.7 471.5,171.6 472.8,173.3 474.0,175.2 475.2,177.5 476.5,180.0 477.8,182.2 479.0,184.0 480.2,185.7 481.5,187.8 482.8,190.5 484.0,193.6 485.2,196.8 486.5,199.7 487.8,202.3 489.0,204.8 490.2,207.6 491.5,210.4 492.8,213.2 494.0,215.8 495.2,217.7 496.5,219.2 497.8,220.7 499.0,222.6 500.2,224.8 501.5,226.5 502.8,227.9 504.0,229.1 505.2,230.3 506.5,231.6 507.8,233.4 509.0,235.3 510.2,237.2 511.5,239.2 512.8,240.7 514.0,242.3 515.2,244.0 516.5,246.0 517.8,248.0 519.0,249.7 520.2,251.0 521.5,251.7 522.8,252.8 524.0,254.2 525.2,255.8 526.3,255.0 527.2,161.4 528.8,163.6 530.3,225.0 531.2,220.0 532.3,163.0 533.4,215.0 535.0,230.0 536.5,204.2 538.0,184.4 539.5,201.6 541.0,182.0 542.5,213.8 544.0,235.0 546.5,250.0 547.5,275.7 555.3,277.7 556.6,200.0 557.7,181.0 558.8,200.0 560.2,278.2 575.0,280.7 589.2,283.2 590.0,274.4 590.8,283.5 595.5,284.4"/><polyline points="329.2,20.0 330.1,284.4 382.5,284.4 384.0,283.8 385.2,280.8 386.5,274.8 387.8,266.8 389.0,257.1 390.2,246.8 391.5,238.2 392.8,233.9 394.0,229.4 395.2,224.7 396.5,220.6 397.8,216.5 399.0,213.4 400.2,211.0 401.5,209.8 402.8,208.6 404.0,206.9 405.2,204.9 406.5,203.1 407.8,201.5 409.0,200.1 410.2,199.1 411.5,198.4 412.8,197.4 414.0,196.1 415.2,195.0 416.5,194.5 417.8,194.5 419.0,194.6 420.2,194.4 421.5,193.9 422.8,193.1 424.0,192.1 425.2,191.5 426.5,191.0 427.8,190.2 429.0,188.9 430.2,187.2 431.5,185.1 432.8,183.4 434.0,182.2 435.2,181.0 436.5,179.5 437.8,177.6 439.0,175.7 440.2,174.1 441.5,173.1 442.8,172.3 444.0,171.3 445.2,169.8 446.5,168.0 447.8,166.1 449.0,164.5 450.2,163.4 451.5,163.0 452.8,162.4 454.0,161.4 455.2,160.8 456.5,160.5 457.8,161.0 459.0,162.5 460.2,164.0 461.5,164.7 462.8,164.4 464.0,164.0 465.2,164.2 466.5,165.6 467.8,167.2 469.0,169.1 470.2,170.5 471.5,171.8 472.8,173.3 474.0,175.4 475.2,177.9 476.5,180.6 477.8,183.0 479.0,185.1 480.2,187.3 481.5,190.1 482.8,193.2 484.0,196.4 485.2,199.2 486.5,201.4 487.8,203.4 489.0,205.5 490.2,208.0 491.5,210.5 492.8,213.1 494.0,215.3 495.2,217.3 496.5,219.2 497.8,221.4 499.0,224.1 500.2,226.8 501.5,228.7 502.8,230.1 504.0,231.1 505.2,232.1 506.5,233.3 507.8,234.7 509.0,236.0 510.2,237.1 511.5,238.6 512.8,240.0 514.0,241.9 515.2,244.1 516.5,246.6 517.8,248.9 519.0,250.7 520.2,252.2 521.5,253.2 522.8,254.5 524.0,255.9 525.2,257.2 526.3,255.0 527.2,162.7 528.8,164.5 530.3,225.0 531.2,220.0 532.3,171.2 533.4,215.0 535.0,230.0 536.5,205.4 538.0,180.2 539.5,204.2 541.0,187.1 542.5,208.5 544.0,235.0 546.5,250.0 547.5,275.9 555.3,277.9 556.6,200.0 557.7,181.0 558.8,200.0 560.2,278.4 575.0,280.9 589.2,283.4 590.0,274.6 590.8,283.7 595.5,284.6"/></g><g fill="#fff"><polygon points="427.0,186 427.4,28 430.6,28 431.0,186"/><polygon points="437.6,180 438.8,110 439.4,45 440.2,39 441.6,39 442.4,50 442.9,110 443.4,178"/><polygon points="446.0,172 446.6,115 448.8,115 449.4,168"/><polygon points="526.2,259 526.2,160 527.2,153.75 529.5,156 530.3,185 530.8,170 531.5,160.6 533.5,164 534.0,182.5 538.0,180 541.0,177.5 542.8,180 543.5,215 544.5,250 547.0,258 547.0,263 536.0,262"/><polygon points="555.2,278 556.6,200 557.4,181 558.2,181 559.2,205 560.4,278"/></g></g>
<g font-family="DejaVu Sans, Liberation Sans, sans-serif" fill="#000"><text x="180.7" y="15.6" font-size="16.6" text-anchor="middle">3.3 (Tile123=123) X</text><text x="461.7" y="15.6" font-size="16.6" text-anchor="middle">3.3 (Tile123=123) Y</text><text x="32" y="42.0" font-size="13.33" text-anchor="end">On</text><text x="612.5" y="42.0" font-size="13.33">On</text><text x="33.6" y="58.6" font-size="13.33" text-anchor="end">Y</text><text x="612.5" y="58.6" font-size="13.33">Y</text><text x="32" y="75.3" font-size="13.33" text-anchor="end">Off</text><text x="612.5" y="75.3" font-size="13.33">Off</text><text x="32" y="92.0" font-size="13.33" text-anchor="end">P</text><text x="612.5" y="92.0" font-size="13.33">P</text><text x="32" y="108.6" font-size="13.33" text-anchor="end">O</text><text x="612.5" y="108.6" font-size="13.33">O</text><text x="32" y="125.3" font-size="13.33" text-anchor="end">N</text><text x="612.5" y="125.3" font-size="13.33">N</text><text x="32" y="142.0" font-size="13.33" text-anchor="end">M</text><text x="612.5" y="142.0" font-size="13.33">M</text><text x="32" y="158.7" font-size="13.33" text-anchor="end">L</text><text x="612.5" y="158.7" font-size="13.33">L</text><text x="32" y="175.3" font-size="13.33" text-anchor="end">K</text><text x="612.5" y="175.3" font-size="13.33">K</text><text x="32" y="192.0" font-size="13.33" text-anchor="end">J</text><text x="612.5" y="192.0" font-size="13.33">J</text><text x="32" y="208.7" font-size="13.33" text-anchor="end">I</text><text x="612.5" y="208.7" font-size="13.33">I</text><text x="32" y="225.3" font-size="13.33" text-anchor="end">H</text><text x="612.5" y="225.3" font-size="13.33">H</text><text x="32" y="242.0" font-size="13.33" text-anchor="end">G</text><text x="612.5" y="242.0" font-size="13.33">G</text><text x="32" y="258.7" font-size="13.33" text-anchor="end">F</text><text x="612.5" y="258.7" font-size="13.33">F</text><text x="32" y="275.4" font-size="13.33" text-anchor="end">E</text><text x="612.5" y="275.4" font-size="13.33">E</text><text x="32" y="292.0" font-size="13.33" text-anchor="end">D</text><text x="612.5" y="292.0" font-size="13.33">D</text><text x="32" y="308.7" font-size="13.33" text-anchor="end">C</text><text x="612.5" y="308.7" font-size="13.33">C</text><text x="32" y="325.4" font-size="13.33" text-anchor="end">B</text><text x="612.5" y="325.4" font-size="13.33">B</text><text x="32" y="342.0" font-size="13.33" text-anchor="end">A</text><text x="612.5" y="342.0" font-size="13.33">A</text><text x="32" y="358.7" font-size="13.33" text-anchor="end">Off</text><text x="612.5" y="358.7" font-size="13.33">Off</text><text x="32" y="375.4" font-size="13.33" text-anchor="end">X</text><text x="612.5" y="375.4" font-size="13.33">X</text><text x="32" y="392.1" font-size="13.33" text-anchor="end">On</text><text x="612.5" y="392.1" font-size="13.33">On</text><text transform="translate(1.6,218.5) rotate(-90)" font-size="13.33" text-anchor="middle">Dipole</text><rect x="48.60" y="408.2" width="1.1" height="5.5"/><text transform="translate(49.25,425.7) scale(.9,1)" font-size="10.2" letter-spacing="-0.4" text-anchor="middle">0</text><rect x="89.33" y="408.2" width="1.1" height="5.5"/><text transform="translate(89.97,425.7) scale(.9,1)" font-size="10.2" letter-spacing="-0.4" text-anchor="middle">50</text><rect x="130.05" y="408.2" width="1.1" height="5.5"/><text transform="translate(130.70,425.7) scale(.9,1)" font-size="10.2" letter-spacing="-0.4" text-anchor="middle">100</text><rect x="170.77" y="408.2" width="1.1" height="5.5"/><text transform="translate(171.42,425.7) scale(.9,1)" font-size="10.2" letter-spacing="-0.4" text-anchor="middle">150</text><rect x="211.50" y="408.2" width="1.1" height="5.5"/><text transform="translate(212.15,425.7) scale(.9,1)" font-size="10.2" letter-spacing="-0.4" text-anchor="middle">200</text><rect x="252.22" y="408.2" width="1.1" height="5.5"/><text transform="translate(252.88,425.7) scale(.9,1)" font-size="10.2" letter-spacing="-0.4" text-anchor="middle">250</text><rect x="292.95" y="408.2" width="1.1" height="5.5"/><text transform="translate(293.60,425.7) scale(.9,1)" font-size="10.2" letter-spacing="-0.4" text-anchor="middle">300</text><rect x="328.60" y="408.2" width="1.1" height="5.5"/><text transform="translate(329.25,425.7) scale(.9,1)" font-size="10.2" letter-spacing="-0.4" text-anchor="middle">0</text><rect x="369.32" y="408.2" width="1.1" height="5.5"/><text transform="translate(369.98,425.7) scale(.9,1)" font-size="10.2" letter-spacing="-0.4" text-anchor="middle">50</text><rect x="410.05" y="408.2" width="1.1" height="5.5"/><text transform="translate(410.70,425.7) scale(.9,1)" font-size="10.2" letter-spacing="-0.4" text-anchor="middle">100</text><rect x="450.77" y="408.2" width="1.1" height="5.5"/><text transform="translate(451.43,425.7) scale(.9,1)" font-size="10.2" letter-spacing="-0.4" text-anchor="middle">150</text><rect x="491.50" y="408.2" width="1.1" height="5.5"/><text transform="translate(492.15,425.7) scale(.9,1)" font-size="10.2" letter-spacing="-0.4" text-anchor="middle">200</text><rect x="532.23" y="408.2" width="1.1" height="5.5"/><text transform="translate(532.88,425.7) scale(.9,1)" font-size="10.2" letter-spacing="-0.4" text-anchor="middle">250</text><rect x="572.95" y="408.2" width="1.1" height="5.5"/><text transform="translate(573.60,425.7) scale(.9,1)" font-size="10.2" letter-spacing="-0.4" text-anchor="middle">300</text></g><g font-family="DejaVu Sans, Liberation Sans, sans-serif" fill="#fff" font-size="13.33"><g clip-path="url(#cl)"><text x="79.7" y="289.3" letter-spacing="-0.45">0</text><text x="310.4" y="289.3" letter-spacing="-0.45">0</text><rect x="69.4" y="235.5" width="5.6" height="1.4"/><text x="79.7" y="241.1" letter-spacing="-0.45">5</text><text x="310.4" y="241.1" letter-spacing="-0.45">5</text><rect x="69.4" y="187.4" width="5.6" height="1.4"/><text x="79.7" y="193.0" letter-spacing="-0.45">10</text><text x="301.9" y="193.0" letter-spacing="-0.45">10</text><rect x="69.4" y="139.2" width="5.6" height="1.4"/><text x="79.7" y="144.8" letter-spacing="-0.45">15</text><text x="301.9" y="144.8" letter-spacing="-0.45">15</text><rect x="69.4" y="91.1" width="5.6" height="1.4"/><text x="79.7" y="96.7" letter-spacing="-0.45">20</text><text x="301.9" y="96.7" letter-spacing="-0.45">20</text><rect x="69.4" y="42.9" width="5.6" height="1.4"/><text x="79.7" y="48.5" letter-spacing="-0.45">25</text><text x="301.9" y="48.5" letter-spacing="-0.45">25</text></g><g clip-path="url(#cr)"><text x="359.7" y="289.3" letter-spacing="-0.45">0</text><rect x="349.4" y="235.5" width="5.6" height="1.4"/><text x="359.7" y="241.1" letter-spacing="-0.45">5</text><rect x="349.4" y="187.4" width="5.6" height="1.4"/><text x="359.7" y="193.0" letter-spacing="-0.45">10</text><rect x="349.4" y="139.2" width="5.6" height="1.4"/><text x="359.7" y="144.8" letter-spacing="-0.45">15</text><rect x="349.4" y="91.1" width="5.6" height="1.4"/><text x="359.7" y="96.7" letter-spacing="-0.45">20</text><rect x="349.4" y="42.9" width="5.6" height="1.4"/><text x="359.7" y="48.5" letter-spacing="-0.45">25</text></g></g>
</svg></body></html>
